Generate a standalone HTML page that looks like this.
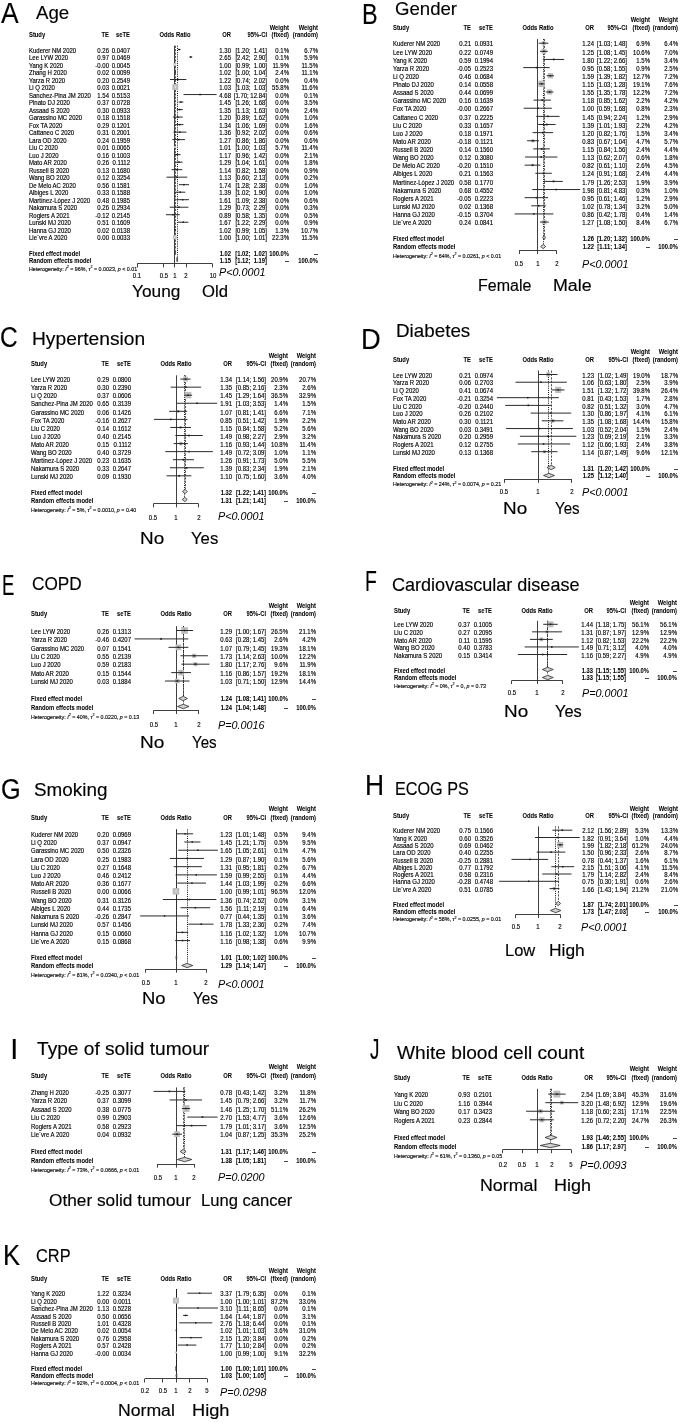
<!DOCTYPE html>
<html><head><meta charset="utf-8"><title>Forest plots</title><style>
html,body{margin:0;padding:0;background:#fff;}
body{width:685px;height:1422px;position:relative;overflow:hidden;filter:blur(0.3px);font-family:"Liberation Sans", sans-serif;color:#000;}
#t div{position:absolute;white-space:pre;}
#t div.s{-webkit-text-stroke:0.15px #000;}
#t div.sb{-webkit-text-stroke:0.05px #000;}
#t div.L{-webkit-text-stroke:0.15px #000;}
sup{font-size:0.7em;vertical-align:0;position:relative;top:-0.62em;line-height:0;}
svg{position:absolute;left:0;top:0;}
</style></head><body>
<svg width="685" height="1422" viewBox="0 0 685 1422">
<line x1="174.50" y1="45.70" x2="174.50" y2="263.80" stroke="#2a2a2a" stroke-width="0.90"/>
<line x1="175.50" y1="45.70" x2="175.50" y2="250.10" stroke="#2a2a2a" stroke-width="0.80" stroke-dasharray="2.2,1.2"/>
<line x1="177.50" y1="45.70" x2="177.50" y2="257.50" stroke="#111" stroke-width="1.00" stroke-dasharray="1,1.15"/>
<line x1="177.83" y1="49.50" x2="180.47" y2="49.50" stroke="#2a2a2a" stroke-width="1.00"/>
<rect x="178.39" y="48.75" width="1.50" height="1.50" fill="#1a1a1a"/>
<line x1="189.30" y1="57.01" x2="192.26" y2="57.01" stroke="#2a2a2a" stroke-width="1.00"/>
<rect x="190.04" y="56.26" width="1.50" height="1.50" fill="#1a1a1a"/>
<rect x="173.46" y="63.13" width="2.77" height="2.77" fill="#bebebe"/>
<line x1="174.85" y1="63.91" x2="174.85" y2="65.13" stroke="#f2f2f2" stroke-width="0.90"/>
<rect x="174.55" y="71.41" width="1.25" height="1.25" fill="#bebebe"/>
<line x1="174.85" y1="72.03" x2="175.49" y2="72.03" stroke="#2a2a2a" stroke-width="1.00"/>
<rect x="174.42" y="71.28" width="1.50" height="1.50" fill="#1a1a1a"/>
<line x1="169.93" y1="79.54" x2="186.35" y2="79.54" stroke="#2a2a2a" stroke-width="1.00"/>
<rect x="177.35" y="78.79" width="1.50" height="1.50" fill="#1a1a1a"/>
<rect x="172.33" y="84.05" width="6.01" height="6.01" fill="#bebebe"/>
<line x1="175.33" y1="85.73" x2="175.33" y2="88.37" stroke="#f2f2f2" stroke-width="0.90"/>
<line x1="183.53" y1="94.56" x2="216.59" y2="94.56" stroke="#2a2a2a" stroke-width="1.00"/>
<rect x="199.33" y="93.81" width="1.50" height="1.50" fill="#1a1a1a"/>
<line x1="178.63" y1="102.07" x2="183.33" y2="102.07" stroke="#2a2a2a" stroke-width="1.00"/>
<rect x="180.18" y="101.32" width="1.50" height="1.50" fill="#1a1a1a"/>
<line x1="176.85" y1="109.58" x2="182.84" y2="109.58" stroke="#2a2a2a" stroke-width="1.00"/>
<rect x="179.01" y="108.83" width="1.50" height="1.50" fill="#1a1a1a"/>
<line x1="172.94" y1="117.09" x2="182.74" y2="117.09" stroke="#2a2a2a" stroke-width="1.00"/>
<rect x="177.08" y="116.34" width="1.50" height="1.50" fill="#1a1a1a"/>
<line x1="175.80" y1="124.60" x2="183.43" y2="124.60" stroke="#2a2a2a" stroke-width="1.00"/>
<rect x="178.89" y="123.85" width="1.50" height="1.50" fill="#1a1a1a"/>
<line x1="173.49" y1="132.11" x2="186.35" y2="132.11" stroke="#2a2a2a" stroke-width="1.00"/>
<rect x="179.13" y="131.36" width="1.50" height="1.50" fill="#1a1a1a"/>
<line x1="172.38" y1="139.62" x2="185.00" y2="139.62" stroke="#2a2a2a" stroke-width="1.00"/>
<rect x="178.01" y="138.87" width="1.50" height="1.50" fill="#1a1a1a"/>
<rect x="174.05" y="146.17" width="1.92" height="1.92" fill="#bebebe"/>
<line x1="175.01" y1="146.71" x2="175.01" y2="147.55" stroke="#f2f2f2" stroke-width="0.90"/>
<line x1="174.18" y1="154.64" x2="180.58" y2="154.64" stroke="#2a2a2a" stroke-width="1.00"/>
<rect x="176.67" y="153.89" width="1.50" height="1.50" fill="#1a1a1a"/>
<line x1="175.49" y1="162.15" x2="182.64" y2="162.15" stroke="#2a2a2a" stroke-width="1.00"/>
<rect x="178.26" y="161.40" width="1.50" height="1.50" fill="#1a1a1a"/>
<line x1="171.61" y1="169.66" x2="182.33" y2="169.66" stroke="#2a2a2a" stroke-width="1.00"/>
<rect x="176.24" y="168.91" width="1.50" height="1.50" fill="#1a1a1a"/>
<line x1="166.50" y1="177.17" x2="187.21" y2="177.17" stroke="#2a2a2a" stroke-width="1.00"/>
<rect x="176.10" y="176.42" width="1.50" height="1.50" fill="#1a1a1a"/>
<line x1="178.89" y1="184.68" x2="189.03" y2="184.68" stroke="#2a2a2a" stroke-width="1.00"/>
<rect x="183.16" y="183.93" width="1.50" height="1.50" fill="#1a1a1a"/>
<line x1="175.17" y1="192.19" x2="185.35" y2="192.19" stroke="#2a2a2a" stroke-width="1.00"/>
<rect x="179.48" y="191.44" width="1.50" height="1.50" fill="#1a1a1a"/>
<line x1="176.26" y1="199.70" x2="189.03" y2="199.70" stroke="#2a2a2a" stroke-width="1.00"/>
<rect x="181.89" y="198.95" width="1.50" height="1.50" fill="#1a1a1a"/>
<line x1="169.70" y1="207.21" x2="188.40" y2="207.21" stroke="#2a2a2a" stroke-width="1.00"/>
<rect x="178.26" y="206.46" width="1.50" height="1.50" fill="#1a1a1a"/>
<line x1="165.94" y1="214.72" x2="179.76" y2="214.72" stroke="#2a2a2a" stroke-width="1.00"/>
<rect x="172.19" y="213.97" width="1.50" height="1.50" fill="#1a1a1a"/>
<line x1="178.10" y1="222.23" x2="188.40" y2="222.23" stroke="#2a2a2a" stroke-width="1.00"/>
<rect x="182.49" y="221.48" width="1.50" height="1.50" fill="#1a1a1a"/>
<rect x="174.72" y="229.28" width="0.92" height="0.92" fill="#bebebe"/>
<line x1="174.69" y1="229.74" x2="175.65" y2="229.74" stroke="#2a2a2a" stroke-width="1.00"/>
<rect x="174.42" y="228.99" width="1.50" height="1.50" fill="#1a1a1a"/>
<rect x="172.95" y="235.35" width="3.80" height="3.80" fill="#bebebe"/>
<line x1="174.85" y1="236.41" x2="174.85" y2="238.09" stroke="#f2f2f2" stroke-width="0.90"/>
<polygon points="175.17,252.50 175.17,250.30 175.17,252.50 175.17,254.70" fill="#d2d2d2" stroke="#2a2a2a" stroke-width="0.8"/>
<polygon points="176.70,259.50 177.14,257.30 177.69,259.50 177.14,261.70" fill="#d2d2d2" stroke="#2a2a2a" stroke-width="0.8"/>
<line x1="137.20" y1="263.50" x2="212.50" y2="263.50" stroke="#2a2a2a" stroke-width="0.90"/>
<line x1="137.50" y1="263.80" x2="137.50" y2="267.40" stroke="#2a2a2a" stroke-width="0.90"/>
<line x1="163.50" y1="263.80" x2="163.50" y2="267.40" stroke="#2a2a2a" stroke-width="0.90"/>
<line x1="174.50" y1="263.80" x2="174.50" y2="267.40" stroke="#2a2a2a" stroke-width="0.90"/>
<line x1="186.50" y1="263.80" x2="186.50" y2="267.40" stroke="#2a2a2a" stroke-width="0.90"/>
<line x1="212.50" y1="263.80" x2="212.50" y2="267.40" stroke="#2a2a2a" stroke-width="0.90"/>
<line x1="537.50" y1="39.10" x2="537.50" y2="250.40" stroke="#2a2a2a" stroke-width="0.90"/>
<line x1="544.50" y1="39.10" x2="544.50" y2="235.60" stroke="#2a2a2a" stroke-width="0.80" stroke-dasharray="2.2,1.2"/>
<line x1="543.50" y1="39.10" x2="543.50" y2="244.00" stroke="#111" stroke-width="1.00" stroke-dasharray="1,1.15"/>
<rect x="541.72" y="41.25" width="3.91" height="3.91" fill="#bebebe"/>
<line x1="538.69" y1="43.20" x2="548.42" y2="43.20" stroke="#2a2a2a" stroke-width="1.00"/>
<rect x="542.92" y="42.45" width="1.50" height="1.50" fill="#1a1a1a"/>
<rect x="541.47" y="48.91" width="4.85" height="4.85" fill="#bebebe"/>
<line x1="539.97" y1="51.33" x2="547.87" y2="51.33" stroke="#2a2a2a" stroke-width="1.00"/>
<rect x="543.14" y="50.58" width="1.50" height="1.50" fill="#1a1a1a"/>
<rect x="552.76" y="58.55" width="1.82" height="1.82" fill="#bebebe"/>
<line x1="543.24" y1="59.46" x2="564.16" y2="59.46" stroke="#2a2a2a" stroke-width="1.00"/>
<rect x="552.93" y="58.71" width="1.50" height="1.50" fill="#1a1a1a"/>
<rect x="535.82" y="66.88" width="1.41" height="1.41" fill="#bebebe"/>
<line x1="523.28" y1="67.59" x2="549.66" y2="67.59" stroke="#2a2a2a" stroke-width="1.00"/>
<rect x="535.77" y="66.84" width="1.50" height="1.50" fill="#1a1a1a"/>
<rect x="547.69" y="73.07" width="5.30" height="5.30" fill="#bebebe"/>
<line x1="546.74" y1="75.72" x2="553.97" y2="75.72" stroke="#2a2a2a" stroke-width="1.00"/>
<rect x="549.60" y="74.97" width="1.50" height="1.50" fill="#1a1a1a"/>
<rect x="538.40" y="80.60" width="6.50" height="6.50" fill="#bebebe"/>
<line x1="538.69" y1="83.85" x2="544.53" y2="83.85" stroke="#2a2a2a" stroke-width="1.00"/>
<rect x="540.90" y="83.10" width="1.50" height="1.50" fill="#1a1a1a"/>
<rect x="547.06" y="89.38" width="5.20" height="5.20" fill="#bebebe"/>
<line x1="545.95" y1="91.98" x2="553.38" y2="91.98" stroke="#2a2a2a" stroke-width="1.00"/>
<rect x="548.91" y="91.23" width="1.50" height="1.50" fill="#1a1a1a"/>
<rect x="541.24" y="99.01" width="2.21" height="2.21" fill="#bebebe"/>
<line x1="533.54" y1="100.11" x2="550.85" y2="100.11" stroke="#2a2a2a" stroke-width="1.00"/>
<rect x="541.59" y="99.36" width="1.50" height="1.50" fill="#1a1a1a"/>
<rect x="537.23" y="107.57" width="1.33" height="1.33" fill="#bebebe"/>
<line x1="523.74" y1="108.24" x2="551.82" y2="108.24" stroke="#2a2a2a" stroke-width="1.00"/>
<rect x="537.15" y="107.49" width="1.50" height="1.50" fill="#1a1a1a"/>
<rect x="547.06" y="115.55" width="1.63" height="1.63" fill="#bebebe"/>
<line x1="536.24" y1="116.37" x2="559.55" y2="116.37" stroke="#2a2a2a" stroke-width="1.00"/>
<rect x="547.12" y="115.62" width="1.50" height="1.50" fill="#1a1a1a"/>
<rect x="545.63" y="123.40" width="2.21" height="2.21" fill="#bebebe"/>
<line x1="538.17" y1="124.50" x2="555.55" y2="124.50" stroke="#2a2a2a" stroke-width="1.00"/>
<rect x="545.99" y="123.75" width="1.50" height="1.50" fill="#1a1a1a"/>
<rect x="541.88" y="131.72" width="1.82" height="1.82" fill="#bebebe"/>
<line x1="532.57" y1="132.63" x2="553.07" y2="132.63" stroke="#2a2a2a" stroke-width="1.00"/>
<rect x="542.04" y="131.88" width="1.50" height="1.50" fill="#1a1a1a"/>
<rect x="531.29" y="139.15" width="3.23" height="3.23" fill="#bebebe"/>
<line x1="527.15" y1="140.76" x2="538.95" y2="140.76" stroke="#2a2a2a" stroke-width="1.00"/>
<rect x="532.15" y="140.01" width="1.50" height="1.50" fill="#1a1a1a"/>
<rect x="540.50" y="147.74" width="2.31" height="2.31" fill="#bebebe"/>
<line x1="533.22" y1="148.89" x2="549.84" y2="148.89" stroke="#2a2a2a" stroke-width="1.00"/>
<rect x="540.90" y="148.14" width="1.50" height="1.50" fill="#1a1a1a"/>
<rect x="540.60" y="156.44" width="1.15" height="1.15" fill="#bebebe"/>
<line x1="525.07" y1="157.02" x2="557.43" y2="157.02" stroke="#2a2a2a" stroke-width="1.00"/>
<rect x="540.43" y="156.27" width="1.50" height="1.50" fill="#1a1a1a"/>
<rect x="531.37" y="163.95" width="2.40" height="2.40" fill="#bebebe"/>
<line x1="524.63" y1="165.15" x2="540.46" y2="165.15" stroke="#2a2a2a" stroke-width="1.00"/>
<rect x="531.82" y="164.40" width="1.50" height="1.50" fill="#1a1a1a"/>
<rect x="542.52" y="172.13" width="2.31" height="2.31" fill="#bebebe"/>
<line x1="535.37" y1="173.28" x2="551.82" y2="173.28" stroke="#2a2a2a" stroke-width="1.00"/>
<rect x="542.92" y="172.53" width="1.50" height="1.50" fill="#1a1a1a"/>
<rect x="552.50" y="180.38" width="2.05" height="2.05" fill="#bebebe"/>
<line x1="544.10" y1="181.41" x2="562.81" y2="181.41" stroke="#2a2a2a" stroke-width="1.00"/>
<rect x="552.78" y="180.66" width="1.50" height="1.50" fill="#1a1a1a"/>
<rect x="555.83" y="189.13" width="0.82" height="0.82" fill="#bebebe"/>
<line x1="532.24" y1="189.54" x2="580.17" y2="189.54" stroke="#2a2a2a" stroke-width="1.00"/>
<rect x="555.48" y="188.79" width="1.50" height="1.50" fill="#1a1a1a"/>
<rect x="535.71" y="196.85" width="1.63" height="1.63" fill="#bebebe"/>
<line x1="524.63" y1="197.67" x2="548.06" y2="197.67" stroke="#2a2a2a" stroke-width="1.00"/>
<rect x="535.77" y="196.92" width="1.50" height="1.50" fill="#1a1a1a"/>
<rect x="537.10" y="204.47" width="2.66" height="2.66" fill="#bebebe"/>
<line x1="531.23" y1="205.80" x2="545.76" y2="205.80" stroke="#2a2a2a" stroke-width="1.00"/>
<rect x="537.68" y="205.05" width="1.50" height="1.50" fill="#1a1a1a"/>
<rect x="533.38" y="213.46" width="0.94" height="0.94" fill="#bebebe"/>
<line x1="514.62" y1="213.93" x2="553.38" y2="213.93" stroke="#2a2a2a" stroke-width="1.00"/>
<rect x="533.10" y="213.18" width="1.50" height="1.50" fill="#1a1a1a"/>
<rect x="542.16" y="219.90" width="4.31" height="4.31" fill="#bebebe"/>
<line x1="539.97" y1="222.06" x2="548.78" y2="222.06" stroke="#2a2a2a" stroke-width="1.00"/>
<rect x="543.57" y="221.31" width="1.50" height="1.50" fill="#1a1a1a"/>
<polygon points="542.79,237.50 544.10,235.30 545.35,237.50 544.10,239.70" fill="#d2d2d2" stroke="#2a2a2a" stroke-width="0.8"/>
<polygon points="540.70,246.50 543.24,244.30 545.76,246.50 543.24,248.70" fill="#d2d2d2" stroke="#2a2a2a" stroke-width="0.8"/>
<line x1="519.30" y1="250.50" x2="556.50" y2="250.50" stroke="#2a2a2a" stroke-width="0.90"/>
<line x1="519.50" y1="250.40" x2="519.50" y2="254.00" stroke="#2a2a2a" stroke-width="0.90"/>
<line x1="537.50" y1="250.40" x2="537.50" y2="254.00" stroke="#2a2a2a" stroke-width="0.90"/>
<line x1="556.50" y1="250.40" x2="556.50" y2="254.00" stroke="#2a2a2a" stroke-width="0.90"/>
<line x1="176.50" y1="375.30" x2="176.50" y2="503.80" stroke="#2a2a2a" stroke-width="0.90"/>
<line x1="185.50" y1="375.30" x2="185.50" y2="489.10" stroke="#2a2a2a" stroke-width="0.80" stroke-dasharray="2.2,1.2"/>
<line x1="184.50" y1="375.30" x2="184.50" y2="497.20" stroke="#111" stroke-width="1.00" stroke-dasharray="1,1.15"/>
<rect x="183.12" y="376.66" width="4.88" height="4.88" fill="#bebebe"/>
<line x1="180.28" y1="379.10" x2="190.52" y2="379.10" stroke="#2a2a2a" stroke-width="1.00"/>
<rect x="184.81" y="378.35" width="1.50" height="1.50" fill="#1a1a1a"/>
<rect x="184.99" y="386.35" width="1.62" height="1.62" fill="#bebebe"/>
<line x1="170.69" y1="387.16" x2="201.15" y2="387.16" stroke="#2a2a2a" stroke-width="1.00"/>
<rect x="185.05" y="386.41" width="1.50" height="1.50" fill="#1a1a1a"/>
<rect x="184.91" y="392.00" width="6.45" height="6.45" fill="#bebebe"/>
<line x1="184.32" y1="395.22" x2="192.16" y2="395.22" stroke="#2a2a2a" stroke-width="1.00"/>
<rect x="187.38" y="394.47" width="1.50" height="1.50" fill="#1a1a1a"/>
<rect x="196.50" y="402.65" width="1.26" height="1.26" fill="#bebebe"/>
<line x1="176.97" y1="403.28" x2="217.19" y2="403.28" stroke="#2a2a2a" stroke-width="1.00"/>
<rect x="196.38" y="402.53" width="1.50" height="1.50" fill="#1a1a1a"/>
<rect x="176.84" y="409.97" width="2.74" height="2.74" fill="#bebebe"/>
<line x1="169.12" y1="411.34" x2="187.22" y2="411.34" stroke="#2a2a2a" stroke-width="1.00"/>
<rect x="177.46" y="410.59" width="1.50" height="1.50" fill="#1a1a1a"/>
<rect x="169.96" y="418.66" width="1.47" height="1.47" fill="#bebebe"/>
<line x1="154.01" y1="419.40" x2="187.45" y2="419.40" stroke="#2a2a2a" stroke-width="1.00"/>
<rect x="169.94" y="418.65" width="1.50" height="1.50" fill="#1a1a1a"/>
<rect x="179.35" y="426.24" width="2.43" height="2.43" fill="#bebebe"/>
<line x1="170.31" y1="427.46" x2="190.94" y2="427.46" stroke="#2a2a2a" stroke-width="1.00"/>
<rect x="179.81" y="426.71" width="1.50" height="1.50" fill="#1a1a1a"/>
<rect x="188.11" y="434.61" width="1.82" height="1.82" fill="#bebebe"/>
<line x1="175.34" y1="435.52" x2="202.77" y2="435.52" stroke="#2a2a2a" stroke-width="1.00"/>
<rect x="188.27" y="434.77" width="1.50" height="1.50" fill="#1a1a1a"/>
<rect x="179.09" y="441.83" width="3.51" height="3.51" fill="#bebebe"/>
<line x1="173.63" y1="443.58" x2="187.91" y2="443.58" stroke="#2a2a2a" stroke-width="1.00"/>
<rect x="180.10" y="442.83" width="1.50" height="1.50" fill="#1a1a1a"/>
<rect x="188.49" y="451.11" width="1.07" height="1.07" fill="#bebebe"/>
<line x1="165.27" y1="451.64" x2="212.84" y2="451.64" stroke="#2a2a2a" stroke-width="1.00"/>
<rect x="188.27" y="450.89" width="1.50" height="1.50" fill="#1a1a1a"/>
<rect x="182.35" y="458.51" width="2.39" height="2.39" fill="#bebebe"/>
<line x1="172.92" y1="459.70" x2="193.90" y2="459.70" stroke="#2a2a2a" stroke-width="1.00"/>
<rect x="182.80" y="458.95" width="1.50" height="1.50" fill="#1a1a1a"/>
<rect x="186.02" y="467.02" width="1.47" height="1.47" fill="#bebebe"/>
<line x1="169.91" y1="467.76" x2="203.77" y2="467.76" stroke="#2a2a2a" stroke-width="1.00"/>
<rect x="186.00" y="467.01" width="1.50" height="1.50" fill="#1a1a1a"/>
<rect x="178.10" y="474.81" width="2.03" height="2.03" fill="#bebebe"/>
<line x1="166.60" y1="475.82" x2="191.35" y2="475.82" stroke="#2a2a2a" stroke-width="1.00"/>
<rect x="178.36" y="475.07" width="1.50" height="1.50" fill="#1a1a1a"/>
<polygon points="182.49,491.50 185.07,489.30 187.22,491.50 185.07,493.70" fill="#d2d2d2" stroke="#2a2a2a" stroke-width="0.8"/>
<polygon points="182.23,499.50 184.82,497.30 187.22,499.50 184.82,501.70" fill="#d2d2d2" stroke="#2a2a2a" stroke-width="0.8"/>
<line x1="153.36" y1="503.50" x2="198.64" y2="503.50" stroke="#2a2a2a" stroke-width="0.90"/>
<line x1="153.50" y1="503.80" x2="153.50" y2="507.40" stroke="#2a2a2a" stroke-width="0.90"/>
<line x1="176.50" y1="503.80" x2="176.50" y2="507.40" stroke="#2a2a2a" stroke-width="0.90"/>
<line x1="198.50" y1="503.80" x2="198.50" y2="507.40" stroke="#2a2a2a" stroke-width="0.90"/>
<line x1="538.50" y1="370.50" x2="538.50" y2="479.30" stroke="#2a2a2a" stroke-width="0.90"/>
<line x1="551.50" y1="370.50" x2="551.50" y2="465.30" stroke="#2a2a2a" stroke-width="0.80" stroke-dasharray="2.2,1.2"/>
<line x1="548.50" y1="370.50" x2="548.50" y2="472.80" stroke="#111" stroke-width="1.00" stroke-dasharray="1,1.15"/>
<rect x="546.03" y="372.37" width="4.27" height="4.27" fill="#bebebe"/>
<line x1="539.02" y1="374.50" x2="557.53" y2="374.50" stroke="#2a2a2a" stroke-width="1.00"/>
<rect x="547.41" y="373.75" width="1.50" height="1.50" fill="#1a1a1a"/>
<rect x="540.12" y="381.45" width="1.55" height="1.55" fill="#bebebe"/>
<line x1="515.48" y1="382.22" x2="566.77" y2="382.22" stroke="#2a2a2a" stroke-width="1.00"/>
<rect x="540.15" y="381.47" width="1.50" height="1.50" fill="#1a1a1a"/>
<rect x="555.10" y="386.85" width="6.18" height="6.18" fill="#bebebe"/>
<line x1="551.61" y1="389.94" x2="564.55" y2="389.94" stroke="#2a2a2a" stroke-width="1.00"/>
<rect x="557.43" y="389.19" width="1.50" height="1.50" fill="#1a1a1a"/>
<rect x="527.12" y="397.02" width="1.28" height="1.28" fill="#bebebe"/>
<line x1="496.82" y1="397.66" x2="558.83" y2="397.66" stroke="#2a2a2a" stroke-width="1.00"/>
<rect x="527.00" y="396.91" width="1.50" height="1.50" fill="#1a1a1a"/>
<rect x="527.51" y="404.53" width="1.70" height="1.70" fill="#bebebe"/>
<line x1="505.15" y1="405.38" x2="551.61" y2="405.38" stroke="#2a2a2a" stroke-width="1.00"/>
<rect x="527.60" y="404.63" width="1.50" height="1.50" fill="#1a1a1a"/>
<rect x="549.88" y="412.11" width="1.98" height="1.98" fill="#bebebe"/>
<line x1="530.68" y1="413.10" x2="571.18" y2="413.10" stroke="#2a2a2a" stroke-width="1.00"/>
<rect x="550.12" y="412.35" width="1.50" height="1.50" fill="#1a1a1a"/>
<rect x="550.86" y="418.96" width="3.71" height="3.71" fill="#bebebe"/>
<line x1="541.81" y1="420.82" x2="563.40" y2="420.82" stroke="#2a2a2a" stroke-width="1.00"/>
<rect x="551.96" y="420.07" width="1.50" height="1.50" fill="#1a1a1a"/>
<rect x="538.89" y="427.94" width="1.20" height="1.20" fill="#bebebe"/>
<line x1="506.10" y1="428.54" x2="572.88" y2="428.54" stroke="#2a2a2a" stroke-width="1.00"/>
<rect x="538.74" y="427.79" width="1.50" height="1.50" fill="#1a1a1a"/>
<rect x="547.45" y="435.55" width="1.42" height="1.42" fill="#bebebe"/>
<line x1="519.92" y1="436.26" x2="576.35" y2="436.26" stroke="#2a2a2a" stroke-width="1.00"/>
<rect x="547.41" y="435.51" width="1.50" height="1.50" fill="#1a1a1a"/>
<rect x="542.83" y="443.22" width="1.52" height="1.52" fill="#bebebe"/>
<line x1="517.75" y1="443.98" x2="570.18" y2="443.98" stroke="#2a2a2a" stroke-width="1.00"/>
<rect x="542.84" y="443.23" width="1.50" height="1.50" fill="#1a1a1a"/>
<rect x="542.94" y="450.18" width="3.03" height="3.03" fill="#bebebe"/>
<line x1="531.25" y1="451.70" x2="557.53" y2="451.70" stroke="#2a2a2a" stroke-width="1.00"/>
<rect x="543.70" y="450.95" width="1.50" height="1.50" fill="#1a1a1a"/>
<polygon points="546.96,467.50 551.24,465.30 555.18,467.50 551.24,469.70" fill="#d2d2d2" stroke="#2a2a2a" stroke-width="0.8"/>
<polygon points="543.59,475.50 548.95,473.30 554.49,475.50 548.95,477.70" fill="#d2d2d2" stroke="#2a2a2a" stroke-width="0.8"/>
<line x1="504.18" y1="479.50" x2="571.92" y2="479.50" stroke="#2a2a2a" stroke-width="0.90"/>
<line x1="504.50" y1="479.30" x2="504.50" y2="482.90" stroke="#2a2a2a" stroke-width="0.90"/>
<line x1="538.50" y1="479.30" x2="538.50" y2="482.90" stroke="#2a2a2a" stroke-width="0.90"/>
<line x1="571.50" y1="479.30" x2="571.50" y2="482.90" stroke="#2a2a2a" stroke-width="0.90"/>
<line x1="176.50" y1="626.10" x2="176.50" y2="710.40" stroke="#2a2a2a" stroke-width="0.90"/>
<line x1="183.50" y1="626.10" x2="183.50" y2="696.00" stroke="#2a2a2a" stroke-width="0.80" stroke-dasharray="2.2,1.2"/>
<line x1="183.50" y1="626.10" x2="183.50" y2="704.30" stroke="#111" stroke-width="1.00" stroke-dasharray="1,1.15"/>
<rect x="181.17" y="627.13" width="6.74" height="6.74" fill="#bebebe"/>
<line x1="176.20" y1="630.50" x2="192.99" y2="630.50" stroke="#2a2a2a" stroke-width="1.00"/>
<rect x="183.79" y="629.75" width="1.50" height="1.50" fill="#1a1a1a"/>
<rect x="160.02" y="637.87" width="2.11" height="2.11" fill="#bebebe"/>
<line x1="134.52" y1="638.92" x2="188.37" y2="638.92" stroke="#2a2a2a" stroke-width="1.00"/>
<rect x="160.32" y="638.17" width="1.50" height="1.50" fill="#1a1a1a"/>
<rect x="175.54" y="644.47" width="5.75" height="5.75" fill="#bebebe"/>
<line x1="168.48" y1="647.34" x2="188.37" y2="647.34" stroke="#2a2a2a" stroke-width="1.00"/>
<rect x="177.67" y="646.59" width="1.50" height="1.50" fill="#1a1a1a"/>
<rect x="192.08" y="653.69" width="4.14" height="4.14" fill="#bebebe"/>
<line x1="180.49" y1="655.76" x2="207.86" y2="655.76" stroke="#2a2a2a" stroke-width="1.00"/>
<rect x="193.40" y="655.01" width="1.50" height="1.50" fill="#1a1a1a"/>
<rect x="193.42" y="662.15" width="4.05" height="4.05" fill="#bebebe"/>
<line x1="181.34" y1="664.18" x2="209.44" y2="664.18" stroke="#2a2a2a" stroke-width="1.00"/>
<rect x="194.70" y="663.43" width="1.50" height="1.50" fill="#1a1a1a"/>
<rect x="178.19" y="669.73" width="5.73" height="5.73" fill="#bebebe"/>
<line x1="171.26" y1="672.60" x2="190.97" y2="672.60" stroke="#2a2a2a" stroke-width="1.00"/>
<rect x="180.31" y="671.85" width="1.50" height="1.50" fill="#1a1a1a"/>
<rect x="174.82" y="678.67" width="4.70" height="4.70" fill="#bebebe"/>
<line x1="164.98" y1="681.02" x2="189.48" y2="681.02" stroke="#2a2a2a" stroke-width="1.00"/>
<rect x="176.42" y="680.27" width="1.50" height="1.50" fill="#1a1a1a"/>
<polygon points="178.72,698.50 183.24,696.30 187.45,698.50 183.24,700.70" fill="#d2d2d2" stroke="#2a2a2a" stroke-width="0.8"/>
<polygon points="177.48,706.50 183.24,704.30 189.04,706.50 183.24,708.70" fill="#d2d2d2" stroke="#2a2a2a" stroke-width="0.8"/>
<line x1="153.50" y1="710.50" x2="198.90" y2="710.50" stroke="#2a2a2a" stroke-width="0.90"/>
<line x1="153.50" y1="710.40" x2="153.50" y2="714.00" stroke="#2a2a2a" stroke-width="0.90"/>
<line x1="176.50" y1="710.40" x2="176.50" y2="714.00" stroke="#2a2a2a" stroke-width="0.90"/>
<line x1="198.50" y1="710.40" x2="198.50" y2="714.00" stroke="#2a2a2a" stroke-width="0.90"/>
<line x1="537.50" y1="620.80" x2="537.50" y2="680.40" stroke="#2a2a2a" stroke-width="0.90"/>
<line x1="547.50" y1="620.80" x2="547.50" y2="667.10" stroke="#2a2a2a" stroke-width="0.80" stroke-dasharray="2.2,1.2"/>
<line x1="547.50" y1="620.80" x2="547.50" y2="674.70" stroke="#111" stroke-width="1.00" stroke-dasharray="1,1.15"/>
<rect x="547.51" y="621.28" width="6.04" height="6.04" fill="#bebebe"/>
<line x1="543.25" y1="624.30" x2="557.66" y2="624.30" stroke="#2a2a2a" stroke-width="1.00"/>
<rect x="549.78" y="623.55" width="1.50" height="1.50" fill="#1a1a1a"/>
<rect x="545.63" y="630.40" width="2.90" height="2.90" fill="#bebebe"/>
<line x1="532.11" y1="631.85" x2="561.99" y2="631.85" stroke="#2a2a2a" stroke-width="1.00"/>
<rect x="546.32" y="631.10" width="1.50" height="1.50" fill="#1a1a1a"/>
<rect x="539.44" y="637.50" width="3.80" height="3.80" fill="#bebebe"/>
<line x1="529.94" y1="639.40" x2="552.75" y2="639.40" stroke="#2a2a2a" stroke-width="1.00"/>
<rect x="540.59" y="638.65" width="1.50" height="1.50" fill="#1a1a1a"/>
<rect x="550.98" y="646.14" width="1.61" height="1.61" fill="#bebebe"/>
<line x1="524.68" y1="646.95" x2="578.81" y2="646.95" stroke="#2a2a2a" stroke-width="1.00"/>
<rect x="551.03" y="646.20" width="1.50" height="1.50" fill="#1a1a1a"/>
<rect x="541.73" y="653.61" width="1.79" height="1.79" fill="#bebebe"/>
<line x1="517.91" y1="654.50" x2="567.18" y2="654.50" stroke="#2a2a2a" stroke-width="1.00"/>
<rect x="541.88" y="653.75" width="1.50" height="1.50" fill="#1a1a1a"/>
<polygon points="542.31,669.50 547.63,667.30 553.23,669.50 547.63,671.70" fill="#d2d2d2" stroke="#2a2a2a" stroke-width="0.8"/>
<polygon points="542.31,677.50 547.63,675.30 553.23,677.50 547.63,679.70" fill="#d2d2d2" stroke="#2a2a2a" stroke-width="0.8"/>
<line x1="511.85" y1="680.50" x2="562.55" y2="680.50" stroke="#2a2a2a" stroke-width="0.90"/>
<line x1="511.50" y1="680.40" x2="511.50" y2="684.00" stroke="#2a2a2a" stroke-width="0.90"/>
<line x1="537.50" y1="680.40" x2="537.50" y2="684.00" stroke="#2a2a2a" stroke-width="0.90"/>
<line x1="562.50" y1="680.40" x2="562.50" y2="684.00" stroke="#2a2a2a" stroke-width="0.90"/>
<line x1="176.50" y1="829.40" x2="176.50" y2="969.10" stroke="#2a2a2a" stroke-width="0.90"/>
<line x1="176.50" y1="829.40" x2="176.50" y2="954.80" stroke="#2a2a2a" stroke-width="0.80" stroke-dasharray="2.2,1.2"/>
<line x1="187.50" y1="829.40" x2="187.50" y2="963.00" stroke="#111" stroke-width="1.00" stroke-dasharray="1,1.15"/>
<rect x="184.80" y="833.56" width="0.47" height="0.47" fill="#bebebe"/>
<line x1="176.43" y1="833.80" x2="193.11" y2="833.80" stroke="#2a2a2a" stroke-width="1.00"/>
<rect x="184.29" y="833.05" width="1.50" height="1.50" fill="#1a1a1a"/>
<rect x="191.98" y="841.78" width="0.47" height="0.47" fill="#bebebe"/>
<line x1="184.32" y1="842.01" x2="200.43" y2="842.01" stroke="#2a2a2a" stroke-width="1.00"/>
<rect x="191.47" y="841.26" width="1.50" height="1.50" fill="#1a1a1a"/>
<line x1="178.13" y1="850.23" x2="217.87" y2="850.23" stroke="#2a2a2a" stroke-width="1.00"/>
<rect x="197.11" y="849.48" width="1.50" height="1.50" fill="#1a1a1a"/>
<line x1="169.92" y1="858.44" x2="204.01" y2="858.44" stroke="#2a2a2a" stroke-width="1.00"/>
<rect x="186.36" y="857.69" width="1.50" height="1.50" fill="#1a1a1a"/>
<line x1="173.76" y1="866.66" x2="201.90" y2="866.66" stroke="#2a2a2a" stroke-width="1.00"/>
<rect x="187.04" y="865.91" width="1.50" height="1.50" fill="#1a1a1a"/>
<line x1="175.56" y1="874.88" x2="216.86" y2="874.88" stroke="#2a2a2a" stroke-width="1.00"/>
<rect x="195.49" y="874.12" width="1.50" height="1.50" fill="#1a1a1a"/>
<line x1="177.29" y1="883.09" x2="206.03" y2="883.09" stroke="#2a2a2a" stroke-width="1.00"/>
<rect x="191.17" y="882.34" width="1.50" height="1.50" fill="#1a1a1a"/>
<rect x="172.71" y="888.02" width="6.57" height="6.57" fill="#bebebe"/>
<line x1="176.00" y1="889.86" x2="176.00" y2="892.75" stroke="#f2f2f2" stroke-width="0.90"/>
<line x1="162.86" y1="899.52" x2="216.34" y2="899.52" stroke="#2a2a2a" stroke-width="1.00"/>
<rect x="188.67" y="898.77" width="1.50" height="1.50" fill="#1a1a1a"/>
<line x1="180.55" y1="907.73" x2="210.21" y2="907.73" stroke="#2a2a2a" stroke-width="1.00"/>
<rect x="194.66" y="906.98" width="1.50" height="1.50" fill="#1a1a1a"/>
<line x1="140.17" y1="915.95" x2="189.10" y2="915.95" stroke="#2a2a2a" stroke-width="1.00"/>
<rect x="163.84" y="915.20" width="1.50" height="1.50" fill="#1a1a1a"/>
<line x1="188.45" y1="924.16" x2="213.48" y2="924.16" stroke="#2a2a2a" stroke-width="1.00"/>
<rect x="200.42" y="923.41" width="1.50" height="1.50" fill="#1a1a1a"/>
<rect x="182.14" y="932.05" width="0.67" height="0.67" fill="#bebebe"/>
<line x1="176.86" y1="932.38" x2="188.12" y2="932.38" stroke="#2a2a2a" stroke-width="1.00"/>
<rect x="181.73" y="931.63" width="1.50" height="1.50" fill="#1a1a1a"/>
<rect x="182.22" y="940.34" width="0.52" height="0.52" fill="#bebebe"/>
<line x1="175.12" y1="940.59" x2="190.06" y2="940.59" stroke="#2a2a2a" stroke-width="1.00"/>
<rect x="181.73" y="939.84" width="1.50" height="1.50" fill="#1a1a1a"/>
<polygon points="176.00,957.50 176.43,955.30 176.86,957.50 176.43,959.70" fill="#d2d2d2" stroke="#2a2a2a" stroke-width="0.8"/>
<polygon points="181.72,965.50 187.11,963.30 192.82,965.50 187.11,967.70" fill="#d2d2d2" stroke="#2a2a2a" stroke-width="0.8"/>
<line x1="145.75" y1="969.50" x2="206.25" y2="969.50" stroke="#2a2a2a" stroke-width="0.90"/>
<line x1="145.50" y1="969.10" x2="145.50" y2="972.70" stroke="#2a2a2a" stroke-width="0.90"/>
<line x1="176.50" y1="969.10" x2="176.50" y2="972.70" stroke="#2a2a2a" stroke-width="0.90"/>
<line x1="206.50" y1="969.10" x2="206.50" y2="972.70" stroke="#2a2a2a" stroke-width="0.90"/>
<line x1="538.50" y1="826.40" x2="538.50" y2="914.50" stroke="#2a2a2a" stroke-width="0.90"/>
<line x1="558.50" y1="826.40" x2="558.50" y2="901.05" stroke="#2a2a2a" stroke-width="0.80" stroke-dasharray="2.2,1.2"/>
<line x1="555.50" y1="826.40" x2="555.50" y2="908.10" stroke="#111" stroke-width="1.00" stroke-dasharray="1,1.15"/>
<rect x="561.42" y="829.34" width="1.72" height="1.72" fill="#bebebe"/>
<line x1="552.37" y1="830.20" x2="572.29" y2="830.20" stroke="#2a2a2a" stroke-width="1.00"/>
<rect x="561.53" y="829.45" width="1.50" height="1.50" fill="#1a1a1a"/>
<rect x="556.98" y="837.13" width="0.75" height="0.75" fill="#bebebe"/>
<line x1="534.95" y1="837.50" x2="579.75" y2="837.50" stroke="#2a2a2a" stroke-width="1.00"/>
<rect x="556.60" y="836.75" width="1.50" height="1.50" fill="#1a1a1a"/>
<rect x="557.31" y="841.88" width="5.84" height="5.84" fill="#bebebe"/>
<line x1="557.35" y1="844.80" x2="563.18" y2="844.80" stroke="#2a2a2a" stroke-width="1.00"/>
<rect x="559.48" y="844.05" width="1.50" height="1.50" fill="#1a1a1a"/>
<rect x="550.50" y="851.50" width="1.20" height="1.20" fill="#bebebe"/>
<line x1="536.68" y1="852.10" x2="565.33" y2="852.10" stroke="#2a2a2a" stroke-width="1.00"/>
<rect x="550.35" y="851.35" width="1.50" height="1.50" fill="#1a1a1a"/>
<rect x="529.50" y="858.93" width="0.94" height="0.94" fill="#bebebe"/>
<line x1="511.47" y1="859.40" x2="548.17" y2="859.40" stroke="#2a2a2a" stroke-width="1.00"/>
<rect x="529.22" y="858.65" width="1.50" height="1.50" fill="#1a1a1a"/>
<rect x="561.98" y="865.94" width="1.51" height="1.51" fill="#bebebe"/>
<line x1="551.32" y1="866.70" x2="574.14" y2="866.70" stroke="#2a2a2a" stroke-width="1.00"/>
<rect x="561.98" y="865.95" width="1.50" height="1.50" fill="#1a1a1a"/>
<rect x="556.23" y="873.42" width="1.16" height="1.16" fill="#bebebe"/>
<line x1="542.23" y1="874.00" x2="571.50" y2="874.00" stroke="#2a2a2a" stroke-width="1.00"/>
<rect x="556.06" y="873.25" width="1.50" height="1.50" fill="#1a1a1a"/>
<rect x="528.42" y="881.01" width="0.58" height="0.58" fill="#bebebe"/>
<line x1="499.10" y1="881.30" x2="558.91" y2="881.30" stroke="#2a2a2a" stroke-width="1.00"/>
<rect x="527.95" y="880.55" width="1.50" height="1.50" fill="#1a1a1a"/>
<rect x="552.66" y="886.88" width="3.44" height="3.44" fill="#bebebe"/>
<line x1="549.56" y1="888.60" x2="559.41" y2="888.60" stroke="#2a2a2a" stroke-width="1.00"/>
<rect x="553.63" y="887.85" width="1.50" height="1.50" fill="#1a1a1a"/>
<polygon points="555.90,903.50 558.23,901.30 560.56,903.50 558.23,905.70" fill="#d2d2d2" stroke="#2a2a2a" stroke-width="0.8"/>
<polygon points="550.45,910.50 555.71,908.30 560.88,910.50 555.71,912.70" fill="#d2d2d2" stroke="#2a2a2a" stroke-width="0.8"/>
<line x1="515.60" y1="914.50" x2="560.40" y2="914.50" stroke="#2a2a2a" stroke-width="0.90"/>
<line x1="515.50" y1="914.50" x2="515.50" y2="918.10" stroke="#2a2a2a" stroke-width="0.90"/>
<line x1="538.50" y1="914.50" x2="538.50" y2="918.10" stroke="#2a2a2a" stroke-width="0.90"/>
<line x1="560.50" y1="914.50" x2="560.50" y2="918.10" stroke="#2a2a2a" stroke-width="0.90"/>
<line x1="176.50" y1="1087.40" x2="176.50" y2="1164.10" stroke="#2a2a2a" stroke-width="0.90"/>
<line x1="183.50" y1="1087.40" x2="183.50" y2="1149.00" stroke="#2a2a2a" stroke-width="0.80" stroke-dasharray="2.2,1.2"/>
<line x1="184.50" y1="1087.40" x2="184.50" y2="1157.50" stroke="#111" stroke-width="1.00" stroke-dasharray="1,1.15"/>
<rect x="168.53" y="1090.54" width="1.71" height="1.71" fill="#bebebe"/>
<line x1="153.53" y1="1091.40" x2="185.34" y2="1091.40" stroke="#2a2a2a" stroke-width="1.00"/>
<rect x="168.64" y="1090.65" width="1.50" height="1.50" fill="#1a1a1a"/>
<rect x="185.04" y="1099.10" width="1.71" height="1.71" fill="#bebebe"/>
<line x1="169.72" y1="1099.96" x2="202.05" y2="1099.96" stroke="#2a2a2a" stroke-width="1.00"/>
<rect x="185.14" y="1099.21" width="1.50" height="1.50" fill="#1a1a1a"/>
<rect x="182.65" y="1105.10" width="6.85" height="6.85" fill="#bebebe"/>
<line x1="181.94" y1="1108.52" x2="190.13" y2="1108.52" stroke="#2a2a2a" stroke-width="1.00"/>
<rect x="185.32" y="1107.77" width="1.50" height="1.50" fill="#1a1a1a"/>
<rect x="201.53" y="1116.17" width="1.82" height="1.82" fill="#bebebe"/>
<line x1="187.32" y1="1117.08" x2="217.59" y2="1117.08" stroke="#2a2a2a" stroke-width="1.00"/>
<rect x="201.69" y="1116.33" width="1.50" height="1.50" fill="#1a1a1a"/>
<rect x="190.59" y="1124.73" width="1.82" height="1.82" fill="#bebebe"/>
<line x1="176.26" y1="1125.64" x2="206.71" y2="1125.64" stroke="#2a2a2a" stroke-width="1.00"/>
<rect x="190.75" y="1124.89" width="1.50" height="1.50" fill="#1a1a1a"/>
<rect x="174.20" y="1131.35" width="5.69" height="5.69" fill="#bebebe"/>
<line x1="172.29" y1="1134.20" x2="181.94" y2="1134.20" stroke="#2a2a2a" stroke-width="1.00"/>
<rect x="176.29" y="1133.45" width="1.50" height="1.50" fill="#1a1a1a"/>
<polygon points="180.18,1151.50 183.19,1149.30 186.07,1151.50 183.19,1153.70" fill="#d2d2d2" stroke="#2a2a2a" stroke-width="0.8"/>
<polygon points="177.30,1159.50 184.57,1157.30 191.80,1159.50 184.57,1161.70" fill="#d2d2d2" stroke="#2a2a2a" stroke-width="0.8"/>
<line x1="157.55" y1="1164.50" x2="194.45" y2="1164.50" stroke="#2a2a2a" stroke-width="0.90"/>
<line x1="157.50" y1="1164.10" x2="157.50" y2="1167.70" stroke="#2a2a2a" stroke-width="0.90"/>
<line x1="176.50" y1="1164.10" x2="176.50" y2="1167.70" stroke="#2a2a2a" stroke-width="0.90"/>
<line x1="194.50" y1="1164.10" x2="194.50" y2="1167.70" stroke="#2a2a2a" stroke-width="0.90"/>
<line x1="537.50" y1="1088.80" x2="537.50" y2="1149.60" stroke="#2a2a2a" stroke-width="0.90"/>
<line x1="551.50" y1="1088.80" x2="551.50" y2="1134.70" stroke="#2a2a2a" stroke-width="0.80" stroke-dasharray="2.2,1.2"/>
<line x1="550.50" y1="1088.80" x2="550.50" y2="1143.20" stroke="#111" stroke-width="1.00" stroke-dasharray="1,1.15"/>
<rect x="553.44" y="1090.67" width="6.86" height="6.86" fill="#bebebe"/>
<line x1="548.18" y1="1094.10" x2="565.67" y2="1094.10" stroke="#2a2a2a" stroke-width="1.00"/>
<rect x="556.12" y="1093.35" width="1.50" height="1.50" fill="#1a1a1a"/>
<rect x="559.96" y="1100.84" width="3.66" height="3.66" fill="#bebebe"/>
<line x1="545.35" y1="1102.67" x2="578.22" y2="1102.67" stroke="#2a2a2a" stroke-width="1.00"/>
<rect x="561.04" y="1101.92" width="1.50" height="1.50" fill="#1a1a1a"/>
<rect x="538.42" y="1109.13" width="4.21" height="4.21" fill="#bebebe"/>
<line x1="526.11" y1="1111.24" x2="554.84" y2="1111.24" stroke="#2a2a2a" stroke-width="1.00"/>
<rect x="539.78" y="1110.49" width="1.50" height="1.50" fill="#1a1a1a"/>
<rect x="539.39" y="1117.28" width="5.06" height="5.06" fill="#bebebe"/>
<line x1="530.00" y1="1119.81" x2="553.80" y2="1119.81" stroke="#2a2a2a" stroke-width="1.00"/>
<rect x="541.18" y="1119.06" width="1.50" height="1.50" fill="#1a1a1a"/>
<polygon points="545.06,1137.50 551.01,1135.30 556.95,1137.50 551.01,1139.70" fill="#d2d2d2" stroke="#2a2a2a" stroke-width="0.8"/>
<polygon points="540.35,1145.50 550.23,1143.30 560.20,1145.50 550.23,1147.70" fill="#d2d2d2" stroke="#2a2a2a" stroke-width="0.8"/>
<line x1="502.70" y1="1149.50" x2="571.30" y2="1149.50" stroke="#2a2a2a" stroke-width="0.90"/>
<line x1="502.50" y1="1149.60" x2="502.50" y2="1153.20" stroke="#2a2a2a" stroke-width="0.90"/>
<line x1="522.50" y1="1149.60" x2="522.50" y2="1153.20" stroke="#2a2a2a" stroke-width="0.90"/>
<line x1="537.50" y1="1149.60" x2="537.50" y2="1153.20" stroke="#2a2a2a" stroke-width="0.90"/>
<line x1="551.50" y1="1149.60" x2="551.50" y2="1153.20" stroke="#2a2a2a" stroke-width="0.90"/>
<line x1="571.50" y1="1149.60" x2="571.50" y2="1153.20" stroke="#2a2a2a" stroke-width="0.90"/>
<line x1="176.50" y1="1289.10" x2="176.50" y2="1378.90" stroke="#2a2a2a" stroke-width="0.90"/>
<line x1="176.50" y1="1289.10" x2="176.50" y2="1365.70" stroke="#2a2a2a" stroke-width="0.80" stroke-dasharray="2.2,1.2"/>
<line x1="176.50" y1="1289.10" x2="176.50" y2="1372.70" stroke="#111" stroke-width="1.00" stroke-dasharray="1,1.15"/>
<line x1="187.33" y1="1293.20" x2="211.96" y2="1293.20" stroke="#2a2a2a" stroke-width="1.00"/>
<rect x="198.89" y="1292.45" width="1.50" height="1.50" fill="#1a1a1a"/>
<rect x="173.04" y="1297.65" width="5.93" height="5.93" fill="#bebebe"/>
<line x1="176.00" y1="1299.31" x2="176.00" y2="1301.91" stroke="#f2f2f2" stroke-width="0.90"/>
<line x1="178.03" y1="1308.02" x2="217.98" y2="1308.02" stroke="#2a2a2a" stroke-width="1.00"/>
<rect x="197.26" y="1307.27" width="1.50" height="1.50" fill="#1a1a1a"/>
<line x1="183.09" y1="1315.43" x2="188.18" y2="1315.43" stroke="#2a2a2a" stroke-width="1.00"/>
<rect x="184.88" y="1314.68" width="1.50" height="1.50" fill="#1a1a1a"/>
<line x1="179.22" y1="1322.84" x2="212.24" y2="1322.84" stroke="#2a2a2a" stroke-width="1.00"/>
<rect x="195.00" y="1322.09" width="1.50" height="1.50" fill="#1a1a1a"/>
<rect x="175.78" y="1329.65" width="1.20" height="1.20" fill="#bebebe"/>
<line x1="176.19" y1="1330.25" x2="176.58" y2="1330.25" stroke="#2a2a2a" stroke-width="1.00"/>
<rect x="175.64" y="1329.50" width="1.50" height="1.50" fill="#1a1a1a"/>
<line x1="179.55" y1="1337.66" x2="202.18" y2="1337.66" stroke="#2a2a2a" stroke-width="1.00"/>
<rect x="190.14" y="1336.91" width="1.50" height="1.50" fill="#1a1a1a"/>
<line x1="177.85" y1="1345.07" x2="196.31" y2="1345.07" stroke="#2a2a2a" stroke-width="1.00"/>
<rect x="186.36" y="1344.32" width="1.50" height="1.50" fill="#1a1a1a"/>
<rect x="175.04" y="1351.52" width="1.92" height="1.92" fill="#bebebe"/>
<line x1="176.00" y1="1352.06" x2="176.00" y2="1352.90" stroke="#f2f2f2" stroke-width="0.90"/>
<polygon points="176.00,1368.50 176.00,1366.30 176.19,1368.50 176.00,1370.70" fill="#d2d2d2" stroke="#2a2a2a" stroke-width="0.8"/>
<polygon points="176.00,1375.50 176.58,1373.30 176.95,1375.50 176.58,1377.70" fill="#d2d2d2" stroke="#2a2a2a" stroke-width="0.8"/>
<line x1="144.69" y1="1378.50" x2="207.31" y2="1378.50" stroke="#2a2a2a" stroke-width="0.90"/>
<line x1="144.50" y1="1378.90" x2="144.50" y2="1382.50" stroke="#2a2a2a" stroke-width="0.90"/>
<line x1="162.50" y1="1378.90" x2="162.50" y2="1382.50" stroke="#2a2a2a" stroke-width="0.90"/>
<line x1="176.50" y1="1378.90" x2="176.50" y2="1382.50" stroke="#2a2a2a" stroke-width="0.90"/>
<line x1="189.50" y1="1378.90" x2="189.50" y2="1382.50" stroke="#2a2a2a" stroke-width="0.90"/>
<line x1="207.50" y1="1378.90" x2="207.50" y2="1382.50" stroke="#2a2a2a" stroke-width="0.90"/>
</svg>
<div id="t">
<div class="L" style="top:-0.60px;font-size:29.00px;line-height:29.00px;left:0.94px;transform:scaleX(0.913);transform-origin:left center;">A</div>
<div class="L" style="top:4.24px;font-size:18.50px;line-height:18.50px;left:35.90px;transform:scaleX(1.010);transform-origin:left center;">Age</div>
<div class="sb" style="top:32.18px;font-size:6.40px;line-height:6.40px;font-weight:bold;left:29.30px;transform:scaleX(0.910);transform-origin:left center;">Study</div>
<div class="sb" style="top:32.18px;font-size:6.40px;line-height:6.40px;font-weight:bold;left:-291.20px;width:400px;text-align:right;transform:scaleX(0.910);transform-origin:right center;">TE</div>
<div class="sb" style="top:32.18px;font-size:6.40px;line-height:6.40px;font-weight:bold;left:-269.80px;width:400px;text-align:right;transform:scaleX(0.910);transform-origin:right center;">seTE</div>
<div class="sb" style="top:32.18px;font-size:6.40px;line-height:6.40px;font-weight:bold;left:-25.15px;width:400px;text-align:center;transform:scaleX(0.910);transform-origin:center center;">Odds Ratio</div>
<div class="sb" style="top:32.18px;font-size:6.40px;line-height:6.40px;font-weight:bold;left:-168.70px;width:400px;text-align:right;transform:scaleX(0.910);transform-origin:right center;">OR</div>
<div class="sb" style="top:32.18px;font-size:6.40px;line-height:6.40px;font-weight:bold;left:-132.90px;width:400px;text-align:right;transform:scaleX(0.910);transform-origin:right center;">95%-CI</div>
<div class="sb" style="top:24.58px;font-size:6.40px;line-height:6.40px;font-weight:bold;left:-111.00px;width:400px;text-align:right;transform:scaleX(0.910);transform-origin:right center;">Weight</div>
<div class="sb" style="top:32.18px;font-size:6.40px;line-height:6.40px;font-weight:bold;left:-111.00px;width:400px;text-align:right;transform:scaleX(0.910);transform-origin:right center;">(fixed)</div>
<div class="sb" style="top:24.58px;font-size:6.40px;line-height:6.40px;font-weight:bold;left:-82.50px;width:400px;text-align:right;transform:scaleX(0.910);transform-origin:right center;">Weight</div>
<div class="sb" style="top:32.18px;font-size:6.40px;line-height:6.40px;font-weight:bold;left:-82.50px;width:400px;text-align:right;transform:scaleX(0.910);transform-origin:right center;">(random)</div>
<div class="s" style="top:47.68px;font-size:6.40px;line-height:6.40px;left:29.30px;transform:scaleX(0.935);transform-origin:left center;">Kuderer NM 2020</div>
<div class="s" style="top:47.68px;font-size:6.40px;line-height:6.40px;left:-291.20px;width:400px;text-align:right;transform:scaleX(0.935);transform-origin:right center;">0.26</div>
<div class="s" style="top:47.68px;font-size:6.40px;line-height:6.40px;left:-269.80px;width:400px;text-align:right;transform:scaleX(0.935);transform-origin:right center;">0.0407</div>
<div class="s" style="top:47.68px;font-size:6.40px;line-height:6.40px;left:-168.70px;width:400px;text-align:right;transform:scaleX(0.935);transform-origin:right center;">1.30</div>
<div class="s" style="top:47.68px;font-size:6.40px;line-height:6.40px;left:-132.90px;width:400px;text-align:right;transform:scaleX(0.935);transform-origin:right center;">[1.20;  1.41]</div>
<div class="s" style="top:47.68px;font-size:6.40px;line-height:6.40px;left:-111.00px;width:400px;text-align:right;transform:scaleX(0.935);transform-origin:right center;">0.1%</div>
<div class="s" style="top:47.68px;font-size:6.40px;line-height:6.40px;left:-82.50px;width:400px;text-align:right;transform:scaleX(0.935);transform-origin:right center;">6.7%</div>
<div class="s" style="top:55.19px;font-size:6.40px;line-height:6.40px;left:29.30px;transform:scaleX(0.935);transform-origin:left center;">Lee LYW 2020</div>
<div class="s" style="top:55.19px;font-size:6.40px;line-height:6.40px;left:-291.20px;width:400px;text-align:right;transform:scaleX(0.935);transform-origin:right center;">0.97</div>
<div class="s" style="top:55.19px;font-size:6.40px;line-height:6.40px;left:-269.80px;width:400px;text-align:right;transform:scaleX(0.935);transform-origin:right center;">0.0469</div>
<div class="s" style="top:55.19px;font-size:6.40px;line-height:6.40px;left:-168.70px;width:400px;text-align:right;transform:scaleX(0.935);transform-origin:right center;">2.65</div>
<div class="s" style="top:55.19px;font-size:6.40px;line-height:6.40px;left:-132.90px;width:400px;text-align:right;transform:scaleX(0.935);transform-origin:right center;">[2.42;  2.90]</div>
<div class="s" style="top:55.19px;font-size:6.40px;line-height:6.40px;left:-111.00px;width:400px;text-align:right;transform:scaleX(0.935);transform-origin:right center;">0.1%</div>
<div class="s" style="top:55.19px;font-size:6.40px;line-height:6.40px;left:-82.50px;width:400px;text-align:right;transform:scaleX(0.935);transform-origin:right center;">5.9%</div>
<div class="s" style="top:62.70px;font-size:6.40px;line-height:6.40px;left:29.30px;transform:scaleX(0.935);transform-origin:left center;">Yang K 2020</div>
<div class="s" style="top:62.70px;font-size:6.40px;line-height:6.40px;left:-291.20px;width:400px;text-align:right;transform:scaleX(0.935);transform-origin:right center;">-0.00</div>
<div class="s" style="top:62.70px;font-size:6.40px;line-height:6.40px;left:-269.80px;width:400px;text-align:right;transform:scaleX(0.935);transform-origin:right center;">0.0045</div>
<div class="s" style="top:62.70px;font-size:6.40px;line-height:6.40px;left:-168.70px;width:400px;text-align:right;transform:scaleX(0.935);transform-origin:right center;">1.00</div>
<div class="s" style="top:62.70px;font-size:6.40px;line-height:6.40px;left:-132.90px;width:400px;text-align:right;transform:scaleX(0.935);transform-origin:right center;">[0.99;  1.00]</div>
<div class="s" style="top:62.70px;font-size:6.40px;line-height:6.40px;left:-111.00px;width:400px;text-align:right;transform:scaleX(0.935);transform-origin:right center;">11.9%</div>
<div class="s" style="top:62.70px;font-size:6.40px;line-height:6.40px;left:-82.50px;width:400px;text-align:right;transform:scaleX(0.935);transform-origin:right center;">11.5%</div>
<div class="s" style="top:70.21px;font-size:6.40px;line-height:6.40px;left:29.30px;transform:scaleX(0.935);transform-origin:left center;">Zhang H 2020</div>
<div class="s" style="top:70.21px;font-size:6.40px;line-height:6.40px;left:-291.20px;width:400px;text-align:right;transform:scaleX(0.935);transform-origin:right center;">0.02</div>
<div class="s" style="top:70.21px;font-size:6.40px;line-height:6.40px;left:-269.80px;width:400px;text-align:right;transform:scaleX(0.935);transform-origin:right center;">0.0099</div>
<div class="s" style="top:70.21px;font-size:6.40px;line-height:6.40px;left:-168.70px;width:400px;text-align:right;transform:scaleX(0.935);transform-origin:right center;">1.02</div>
<div class="s" style="top:70.21px;font-size:6.40px;line-height:6.40px;left:-132.90px;width:400px;text-align:right;transform:scaleX(0.935);transform-origin:right center;">[1.00;  1.04]</div>
<div class="s" style="top:70.21px;font-size:6.40px;line-height:6.40px;left:-111.00px;width:400px;text-align:right;transform:scaleX(0.935);transform-origin:right center;">2.4%</div>
<div class="s" style="top:70.21px;font-size:6.40px;line-height:6.40px;left:-82.50px;width:400px;text-align:right;transform:scaleX(0.935);transform-origin:right center;">11.1%</div>
<div class="s" style="top:77.72px;font-size:6.40px;line-height:6.40px;left:29.30px;transform:scaleX(0.935);transform-origin:left center;">Yarza R 2020</div>
<div class="s" style="top:77.72px;font-size:6.40px;line-height:6.40px;left:-291.20px;width:400px;text-align:right;transform:scaleX(0.935);transform-origin:right center;">0.20</div>
<div class="s" style="top:77.72px;font-size:6.40px;line-height:6.40px;left:-269.80px;width:400px;text-align:right;transform:scaleX(0.935);transform-origin:right center;">0.2549</div>
<div class="s" style="top:77.72px;font-size:6.40px;line-height:6.40px;left:-168.70px;width:400px;text-align:right;transform:scaleX(0.935);transform-origin:right center;">1.22</div>
<div class="s" style="top:77.72px;font-size:6.40px;line-height:6.40px;left:-132.90px;width:400px;text-align:right;transform:scaleX(0.935);transform-origin:right center;">[0.74;  2.02]</div>
<div class="s" style="top:77.72px;font-size:6.40px;line-height:6.40px;left:-111.00px;width:400px;text-align:right;transform:scaleX(0.935);transform-origin:right center;">0.0%</div>
<div class="s" style="top:77.72px;font-size:6.40px;line-height:6.40px;left:-82.50px;width:400px;text-align:right;transform:scaleX(0.935);transform-origin:right center;">0.4%</div>
<div class="s" style="top:85.23px;font-size:6.40px;line-height:6.40px;left:29.30px;transform:scaleX(0.935);transform-origin:left center;">Li Q 2020</div>
<div class="s" style="top:85.23px;font-size:6.40px;line-height:6.40px;left:-291.20px;width:400px;text-align:right;transform:scaleX(0.935);transform-origin:right center;">0.03</div>
<div class="s" style="top:85.23px;font-size:6.40px;line-height:6.40px;left:-269.80px;width:400px;text-align:right;transform:scaleX(0.935);transform-origin:right center;">0.0021</div>
<div class="s" style="top:85.23px;font-size:6.40px;line-height:6.40px;left:-168.70px;width:400px;text-align:right;transform:scaleX(0.935);transform-origin:right center;">1.03</div>
<div class="s" style="top:85.23px;font-size:6.40px;line-height:6.40px;left:-132.90px;width:400px;text-align:right;transform:scaleX(0.935);transform-origin:right center;">[1.03;  1.03]</div>
<div class="s" style="top:85.23px;font-size:6.40px;line-height:6.40px;left:-111.00px;width:400px;text-align:right;transform:scaleX(0.935);transform-origin:right center;">55.8%</div>
<div class="s" style="top:85.23px;font-size:6.40px;line-height:6.40px;left:-82.50px;width:400px;text-align:right;transform:scaleX(0.935);transform-origin:right center;">11.6%</div>
<div class="s" style="top:92.74px;font-size:6.40px;line-height:6.40px;left:29.30px;transform:scaleX(0.935);transform-origin:left center;">Sanchez-Pina JM 2020</div>
<div class="s" style="top:92.74px;font-size:6.40px;line-height:6.40px;left:-291.20px;width:400px;text-align:right;transform:scaleX(0.935);transform-origin:right center;">1.54</div>
<div class="s" style="top:92.74px;font-size:6.40px;line-height:6.40px;left:-269.80px;width:400px;text-align:right;transform:scaleX(0.935);transform-origin:right center;">0.5153</div>
<div class="s" style="top:92.74px;font-size:6.40px;line-height:6.40px;left:-168.70px;width:400px;text-align:right;transform:scaleX(0.935);transform-origin:right center;">4.68</div>
<div class="s" style="top:92.74px;font-size:6.40px;line-height:6.40px;left:-132.90px;width:400px;text-align:right;transform:scaleX(0.935);transform-origin:right center;">[1.70; 12.84]</div>
<div class="s" style="top:92.74px;font-size:6.40px;line-height:6.40px;left:-111.00px;width:400px;text-align:right;transform:scaleX(0.935);transform-origin:right center;">0.0%</div>
<div class="s" style="top:92.74px;font-size:6.40px;line-height:6.40px;left:-82.50px;width:400px;text-align:right;transform:scaleX(0.935);transform-origin:right center;">0.1%</div>
<div class="s" style="top:100.25px;font-size:6.40px;line-height:6.40px;left:29.30px;transform:scaleX(0.935);transform-origin:left center;">Pinato DJ 2020</div>
<div class="s" style="top:100.25px;font-size:6.40px;line-height:6.40px;left:-291.20px;width:400px;text-align:right;transform:scaleX(0.935);transform-origin:right center;">0.37</div>
<div class="s" style="top:100.25px;font-size:6.40px;line-height:6.40px;left:-269.80px;width:400px;text-align:right;transform:scaleX(0.935);transform-origin:right center;">0.0728</div>
<div class="s" style="top:100.25px;font-size:6.40px;line-height:6.40px;left:-168.70px;width:400px;text-align:right;transform:scaleX(0.935);transform-origin:right center;">1.45</div>
<div class="s" style="top:100.25px;font-size:6.40px;line-height:6.40px;left:-132.90px;width:400px;text-align:right;transform:scaleX(0.935);transform-origin:right center;">[1.26;  1.68]</div>
<div class="s" style="top:100.25px;font-size:6.40px;line-height:6.40px;left:-111.00px;width:400px;text-align:right;transform:scaleX(0.935);transform-origin:right center;">0.0%</div>
<div class="s" style="top:100.25px;font-size:6.40px;line-height:6.40px;left:-82.50px;width:400px;text-align:right;transform:scaleX(0.935);transform-origin:right center;">3.5%</div>
<div class="s" style="top:107.76px;font-size:6.40px;line-height:6.40px;left:29.30px;transform:scaleX(0.935);transform-origin:left center;">Assaad S 2020</div>
<div class="s" style="top:107.76px;font-size:6.40px;line-height:6.40px;left:-291.20px;width:400px;text-align:right;transform:scaleX(0.935);transform-origin:right center;">0.30</div>
<div class="s" style="top:107.76px;font-size:6.40px;line-height:6.40px;left:-269.80px;width:400px;text-align:right;transform:scaleX(0.935);transform-origin:right center;">0.0933</div>
<div class="s" style="top:107.76px;font-size:6.40px;line-height:6.40px;left:-168.70px;width:400px;text-align:right;transform:scaleX(0.935);transform-origin:right center;">1.35</div>
<div class="s" style="top:107.76px;font-size:6.40px;line-height:6.40px;left:-132.90px;width:400px;text-align:right;transform:scaleX(0.935);transform-origin:right center;">[1.13;  1.63]</div>
<div class="s" style="top:107.76px;font-size:6.40px;line-height:6.40px;left:-111.00px;width:400px;text-align:right;transform:scaleX(0.935);transform-origin:right center;">0.0%</div>
<div class="s" style="top:107.76px;font-size:6.40px;line-height:6.40px;left:-82.50px;width:400px;text-align:right;transform:scaleX(0.935);transform-origin:right center;">2.4%</div>
<div class="s" style="top:115.27px;font-size:6.40px;line-height:6.40px;left:29.30px;transform:scaleX(0.935);transform-origin:left center;">Garassino MC 2020</div>
<div class="s" style="top:115.27px;font-size:6.40px;line-height:6.40px;left:-291.20px;width:400px;text-align:right;transform:scaleX(0.935);transform-origin:right center;">0.18</div>
<div class="s" style="top:115.27px;font-size:6.40px;line-height:6.40px;left:-269.80px;width:400px;text-align:right;transform:scaleX(0.935);transform-origin:right center;">0.1518</div>
<div class="s" style="top:115.27px;font-size:6.40px;line-height:6.40px;left:-168.70px;width:400px;text-align:right;transform:scaleX(0.935);transform-origin:right center;">1.20</div>
<div class="s" style="top:115.27px;font-size:6.40px;line-height:6.40px;left:-132.90px;width:400px;text-align:right;transform:scaleX(0.935);transform-origin:right center;">[0.89;  1.62]</div>
<div class="s" style="top:115.27px;font-size:6.40px;line-height:6.40px;left:-111.00px;width:400px;text-align:right;transform:scaleX(0.935);transform-origin:right center;">0.0%</div>
<div class="s" style="top:115.27px;font-size:6.40px;line-height:6.40px;left:-82.50px;width:400px;text-align:right;transform:scaleX(0.935);transform-origin:right center;">1.0%</div>
<div class="s" style="top:122.78px;font-size:6.40px;line-height:6.40px;left:29.30px;transform:scaleX(0.935);transform-origin:left center;">Fox TA 2020</div>
<div class="s" style="top:122.78px;font-size:6.40px;line-height:6.40px;left:-291.20px;width:400px;text-align:right;transform:scaleX(0.935);transform-origin:right center;">0.29</div>
<div class="s" style="top:122.78px;font-size:6.40px;line-height:6.40px;left:-269.80px;width:400px;text-align:right;transform:scaleX(0.935);transform-origin:right center;">0.1201</div>
<div class="s" style="top:122.78px;font-size:6.40px;line-height:6.40px;left:-168.70px;width:400px;text-align:right;transform:scaleX(0.935);transform-origin:right center;">1.34</div>
<div class="s" style="top:122.78px;font-size:6.40px;line-height:6.40px;left:-132.90px;width:400px;text-align:right;transform:scaleX(0.935);transform-origin:right center;">[1.06;  1.69]</div>
<div class="s" style="top:122.78px;font-size:6.40px;line-height:6.40px;left:-111.00px;width:400px;text-align:right;transform:scaleX(0.935);transform-origin:right center;">0.0%</div>
<div class="s" style="top:122.78px;font-size:6.40px;line-height:6.40px;left:-82.50px;width:400px;text-align:right;transform:scaleX(0.935);transform-origin:right center;">1.6%</div>
<div class="s" style="top:130.29px;font-size:6.40px;line-height:6.40px;left:29.30px;transform:scaleX(0.935);transform-origin:left center;">Cattaneo C 2020</div>
<div class="s" style="top:130.29px;font-size:6.40px;line-height:6.40px;left:-291.20px;width:400px;text-align:right;transform:scaleX(0.935);transform-origin:right center;">0.31</div>
<div class="s" style="top:130.29px;font-size:6.40px;line-height:6.40px;left:-269.80px;width:400px;text-align:right;transform:scaleX(0.935);transform-origin:right center;">0.2001</div>
<div class="s" style="top:130.29px;font-size:6.40px;line-height:6.40px;left:-168.70px;width:400px;text-align:right;transform:scaleX(0.935);transform-origin:right center;">1.36</div>
<div class="s" style="top:130.29px;font-size:6.40px;line-height:6.40px;left:-132.90px;width:400px;text-align:right;transform:scaleX(0.935);transform-origin:right center;">[0.92;  2.02]</div>
<div class="s" style="top:130.29px;font-size:6.40px;line-height:6.40px;left:-111.00px;width:400px;text-align:right;transform:scaleX(0.935);transform-origin:right center;">0.0%</div>
<div class="s" style="top:130.29px;font-size:6.40px;line-height:6.40px;left:-82.50px;width:400px;text-align:right;transform:scaleX(0.935);transform-origin:right center;">0.6%</div>
<div class="s" style="top:137.80px;font-size:6.40px;line-height:6.40px;left:29.30px;transform:scaleX(0.935);transform-origin:left center;">Lara OD 2020</div>
<div class="s" style="top:137.80px;font-size:6.40px;line-height:6.40px;left:-291.20px;width:400px;text-align:right;transform:scaleX(0.935);transform-origin:right center;">0.24</div>
<div class="s" style="top:137.80px;font-size:6.40px;line-height:6.40px;left:-269.80px;width:400px;text-align:right;transform:scaleX(0.935);transform-origin:right center;">0.1959</div>
<div class="s" style="top:137.80px;font-size:6.40px;line-height:6.40px;left:-168.70px;width:400px;text-align:right;transform:scaleX(0.935);transform-origin:right center;">1.27</div>
<div class="s" style="top:137.80px;font-size:6.40px;line-height:6.40px;left:-132.90px;width:400px;text-align:right;transform:scaleX(0.935);transform-origin:right center;">[0.86;  1.86]</div>
<div class="s" style="top:137.80px;font-size:6.40px;line-height:6.40px;left:-111.00px;width:400px;text-align:right;transform:scaleX(0.935);transform-origin:right center;">0.0%</div>
<div class="s" style="top:137.80px;font-size:6.40px;line-height:6.40px;left:-82.50px;width:400px;text-align:right;transform:scaleX(0.935);transform-origin:right center;">0.6%</div>
<div class="s" style="top:145.31px;font-size:6.40px;line-height:6.40px;left:29.30px;transform:scaleX(0.935);transform-origin:left center;">Liu C 2020</div>
<div class="s" style="top:145.31px;font-size:6.40px;line-height:6.40px;left:-291.20px;width:400px;text-align:right;transform:scaleX(0.935);transform-origin:right center;">0.01</div>
<div class="s" style="top:145.31px;font-size:6.40px;line-height:6.40px;left:-269.80px;width:400px;text-align:right;transform:scaleX(0.935);transform-origin:right center;">0.0065</div>
<div class="s" style="top:145.31px;font-size:6.40px;line-height:6.40px;left:-168.70px;width:400px;text-align:right;transform:scaleX(0.935);transform-origin:right center;">1.01</div>
<div class="s" style="top:145.31px;font-size:6.40px;line-height:6.40px;left:-132.90px;width:400px;text-align:right;transform:scaleX(0.935);transform-origin:right center;">[1.00;  1.03]</div>
<div class="s" style="top:145.31px;font-size:6.40px;line-height:6.40px;left:-111.00px;width:400px;text-align:right;transform:scaleX(0.935);transform-origin:right center;">5.7%</div>
<div class="s" style="top:145.31px;font-size:6.40px;line-height:6.40px;left:-82.50px;width:400px;text-align:right;transform:scaleX(0.935);transform-origin:right center;">11.4%</div>
<div class="s" style="top:152.82px;font-size:6.40px;line-height:6.40px;left:29.30px;transform:scaleX(0.935);transform-origin:left center;">Luo J 2020</div>
<div class="s" style="top:152.82px;font-size:6.40px;line-height:6.40px;left:-291.20px;width:400px;text-align:right;transform:scaleX(0.935);transform-origin:right center;">0.16</div>
<div class="s" style="top:152.82px;font-size:6.40px;line-height:6.40px;left:-269.80px;width:400px;text-align:right;transform:scaleX(0.935);transform-origin:right center;">0.1003</div>
<div class="s" style="top:152.82px;font-size:6.40px;line-height:6.40px;left:-168.70px;width:400px;text-align:right;transform:scaleX(0.935);transform-origin:right center;">1.17</div>
<div class="s" style="top:152.82px;font-size:6.40px;line-height:6.40px;left:-132.90px;width:400px;text-align:right;transform:scaleX(0.935);transform-origin:right center;">[0.96;  1.42]</div>
<div class="s" style="top:152.82px;font-size:6.40px;line-height:6.40px;left:-111.00px;width:400px;text-align:right;transform:scaleX(0.935);transform-origin:right center;">0.0%</div>
<div class="s" style="top:152.82px;font-size:6.40px;line-height:6.40px;left:-82.50px;width:400px;text-align:right;transform:scaleX(0.935);transform-origin:right center;">2.1%</div>
<div class="s" style="top:160.33px;font-size:6.40px;line-height:6.40px;left:29.30px;transform:scaleX(0.935);transform-origin:left center;">Mato AR 2020</div>
<div class="s" style="top:160.33px;font-size:6.40px;line-height:6.40px;left:-291.20px;width:400px;text-align:right;transform:scaleX(0.935);transform-origin:right center;">0.26</div>
<div class="s" style="top:160.33px;font-size:6.40px;line-height:6.40px;left:-269.80px;width:400px;text-align:right;transform:scaleX(0.935);transform-origin:right center;">0.1112</div>
<div class="s" style="top:160.33px;font-size:6.40px;line-height:6.40px;left:-168.70px;width:400px;text-align:right;transform:scaleX(0.935);transform-origin:right center;">1.29</div>
<div class="s" style="top:160.33px;font-size:6.40px;line-height:6.40px;left:-132.90px;width:400px;text-align:right;transform:scaleX(0.935);transform-origin:right center;">[1.04;  1.61]</div>
<div class="s" style="top:160.33px;font-size:6.40px;line-height:6.40px;left:-111.00px;width:400px;text-align:right;transform:scaleX(0.935);transform-origin:right center;">0.0%</div>
<div class="s" style="top:160.33px;font-size:6.40px;line-height:6.40px;left:-82.50px;width:400px;text-align:right;transform:scaleX(0.935);transform-origin:right center;">1.8%</div>
<div class="s" style="top:167.84px;font-size:6.40px;line-height:6.40px;left:29.30px;transform:scaleX(0.935);transform-origin:left center;">Russell B 2020</div>
<div class="s" style="top:167.84px;font-size:6.40px;line-height:6.40px;left:-291.20px;width:400px;text-align:right;transform:scaleX(0.935);transform-origin:right center;">0.13</div>
<div class="s" style="top:167.84px;font-size:6.40px;line-height:6.40px;left:-269.80px;width:400px;text-align:right;transform:scaleX(0.935);transform-origin:right center;">0.1680</div>
<div class="s" style="top:167.84px;font-size:6.40px;line-height:6.40px;left:-168.70px;width:400px;text-align:right;transform:scaleX(0.935);transform-origin:right center;">1.14</div>
<div class="s" style="top:167.84px;font-size:6.40px;line-height:6.40px;left:-132.90px;width:400px;text-align:right;transform:scaleX(0.935);transform-origin:right center;">[0.82;  1.58]</div>
<div class="s" style="top:167.84px;font-size:6.40px;line-height:6.40px;left:-111.00px;width:400px;text-align:right;transform:scaleX(0.935);transform-origin:right center;">0.0%</div>
<div class="s" style="top:167.84px;font-size:6.40px;line-height:6.40px;left:-82.50px;width:400px;text-align:right;transform:scaleX(0.935);transform-origin:right center;">0.9%</div>
<div class="s" style="top:175.35px;font-size:6.40px;line-height:6.40px;left:29.30px;transform:scaleX(0.935);transform-origin:left center;">Wang BO 2020</div>
<div class="s" style="top:175.35px;font-size:6.40px;line-height:6.40px;left:-291.20px;width:400px;text-align:right;transform:scaleX(0.935);transform-origin:right center;">0.12</div>
<div class="s" style="top:175.35px;font-size:6.40px;line-height:6.40px;left:-269.80px;width:400px;text-align:right;transform:scaleX(0.935);transform-origin:right center;">0.3254</div>
<div class="s" style="top:175.35px;font-size:6.40px;line-height:6.40px;left:-168.70px;width:400px;text-align:right;transform:scaleX(0.935);transform-origin:right center;">1.13</div>
<div class="s" style="top:175.35px;font-size:6.40px;line-height:6.40px;left:-132.90px;width:400px;text-align:right;transform:scaleX(0.935);transform-origin:right center;">[0.60;  2.13]</div>
<div class="s" style="top:175.35px;font-size:6.40px;line-height:6.40px;left:-111.00px;width:400px;text-align:right;transform:scaleX(0.935);transform-origin:right center;">0.0%</div>
<div class="s" style="top:175.35px;font-size:6.40px;line-height:6.40px;left:-82.50px;width:400px;text-align:right;transform:scaleX(0.935);transform-origin:right center;">0.2%</div>
<div class="s" style="top:182.86px;font-size:6.40px;line-height:6.40px;left:29.30px;transform:scaleX(0.935);transform-origin:left center;">De Melo AC 2020</div>
<div class="s" style="top:182.86px;font-size:6.40px;line-height:6.40px;left:-291.20px;width:400px;text-align:right;transform:scaleX(0.935);transform-origin:right center;">0.56</div>
<div class="s" style="top:182.86px;font-size:6.40px;line-height:6.40px;left:-269.80px;width:400px;text-align:right;transform:scaleX(0.935);transform-origin:right center;">0.1581</div>
<div class="s" style="top:182.86px;font-size:6.40px;line-height:6.40px;left:-168.70px;width:400px;text-align:right;transform:scaleX(0.935);transform-origin:right center;">1.74</div>
<div class="s" style="top:182.86px;font-size:6.40px;line-height:6.40px;left:-132.90px;width:400px;text-align:right;transform:scaleX(0.935);transform-origin:right center;">[1.28;  2.38]</div>
<div class="s" style="top:182.86px;font-size:6.40px;line-height:6.40px;left:-111.00px;width:400px;text-align:right;transform:scaleX(0.935);transform-origin:right center;">0.0%</div>
<div class="s" style="top:182.86px;font-size:6.40px;line-height:6.40px;left:-82.50px;width:400px;text-align:right;transform:scaleX(0.935);transform-origin:right center;">1.0%</div>
<div class="s" style="top:190.37px;font-size:6.40px;line-height:6.40px;left:29.30px;transform:scaleX(0.935);transform-origin:left center;">Albiges L 2020</div>
<div class="s" style="top:190.37px;font-size:6.40px;line-height:6.40px;left:-291.20px;width:400px;text-align:right;transform:scaleX(0.935);transform-origin:right center;">0.33</div>
<div class="s" style="top:190.37px;font-size:6.40px;line-height:6.40px;left:-269.80px;width:400px;text-align:right;transform:scaleX(0.935);transform-origin:right center;">0.1588</div>
<div class="s" style="top:190.37px;font-size:6.40px;line-height:6.40px;left:-168.70px;width:400px;text-align:right;transform:scaleX(0.935);transform-origin:right center;">1.39</div>
<div class="s" style="top:190.37px;font-size:6.40px;line-height:6.40px;left:-132.90px;width:400px;text-align:right;transform:scaleX(0.935);transform-origin:right center;">[1.02;  1.90]</div>
<div class="s" style="top:190.37px;font-size:6.40px;line-height:6.40px;left:-111.00px;width:400px;text-align:right;transform:scaleX(0.935);transform-origin:right center;">0.0%</div>
<div class="s" style="top:190.37px;font-size:6.40px;line-height:6.40px;left:-82.50px;width:400px;text-align:right;transform:scaleX(0.935);transform-origin:right center;">1.0%</div>
<div class="s" style="top:197.88px;font-size:6.40px;line-height:6.40px;left:29.30px;transform:scaleX(0.935);transform-origin:left center;">Martínez-López J 2020</div>
<div class="s" style="top:197.88px;font-size:6.40px;line-height:6.40px;left:-291.20px;width:400px;text-align:right;transform:scaleX(0.935);transform-origin:right center;">0.48</div>
<div class="s" style="top:197.88px;font-size:6.40px;line-height:6.40px;left:-269.80px;width:400px;text-align:right;transform:scaleX(0.935);transform-origin:right center;">0.1985</div>
<div class="s" style="top:197.88px;font-size:6.40px;line-height:6.40px;left:-168.70px;width:400px;text-align:right;transform:scaleX(0.935);transform-origin:right center;">1.61</div>
<div class="s" style="top:197.88px;font-size:6.40px;line-height:6.40px;left:-132.90px;width:400px;text-align:right;transform:scaleX(0.935);transform-origin:right center;">[1.09;  2.38]</div>
<div class="s" style="top:197.88px;font-size:6.40px;line-height:6.40px;left:-111.00px;width:400px;text-align:right;transform:scaleX(0.935);transform-origin:right center;">0.0%</div>
<div class="s" style="top:197.88px;font-size:6.40px;line-height:6.40px;left:-82.50px;width:400px;text-align:right;transform:scaleX(0.935);transform-origin:right center;">0.6%</div>
<div class="s" style="top:205.39px;font-size:6.40px;line-height:6.40px;left:29.30px;transform:scaleX(0.935);transform-origin:left center;">Nakamura S 2020</div>
<div class="s" style="top:205.39px;font-size:6.40px;line-height:6.40px;left:-291.20px;width:400px;text-align:right;transform:scaleX(0.935);transform-origin:right center;">0.26</div>
<div class="s" style="top:205.39px;font-size:6.40px;line-height:6.40px;left:-269.80px;width:400px;text-align:right;transform:scaleX(0.935);transform-origin:right center;">0.2934</div>
<div class="s" style="top:205.39px;font-size:6.40px;line-height:6.40px;left:-168.70px;width:400px;text-align:right;transform:scaleX(0.935);transform-origin:right center;">1.29</div>
<div class="s" style="top:205.39px;font-size:6.40px;line-height:6.40px;left:-132.90px;width:400px;text-align:right;transform:scaleX(0.935);transform-origin:right center;">[0.73;  2.29]</div>
<div class="s" style="top:205.39px;font-size:6.40px;line-height:6.40px;left:-111.00px;width:400px;text-align:right;transform:scaleX(0.935);transform-origin:right center;">0.0%</div>
<div class="s" style="top:205.39px;font-size:6.40px;line-height:6.40px;left:-82.50px;width:400px;text-align:right;transform:scaleX(0.935);transform-origin:right center;">0.3%</div>
<div class="s" style="top:212.90px;font-size:6.40px;line-height:6.40px;left:29.30px;transform:scaleX(0.935);transform-origin:left center;">Rogiers A 2021</div>
<div class="s" style="top:212.90px;font-size:6.40px;line-height:6.40px;left:-291.20px;width:400px;text-align:right;transform:scaleX(0.935);transform-origin:right center;">-0.12</div>
<div class="s" style="top:212.90px;font-size:6.40px;line-height:6.40px;left:-269.80px;width:400px;text-align:right;transform:scaleX(0.935);transform-origin:right center;">0.2145</div>
<div class="s" style="top:212.90px;font-size:6.40px;line-height:6.40px;left:-168.70px;width:400px;text-align:right;transform:scaleX(0.935);transform-origin:right center;">0.89</div>
<div class="s" style="top:212.90px;font-size:6.40px;line-height:6.40px;left:-132.90px;width:400px;text-align:right;transform:scaleX(0.935);transform-origin:right center;">[0.58;  1.35]</div>
<div class="s" style="top:212.90px;font-size:6.40px;line-height:6.40px;left:-111.00px;width:400px;text-align:right;transform:scaleX(0.935);transform-origin:right center;">0.0%</div>
<div class="s" style="top:212.90px;font-size:6.40px;line-height:6.40px;left:-82.50px;width:400px;text-align:right;transform:scaleX(0.935);transform-origin:right center;">0.5%</div>
<div class="s" style="top:220.41px;font-size:6.40px;line-height:6.40px;left:29.30px;transform:scaleX(0.935);transform-origin:left center;">Lunski MJ 2020</div>
<div class="s" style="top:220.41px;font-size:6.40px;line-height:6.40px;left:-291.20px;width:400px;text-align:right;transform:scaleX(0.935);transform-origin:right center;">0.51</div>
<div class="s" style="top:220.41px;font-size:6.40px;line-height:6.40px;left:-269.80px;width:400px;text-align:right;transform:scaleX(0.935);transform-origin:right center;">0.1609</div>
<div class="s" style="top:220.41px;font-size:6.40px;line-height:6.40px;left:-168.70px;width:400px;text-align:right;transform:scaleX(0.935);transform-origin:right center;">1.67</div>
<div class="s" style="top:220.41px;font-size:6.40px;line-height:6.40px;left:-132.90px;width:400px;text-align:right;transform:scaleX(0.935);transform-origin:right center;">[1.22;  2.29]</div>
<div class="s" style="top:220.41px;font-size:6.40px;line-height:6.40px;left:-111.00px;width:400px;text-align:right;transform:scaleX(0.935);transform-origin:right center;">0.0%</div>
<div class="s" style="top:220.41px;font-size:6.40px;line-height:6.40px;left:-82.50px;width:400px;text-align:right;transform:scaleX(0.935);transform-origin:right center;">0.9%</div>
<div class="s" style="top:227.92px;font-size:6.40px;line-height:6.40px;left:29.30px;transform:scaleX(0.935);transform-origin:left center;">Hanna GJ 2020</div>
<div class="s" style="top:227.92px;font-size:6.40px;line-height:6.40px;left:-291.20px;width:400px;text-align:right;transform:scaleX(0.935);transform-origin:right center;">0.02</div>
<div class="s" style="top:227.92px;font-size:6.40px;line-height:6.40px;left:-269.80px;width:400px;text-align:right;transform:scaleX(0.935);transform-origin:right center;">0.0138</div>
<div class="s" style="top:227.92px;font-size:6.40px;line-height:6.40px;left:-168.70px;width:400px;text-align:right;transform:scaleX(0.935);transform-origin:right center;">1.02</div>
<div class="s" style="top:227.92px;font-size:6.40px;line-height:6.40px;left:-132.90px;width:400px;text-align:right;transform:scaleX(0.935);transform-origin:right center;">[0.99;  1.05]</div>
<div class="s" style="top:227.92px;font-size:6.40px;line-height:6.40px;left:-111.00px;width:400px;text-align:right;transform:scaleX(0.935);transform-origin:right center;">1.3%</div>
<div class="s" style="top:227.92px;font-size:6.40px;line-height:6.40px;left:-82.50px;width:400px;text-align:right;transform:scaleX(0.935);transform-origin:right center;">10.7%</div>
<div class="s" style="top:235.43px;font-size:6.40px;line-height:6.40px;left:29.30px;transform:scaleX(0.935);transform-origin:left center;">Lieˋvre A 2020</div>
<div class="s" style="top:235.43px;font-size:6.40px;line-height:6.40px;left:-291.20px;width:400px;text-align:right;transform:scaleX(0.935);transform-origin:right center;">0.00</div>
<div class="s" style="top:235.43px;font-size:6.40px;line-height:6.40px;left:-269.80px;width:400px;text-align:right;transform:scaleX(0.935);transform-origin:right center;">0.0033</div>
<div class="s" style="top:235.43px;font-size:6.40px;line-height:6.40px;left:-168.70px;width:400px;text-align:right;transform:scaleX(0.935);transform-origin:right center;">1.00</div>
<div class="s" style="top:235.43px;font-size:6.40px;line-height:6.40px;left:-132.90px;width:400px;text-align:right;transform:scaleX(0.935);transform-origin:right center;">[1.00;  1.01]</div>
<div class="s" style="top:235.43px;font-size:6.40px;line-height:6.40px;left:-111.00px;width:400px;text-align:right;transform:scaleX(0.935);transform-origin:right center;">22.3%</div>
<div class="s" style="top:235.43px;font-size:6.40px;line-height:6.40px;left:-82.50px;width:400px;text-align:right;transform:scaleX(0.935);transform-origin:right center;">11.5%</div>
<div class="sb" style="top:250.58px;font-size:6.40px;line-height:6.40px;font-weight:bold;left:29.30px;transform:scaleX(0.910);transform-origin:left center;">Fixed effect model</div>
<div class="sb" style="top:257.98px;font-size:6.40px;line-height:6.40px;font-weight:bold;left:29.30px;transform:scaleX(0.910);transform-origin:left center;">Random effects model</div>
<div class="sb" style="top:250.58px;font-size:6.40px;line-height:6.40px;font-weight:bold;left:-168.70px;width:400px;text-align:right;transform:scaleX(0.910);transform-origin:right center;">1.02</div>
<div class="sb" style="top:250.58px;font-size:6.40px;line-height:6.40px;font-weight:bold;left:-132.90px;width:400px;text-align:right;transform:scaleX(0.910);transform-origin:right center;">[1.02;  1.02]</div>
<div class="sb" style="top:250.58px;font-size:6.40px;line-height:6.40px;font-weight:bold;left:-111.00px;width:400px;text-align:right;transform:scaleX(0.910);transform-origin:right center;">100.0%</div>
<div class="sb" style="top:250.58px;font-size:6.40px;line-height:6.40px;font-weight:bold;left:-82.50px;width:400px;text-align:right;transform:scaleX(0.910);transform-origin:right center;">--</div>
<div class="sb" style="top:257.98px;font-size:6.40px;line-height:6.40px;font-weight:bold;left:-168.70px;width:400px;text-align:right;transform:scaleX(0.910);transform-origin:right center;">1.15</div>
<div class="sb" style="top:257.98px;font-size:6.40px;line-height:6.40px;font-weight:bold;left:-132.90px;width:400px;text-align:right;transform:scaleX(0.910);transform-origin:right center;">[1.12;  1.19]</div>
<div class="sb" style="top:257.98px;font-size:6.40px;line-height:6.40px;font-weight:bold;left:-111.00px;width:400px;text-align:right;transform:scaleX(0.910);transform-origin:right center;">--</div>
<div class="sb" style="top:257.98px;font-size:6.40px;line-height:6.40px;font-weight:bold;left:-82.50px;width:400px;text-align:right;transform:scaleX(0.910);transform-origin:right center;">100.0%</div>
<div class="s" style="top:265.59px;font-size:6.00px;line-height:6.00px;left:29.30px;transform:scaleX(0.888);transform-origin:left center;">Heterogeneity: <i>I</i><sup>2</sup> = 96%, <i>&tau;</i><sup>2</sup> = 0.0023, <i>p</i> &lt; 0.01</div>
<div class="s" style="top:273.18px;font-size:6.40px;line-height:6.40px;left:-62.80px;width:400px;text-align:center;transform:scaleX(0.935);transform-origin:center center;">0.1</div>
<div class="s" style="top:273.18px;font-size:6.40px;line-height:6.40px;left:-36.48px;width:400px;text-align:center;transform:scaleX(0.935);transform-origin:center center;">0.5</div>
<div class="s" style="top:273.18px;font-size:6.40px;line-height:6.40px;left:-25.15px;width:400px;text-align:center;transform:scaleX(0.935);transform-origin:center center;">1</div>
<div class="s" style="top:273.18px;font-size:6.40px;line-height:6.40px;left:-13.82px;width:400px;text-align:center;transform:scaleX(0.935);transform-origin:center center;">2</div>
<div class="s" style="top:273.18px;font-size:6.40px;line-height:6.40px;left:12.50px;width:400px;text-align:center;transform:scaleX(0.935);transform-origin:center center;">10</div>
<div style="top:267.12px;font-size:11.50px;line-height:11.50px;font-style:italic;left:219.00px;transform:scaleX(0.940);transform-origin:left center;">P&lt;0.0001</div>
<div class="L" style="top:283.80px;font-size:15.80px;line-height:15.80px;left:131.55px;transform:scaleX(1.093);transform-origin:left center;">Young</div>
<div class="L" style="top:283.80px;font-size:15.80px;line-height:15.80px;left:202.37px;transform:scaleX(1.056);transform-origin:left center;">Old</div>
<div class="L" style="top:-0.40px;font-size:29.00px;line-height:29.00px;left:362.09px;transform:scaleX(0.809);transform-origin:left center;">B</div>
<div class="L" style="top:0.04px;font-size:18.50px;line-height:18.50px;left:394.80px;transform:scaleX(1.005);transform-origin:left center;">Gender</div>
<div class="sb" style="top:24.78px;font-size:6.40px;line-height:6.40px;font-weight:bold;left:392.70px;transform:scaleX(0.910);transform-origin:left center;">Study</div>
<div class="sb" style="top:24.78px;font-size:6.40px;line-height:6.40px;font-weight:bold;left:70.80px;width:400px;text-align:right;transform:scaleX(0.910);transform-origin:right center;">TE</div>
<div class="sb" style="top:24.78px;font-size:6.40px;line-height:6.40px;font-weight:bold;left:93.20px;width:400px;text-align:right;transform:scaleX(0.910);transform-origin:right center;">seTE</div>
<div class="sb" style="top:24.78px;font-size:6.40px;line-height:6.40px;font-weight:bold;left:337.90px;width:400px;text-align:center;transform:scaleX(0.910);transform-origin:center center;">Odds Ratio</div>
<div class="sb" style="top:24.78px;font-size:6.40px;line-height:6.40px;font-weight:bold;left:194.30px;width:400px;text-align:right;transform:scaleX(0.910);transform-origin:right center;">OR</div>
<div class="sb" style="top:24.78px;font-size:6.40px;line-height:6.40px;font-weight:bold;left:227.40px;width:400px;text-align:right;transform:scaleX(0.910);transform-origin:right center;">95%-CI</div>
<div class="sb" style="top:16.98px;font-size:6.40px;line-height:6.40px;font-weight:bold;left:250.00px;width:400px;text-align:right;transform:scaleX(0.910);transform-origin:right center;">Weight</div>
<div class="sb" style="top:24.78px;font-size:6.40px;line-height:6.40px;font-weight:bold;left:250.00px;width:400px;text-align:right;transform:scaleX(0.910);transform-origin:right center;">(fixed)</div>
<div class="sb" style="top:16.98px;font-size:6.40px;line-height:6.40px;font-weight:bold;left:278.20px;width:400px;text-align:right;transform:scaleX(0.910);transform-origin:right center;">Weight</div>
<div class="sb" style="top:24.78px;font-size:6.40px;line-height:6.40px;font-weight:bold;left:278.20px;width:400px;text-align:right;transform:scaleX(0.910);transform-origin:right center;">(random)</div>
<div class="s" style="top:41.38px;font-size:6.40px;line-height:6.40px;left:392.70px;transform:scaleX(0.935);transform-origin:left center;">Kuderer NM 2020</div>
<div class="s" style="top:41.38px;font-size:6.40px;line-height:6.40px;left:70.80px;width:400px;text-align:right;transform:scaleX(0.935);transform-origin:right center;">0.21</div>
<div class="s" style="top:41.38px;font-size:6.40px;line-height:6.40px;left:93.20px;width:400px;text-align:right;transform:scaleX(0.935);transform-origin:right center;">0.0931</div>
<div class="s" style="top:41.38px;font-size:6.40px;line-height:6.40px;left:194.30px;width:400px;text-align:right;transform:scaleX(0.935);transform-origin:right center;">1.24</div>
<div class="s" style="top:41.38px;font-size:6.40px;line-height:6.40px;left:227.40px;width:400px;text-align:right;transform:scaleX(0.935);transform-origin:right center;">[1.03; 1.48]</div>
<div class="s" style="top:41.38px;font-size:6.40px;line-height:6.40px;left:250.00px;width:400px;text-align:right;transform:scaleX(0.935);transform-origin:right center;">6.9%</div>
<div class="s" style="top:41.38px;font-size:6.40px;line-height:6.40px;left:278.20px;width:400px;text-align:right;transform:scaleX(0.935);transform-origin:right center;">6.4%</div>
<div class="s" style="top:49.51px;font-size:6.40px;line-height:6.40px;left:392.70px;transform:scaleX(0.935);transform-origin:left center;">Lee LYW 2020</div>
<div class="s" style="top:49.51px;font-size:6.40px;line-height:6.40px;left:70.80px;width:400px;text-align:right;transform:scaleX(0.935);transform-origin:right center;">0.22</div>
<div class="s" style="top:49.51px;font-size:6.40px;line-height:6.40px;left:93.20px;width:400px;text-align:right;transform:scaleX(0.935);transform-origin:right center;">0.0749</div>
<div class="s" style="top:49.51px;font-size:6.40px;line-height:6.40px;left:194.30px;width:400px;text-align:right;transform:scaleX(0.935);transform-origin:right center;">1.25</div>
<div class="s" style="top:49.51px;font-size:6.40px;line-height:6.40px;left:227.40px;width:400px;text-align:right;transform:scaleX(0.935);transform-origin:right center;">[1.08; 1.45]</div>
<div class="s" style="top:49.51px;font-size:6.40px;line-height:6.40px;left:250.00px;width:400px;text-align:right;transform:scaleX(0.935);transform-origin:right center;">10.6%</div>
<div class="s" style="top:49.51px;font-size:6.40px;line-height:6.40px;left:278.20px;width:400px;text-align:right;transform:scaleX(0.935);transform-origin:right center;">7.0%</div>
<div class="s" style="top:57.64px;font-size:6.40px;line-height:6.40px;left:392.70px;transform:scaleX(0.935);transform-origin:left center;">Yang K 2020</div>
<div class="s" style="top:57.64px;font-size:6.40px;line-height:6.40px;left:70.80px;width:400px;text-align:right;transform:scaleX(0.935);transform-origin:right center;">0.59</div>
<div class="s" style="top:57.64px;font-size:6.40px;line-height:6.40px;left:93.20px;width:400px;text-align:right;transform:scaleX(0.935);transform-origin:right center;">0.1994</div>
<div class="s" style="top:57.64px;font-size:6.40px;line-height:6.40px;left:194.30px;width:400px;text-align:right;transform:scaleX(0.935);transform-origin:right center;">1.80</div>
<div class="s" style="top:57.64px;font-size:6.40px;line-height:6.40px;left:227.40px;width:400px;text-align:right;transform:scaleX(0.935);transform-origin:right center;">[1.22; 2.66]</div>
<div class="s" style="top:57.64px;font-size:6.40px;line-height:6.40px;left:250.00px;width:400px;text-align:right;transform:scaleX(0.935);transform-origin:right center;">1.5%</div>
<div class="s" style="top:57.64px;font-size:6.40px;line-height:6.40px;left:278.20px;width:400px;text-align:right;transform:scaleX(0.935);transform-origin:right center;">3.4%</div>
<div class="s" style="top:65.77px;font-size:6.40px;line-height:6.40px;left:392.70px;transform:scaleX(0.935);transform-origin:left center;">Yarza R 2020</div>
<div class="s" style="top:65.77px;font-size:6.40px;line-height:6.40px;left:70.80px;width:400px;text-align:right;transform:scaleX(0.935);transform-origin:right center;">-0.05</div>
<div class="s" style="top:65.77px;font-size:6.40px;line-height:6.40px;left:93.20px;width:400px;text-align:right;transform:scaleX(0.935);transform-origin:right center;">0.2523</div>
<div class="s" style="top:65.77px;font-size:6.40px;line-height:6.40px;left:194.30px;width:400px;text-align:right;transform:scaleX(0.935);transform-origin:right center;">0.95</div>
<div class="s" style="top:65.77px;font-size:6.40px;line-height:6.40px;left:227.40px;width:400px;text-align:right;transform:scaleX(0.935);transform-origin:right center;">[0.58; 1.55]</div>
<div class="s" style="top:65.77px;font-size:6.40px;line-height:6.40px;left:250.00px;width:400px;text-align:right;transform:scaleX(0.935);transform-origin:right center;">0.9%</div>
<div class="s" style="top:65.77px;font-size:6.40px;line-height:6.40px;left:278.20px;width:400px;text-align:right;transform:scaleX(0.935);transform-origin:right center;">2.5%</div>
<div class="s" style="top:73.90px;font-size:6.40px;line-height:6.40px;left:392.70px;transform:scaleX(0.935);transform-origin:left center;">Li Q 2020</div>
<div class="s" style="top:73.90px;font-size:6.40px;line-height:6.40px;left:70.80px;width:400px;text-align:right;transform:scaleX(0.935);transform-origin:right center;">0.46</div>
<div class="s" style="top:73.90px;font-size:6.40px;line-height:6.40px;left:93.20px;width:400px;text-align:right;transform:scaleX(0.935);transform-origin:right center;">0.0684</div>
<div class="s" style="top:73.90px;font-size:6.40px;line-height:6.40px;left:194.30px;width:400px;text-align:right;transform:scaleX(0.935);transform-origin:right center;">1.59</div>
<div class="s" style="top:73.90px;font-size:6.40px;line-height:6.40px;left:227.40px;width:400px;text-align:right;transform:scaleX(0.935);transform-origin:right center;">[1.39; 1.82]</div>
<div class="s" style="top:73.90px;font-size:6.40px;line-height:6.40px;left:250.00px;width:400px;text-align:right;transform:scaleX(0.935);transform-origin:right center;">12.7%</div>
<div class="s" style="top:73.90px;font-size:6.40px;line-height:6.40px;left:278.20px;width:400px;text-align:right;transform:scaleX(0.935);transform-origin:right center;">7.2%</div>
<div class="s" style="top:82.03px;font-size:6.40px;line-height:6.40px;left:392.70px;transform:scaleX(0.935);transform-origin:left center;">Pinato DJ 2020</div>
<div class="s" style="top:82.03px;font-size:6.40px;line-height:6.40px;left:70.80px;width:400px;text-align:right;transform:scaleX(0.935);transform-origin:right center;">0.14</div>
<div class="s" style="top:82.03px;font-size:6.40px;line-height:6.40px;left:93.20px;width:400px;text-align:right;transform:scaleX(0.935);transform-origin:right center;">0.0558</div>
<div class="s" style="top:82.03px;font-size:6.40px;line-height:6.40px;left:194.30px;width:400px;text-align:right;transform:scaleX(0.935);transform-origin:right center;">1.15</div>
<div class="s" style="top:82.03px;font-size:6.40px;line-height:6.40px;left:227.40px;width:400px;text-align:right;transform:scaleX(0.935);transform-origin:right center;">[1.03; 1.28]</div>
<div class="s" style="top:82.03px;font-size:6.40px;line-height:6.40px;left:250.00px;width:400px;text-align:right;transform:scaleX(0.935);transform-origin:right center;">19.1%</div>
<div class="s" style="top:82.03px;font-size:6.40px;line-height:6.40px;left:278.20px;width:400px;text-align:right;transform:scaleX(0.935);transform-origin:right center;">7.6%</div>
<div class="s" style="top:90.16px;font-size:6.40px;line-height:6.40px;left:392.70px;transform:scaleX(0.935);transform-origin:left center;">Assaad S 2020</div>
<div class="s" style="top:90.16px;font-size:6.40px;line-height:6.40px;left:70.80px;width:400px;text-align:right;transform:scaleX(0.935);transform-origin:right center;">0.44</div>
<div class="s" style="top:90.16px;font-size:6.40px;line-height:6.40px;left:93.20px;width:400px;text-align:right;transform:scaleX(0.935);transform-origin:right center;">0.0699</div>
<div class="s" style="top:90.16px;font-size:6.40px;line-height:6.40px;left:194.30px;width:400px;text-align:right;transform:scaleX(0.935);transform-origin:right center;">1.55</div>
<div class="s" style="top:90.16px;font-size:6.40px;line-height:6.40px;left:227.40px;width:400px;text-align:right;transform:scaleX(0.935);transform-origin:right center;">[1.35; 1.78]</div>
<div class="s" style="top:90.16px;font-size:6.40px;line-height:6.40px;left:250.00px;width:400px;text-align:right;transform:scaleX(0.935);transform-origin:right center;">12.2%</div>
<div class="s" style="top:90.16px;font-size:6.40px;line-height:6.40px;left:278.20px;width:400px;text-align:right;transform:scaleX(0.935);transform-origin:right center;">7.2%</div>
<div class="s" style="top:98.29px;font-size:6.40px;line-height:6.40px;left:392.70px;transform:scaleX(0.935);transform-origin:left center;">Garassino MC 2020</div>
<div class="s" style="top:98.29px;font-size:6.40px;line-height:6.40px;left:70.80px;width:400px;text-align:right;transform:scaleX(0.935);transform-origin:right center;">0.16</div>
<div class="s" style="top:98.29px;font-size:6.40px;line-height:6.40px;left:93.20px;width:400px;text-align:right;transform:scaleX(0.935);transform-origin:right center;">0.1639</div>
<div class="s" style="top:98.29px;font-size:6.40px;line-height:6.40px;left:194.30px;width:400px;text-align:right;transform:scaleX(0.935);transform-origin:right center;">1.18</div>
<div class="s" style="top:98.29px;font-size:6.40px;line-height:6.40px;left:227.40px;width:400px;text-align:right;transform:scaleX(0.935);transform-origin:right center;">[0.85; 1.62]</div>
<div class="s" style="top:98.29px;font-size:6.40px;line-height:6.40px;left:250.00px;width:400px;text-align:right;transform:scaleX(0.935);transform-origin:right center;">2.2%</div>
<div class="s" style="top:98.29px;font-size:6.40px;line-height:6.40px;left:278.20px;width:400px;text-align:right;transform:scaleX(0.935);transform-origin:right center;">4.2%</div>
<div class="s" style="top:106.42px;font-size:6.40px;line-height:6.40px;left:392.70px;transform:scaleX(0.935);transform-origin:left center;">Fox TA 2020</div>
<div class="s" style="top:106.42px;font-size:6.40px;line-height:6.40px;left:70.80px;width:400px;text-align:right;transform:scaleX(0.935);transform-origin:right center;">-0.00</div>
<div class="s" style="top:106.42px;font-size:6.40px;line-height:6.40px;left:93.20px;width:400px;text-align:right;transform:scaleX(0.935);transform-origin:right center;">0.2667</div>
<div class="s" style="top:106.42px;font-size:6.40px;line-height:6.40px;left:194.30px;width:400px;text-align:right;transform:scaleX(0.935);transform-origin:right center;">1.00</div>
<div class="s" style="top:106.42px;font-size:6.40px;line-height:6.40px;left:227.40px;width:400px;text-align:right;transform:scaleX(0.935);transform-origin:right center;">[0.59; 1.68]</div>
<div class="s" style="top:106.42px;font-size:6.40px;line-height:6.40px;left:250.00px;width:400px;text-align:right;transform:scaleX(0.935);transform-origin:right center;">0.8%</div>
<div class="s" style="top:106.42px;font-size:6.40px;line-height:6.40px;left:278.20px;width:400px;text-align:right;transform:scaleX(0.935);transform-origin:right center;">2.3%</div>
<div class="s" style="top:114.55px;font-size:6.40px;line-height:6.40px;left:392.70px;transform:scaleX(0.935);transform-origin:left center;">Cattaneo C 2020</div>
<div class="s" style="top:114.55px;font-size:6.40px;line-height:6.40px;left:70.80px;width:400px;text-align:right;transform:scaleX(0.935);transform-origin:right center;">0.37</div>
<div class="s" style="top:114.55px;font-size:6.40px;line-height:6.40px;left:93.20px;width:400px;text-align:right;transform:scaleX(0.935);transform-origin:right center;">0.2225</div>
<div class="s" style="top:114.55px;font-size:6.40px;line-height:6.40px;left:194.30px;width:400px;text-align:right;transform:scaleX(0.935);transform-origin:right center;">1.45</div>
<div class="s" style="top:114.55px;font-size:6.40px;line-height:6.40px;left:227.40px;width:400px;text-align:right;transform:scaleX(0.935);transform-origin:right center;">[0.94; 2.24]</div>
<div class="s" style="top:114.55px;font-size:6.40px;line-height:6.40px;left:250.00px;width:400px;text-align:right;transform:scaleX(0.935);transform-origin:right center;">1.2%</div>
<div class="s" style="top:114.55px;font-size:6.40px;line-height:6.40px;left:278.20px;width:400px;text-align:right;transform:scaleX(0.935);transform-origin:right center;">2.9%</div>
<div class="s" style="top:122.68px;font-size:6.40px;line-height:6.40px;left:392.70px;transform:scaleX(0.935);transform-origin:left center;">Liu C 2020</div>
<div class="s" style="top:122.68px;font-size:6.40px;line-height:6.40px;left:70.80px;width:400px;text-align:right;transform:scaleX(0.935);transform-origin:right center;">0.33</div>
<div class="s" style="top:122.68px;font-size:6.40px;line-height:6.40px;left:93.20px;width:400px;text-align:right;transform:scaleX(0.935);transform-origin:right center;">0.1657</div>
<div class="s" style="top:122.68px;font-size:6.40px;line-height:6.40px;left:194.30px;width:400px;text-align:right;transform:scaleX(0.935);transform-origin:right center;">1.39</div>
<div class="s" style="top:122.68px;font-size:6.40px;line-height:6.40px;left:227.40px;width:400px;text-align:right;transform:scaleX(0.935);transform-origin:right center;">[1.01; 1.93]</div>
<div class="s" style="top:122.68px;font-size:6.40px;line-height:6.40px;left:250.00px;width:400px;text-align:right;transform:scaleX(0.935);transform-origin:right center;">2.2%</div>
<div class="s" style="top:122.68px;font-size:6.40px;line-height:6.40px;left:278.20px;width:400px;text-align:right;transform:scaleX(0.935);transform-origin:right center;">4.2%</div>
<div class="s" style="top:130.81px;font-size:6.40px;line-height:6.40px;left:392.70px;transform:scaleX(0.935);transform-origin:left center;">Luo J 2020</div>
<div class="s" style="top:130.81px;font-size:6.40px;line-height:6.40px;left:70.80px;width:400px;text-align:right;transform:scaleX(0.935);transform-origin:right center;">0.18</div>
<div class="s" style="top:130.81px;font-size:6.40px;line-height:6.40px;left:93.20px;width:400px;text-align:right;transform:scaleX(0.935);transform-origin:right center;">0.1971</div>
<div class="s" style="top:130.81px;font-size:6.40px;line-height:6.40px;left:194.30px;width:400px;text-align:right;transform:scaleX(0.935);transform-origin:right center;">1.20</div>
<div class="s" style="top:130.81px;font-size:6.40px;line-height:6.40px;left:227.40px;width:400px;text-align:right;transform:scaleX(0.935);transform-origin:right center;">[0.82; 1.76]</div>
<div class="s" style="top:130.81px;font-size:6.40px;line-height:6.40px;left:250.00px;width:400px;text-align:right;transform:scaleX(0.935);transform-origin:right center;">1.5%</div>
<div class="s" style="top:130.81px;font-size:6.40px;line-height:6.40px;left:278.20px;width:400px;text-align:right;transform:scaleX(0.935);transform-origin:right center;">3.4%</div>
<div class="s" style="top:138.94px;font-size:6.40px;line-height:6.40px;left:392.70px;transform:scaleX(0.935);transform-origin:left center;">Mato AR 2020</div>
<div class="s" style="top:138.94px;font-size:6.40px;line-height:6.40px;left:70.80px;width:400px;text-align:right;transform:scaleX(0.935);transform-origin:right center;">-0.18</div>
<div class="s" style="top:138.94px;font-size:6.40px;line-height:6.40px;left:93.20px;width:400px;text-align:right;transform:scaleX(0.935);transform-origin:right center;">0.1121</div>
<div class="s" style="top:138.94px;font-size:6.40px;line-height:6.40px;left:194.30px;width:400px;text-align:right;transform:scaleX(0.935);transform-origin:right center;">0.83</div>
<div class="s" style="top:138.94px;font-size:6.40px;line-height:6.40px;left:227.40px;width:400px;text-align:right;transform:scaleX(0.935);transform-origin:right center;">[0.67; 1.04]</div>
<div class="s" style="top:138.94px;font-size:6.40px;line-height:6.40px;left:250.00px;width:400px;text-align:right;transform:scaleX(0.935);transform-origin:right center;">4.7%</div>
<div class="s" style="top:138.94px;font-size:6.40px;line-height:6.40px;left:278.20px;width:400px;text-align:right;transform:scaleX(0.935);transform-origin:right center;">5.7%</div>
<div class="s" style="top:147.07px;font-size:6.40px;line-height:6.40px;left:392.70px;transform:scaleX(0.935);transform-origin:left center;">Russell B 2020</div>
<div class="s" style="top:147.07px;font-size:6.40px;line-height:6.40px;left:70.80px;width:400px;text-align:right;transform:scaleX(0.935);transform-origin:right center;">0.14</div>
<div class="s" style="top:147.07px;font-size:6.40px;line-height:6.40px;left:93.20px;width:400px;text-align:right;transform:scaleX(0.935);transform-origin:right center;">0.1560</div>
<div class="s" style="top:147.07px;font-size:6.40px;line-height:6.40px;left:194.30px;width:400px;text-align:right;transform:scaleX(0.935);transform-origin:right center;">1.15</div>
<div class="s" style="top:147.07px;font-size:6.40px;line-height:6.40px;left:227.40px;width:400px;text-align:right;transform:scaleX(0.935);transform-origin:right center;">[0.84; 1.56]</div>
<div class="s" style="top:147.07px;font-size:6.40px;line-height:6.40px;left:250.00px;width:400px;text-align:right;transform:scaleX(0.935);transform-origin:right center;">2.4%</div>
<div class="s" style="top:147.07px;font-size:6.40px;line-height:6.40px;left:278.20px;width:400px;text-align:right;transform:scaleX(0.935);transform-origin:right center;">4.4%</div>
<div class="s" style="top:155.20px;font-size:6.40px;line-height:6.40px;left:392.70px;transform:scaleX(0.935);transform-origin:left center;">Wang BO 2020</div>
<div class="s" style="top:155.20px;font-size:6.40px;line-height:6.40px;left:70.80px;width:400px;text-align:right;transform:scaleX(0.935);transform-origin:right center;">0.12</div>
<div class="s" style="top:155.20px;font-size:6.40px;line-height:6.40px;left:93.20px;width:400px;text-align:right;transform:scaleX(0.935);transform-origin:right center;">0.3080</div>
<div class="s" style="top:155.20px;font-size:6.40px;line-height:6.40px;left:194.30px;width:400px;text-align:right;transform:scaleX(0.935);transform-origin:right center;">1.13</div>
<div class="s" style="top:155.20px;font-size:6.40px;line-height:6.40px;left:227.40px;width:400px;text-align:right;transform:scaleX(0.935);transform-origin:right center;">[0.62; 2.07]</div>
<div class="s" style="top:155.20px;font-size:6.40px;line-height:6.40px;left:250.00px;width:400px;text-align:right;transform:scaleX(0.935);transform-origin:right center;">0.6%</div>
<div class="s" style="top:155.20px;font-size:6.40px;line-height:6.40px;left:278.20px;width:400px;text-align:right;transform:scaleX(0.935);transform-origin:right center;">1.8%</div>
<div class="s" style="top:163.33px;font-size:6.40px;line-height:6.40px;left:392.70px;transform:scaleX(0.935);transform-origin:left center;">De Melo AC 2020</div>
<div class="s" style="top:163.33px;font-size:6.40px;line-height:6.40px;left:70.80px;width:400px;text-align:right;transform:scaleX(0.935);transform-origin:right center;">-0.20</div>
<div class="s" style="top:163.33px;font-size:6.40px;line-height:6.40px;left:93.20px;width:400px;text-align:right;transform:scaleX(0.935);transform-origin:right center;">0.1510</div>
<div class="s" style="top:163.33px;font-size:6.40px;line-height:6.40px;left:194.30px;width:400px;text-align:right;transform:scaleX(0.935);transform-origin:right center;">0.82</div>
<div class="s" style="top:163.33px;font-size:6.40px;line-height:6.40px;left:227.40px;width:400px;text-align:right;transform:scaleX(0.935);transform-origin:right center;">[0.61; 1.10]</div>
<div class="s" style="top:163.33px;font-size:6.40px;line-height:6.40px;left:250.00px;width:400px;text-align:right;transform:scaleX(0.935);transform-origin:right center;">2.6%</div>
<div class="s" style="top:163.33px;font-size:6.40px;line-height:6.40px;left:278.20px;width:400px;text-align:right;transform:scaleX(0.935);transform-origin:right center;">4.5%</div>
<div class="s" style="top:171.46px;font-size:6.40px;line-height:6.40px;left:392.70px;transform:scaleX(0.935);transform-origin:left center;">Albiges L 2020</div>
<div class="s" style="top:171.46px;font-size:6.40px;line-height:6.40px;left:70.80px;width:400px;text-align:right;transform:scaleX(0.935);transform-origin:right center;">0.21</div>
<div class="s" style="top:171.46px;font-size:6.40px;line-height:6.40px;left:93.20px;width:400px;text-align:right;transform:scaleX(0.935);transform-origin:right center;">0.1563</div>
<div class="s" style="top:171.46px;font-size:6.40px;line-height:6.40px;left:194.30px;width:400px;text-align:right;transform:scaleX(0.935);transform-origin:right center;">1.24</div>
<div class="s" style="top:171.46px;font-size:6.40px;line-height:6.40px;left:227.40px;width:400px;text-align:right;transform:scaleX(0.935);transform-origin:right center;">[0.91; 1.68]</div>
<div class="s" style="top:171.46px;font-size:6.40px;line-height:6.40px;left:250.00px;width:400px;text-align:right;transform:scaleX(0.935);transform-origin:right center;">2.4%</div>
<div class="s" style="top:171.46px;font-size:6.40px;line-height:6.40px;left:278.20px;width:400px;text-align:right;transform:scaleX(0.935);transform-origin:right center;">4.4%</div>
<div class="s" style="top:179.59px;font-size:6.40px;line-height:6.40px;left:392.70px;transform:scaleX(0.935);transform-origin:left center;">Martínez-López J 2020</div>
<div class="s" style="top:179.59px;font-size:6.40px;line-height:6.40px;left:70.80px;width:400px;text-align:right;transform:scaleX(0.935);transform-origin:right center;">0.58</div>
<div class="s" style="top:179.59px;font-size:6.40px;line-height:6.40px;left:93.20px;width:400px;text-align:right;transform:scaleX(0.935);transform-origin:right center;">0.1770</div>
<div class="s" style="top:179.59px;font-size:6.40px;line-height:6.40px;left:194.30px;width:400px;text-align:right;transform:scaleX(0.935);transform-origin:right center;">1.79</div>
<div class="s" style="top:179.59px;font-size:6.40px;line-height:6.40px;left:227.40px;width:400px;text-align:right;transform:scaleX(0.935);transform-origin:right center;">[1.26; 2.53]</div>
<div class="s" style="top:179.59px;font-size:6.40px;line-height:6.40px;left:250.00px;width:400px;text-align:right;transform:scaleX(0.935);transform-origin:right center;">1.9%</div>
<div class="s" style="top:179.59px;font-size:6.40px;line-height:6.40px;left:278.20px;width:400px;text-align:right;transform:scaleX(0.935);transform-origin:right center;">3.9%</div>
<div class="s" style="top:187.72px;font-size:6.40px;line-height:6.40px;left:392.70px;transform:scaleX(0.935);transform-origin:left center;">Nakamura S 2020</div>
<div class="s" style="top:187.72px;font-size:6.40px;line-height:6.40px;left:70.80px;width:400px;text-align:right;transform:scaleX(0.935);transform-origin:right center;">0.68</div>
<div class="s" style="top:187.72px;font-size:6.40px;line-height:6.40px;left:93.20px;width:400px;text-align:right;transform:scaleX(0.935);transform-origin:right center;">0.4552</div>
<div class="s" style="top:187.72px;font-size:6.40px;line-height:6.40px;left:194.30px;width:400px;text-align:right;transform:scaleX(0.935);transform-origin:right center;">1.98</div>
<div class="s" style="top:187.72px;font-size:6.40px;line-height:6.40px;left:227.40px;width:400px;text-align:right;transform:scaleX(0.935);transform-origin:right center;">[0.81; 4.83]</div>
<div class="s" style="top:187.72px;font-size:6.40px;line-height:6.40px;left:250.00px;width:400px;text-align:right;transform:scaleX(0.935);transform-origin:right center;">0.3%</div>
<div class="s" style="top:187.72px;font-size:6.40px;line-height:6.40px;left:278.20px;width:400px;text-align:right;transform:scaleX(0.935);transform-origin:right center;">1.0%</div>
<div class="s" style="top:195.85px;font-size:6.40px;line-height:6.40px;left:392.70px;transform:scaleX(0.935);transform-origin:left center;">Rogiers A 2021</div>
<div class="s" style="top:195.85px;font-size:6.40px;line-height:6.40px;left:70.80px;width:400px;text-align:right;transform:scaleX(0.935);transform-origin:right center;">-0.05</div>
<div class="s" style="top:195.85px;font-size:6.40px;line-height:6.40px;left:93.20px;width:400px;text-align:right;transform:scaleX(0.935);transform-origin:right center;">0.2223</div>
<div class="s" style="top:195.85px;font-size:6.40px;line-height:6.40px;left:194.30px;width:400px;text-align:right;transform:scaleX(0.935);transform-origin:right center;">0.95</div>
<div class="s" style="top:195.85px;font-size:6.40px;line-height:6.40px;left:227.40px;width:400px;text-align:right;transform:scaleX(0.935);transform-origin:right center;">[0.61; 1.46]</div>
<div class="s" style="top:195.85px;font-size:6.40px;line-height:6.40px;left:250.00px;width:400px;text-align:right;transform:scaleX(0.935);transform-origin:right center;">1.2%</div>
<div class="s" style="top:195.85px;font-size:6.40px;line-height:6.40px;left:278.20px;width:400px;text-align:right;transform:scaleX(0.935);transform-origin:right center;">2.9%</div>
<div class="s" style="top:203.98px;font-size:6.40px;line-height:6.40px;left:392.70px;transform:scaleX(0.935);transform-origin:left center;">Lunski MJ 2020</div>
<div class="s" style="top:203.98px;font-size:6.40px;line-height:6.40px;left:70.80px;width:400px;text-align:right;transform:scaleX(0.935);transform-origin:right center;">0.02</div>
<div class="s" style="top:203.98px;font-size:6.40px;line-height:6.40px;left:93.20px;width:400px;text-align:right;transform:scaleX(0.935);transform-origin:right center;">0.1368</div>
<div class="s" style="top:203.98px;font-size:6.40px;line-height:6.40px;left:194.30px;width:400px;text-align:right;transform:scaleX(0.935);transform-origin:right center;">1.02</div>
<div class="s" style="top:203.98px;font-size:6.40px;line-height:6.40px;left:227.40px;width:400px;text-align:right;transform:scaleX(0.935);transform-origin:right center;">[0.78; 1.34]</div>
<div class="s" style="top:203.98px;font-size:6.40px;line-height:6.40px;left:250.00px;width:400px;text-align:right;transform:scaleX(0.935);transform-origin:right center;">3.2%</div>
<div class="s" style="top:203.98px;font-size:6.40px;line-height:6.40px;left:278.20px;width:400px;text-align:right;transform:scaleX(0.935);transform-origin:right center;">5.0%</div>
<div class="s" style="top:212.11px;font-size:6.40px;line-height:6.40px;left:392.70px;transform:scaleX(0.935);transform-origin:left center;">Hanna GJ 2020</div>
<div class="s" style="top:212.11px;font-size:6.40px;line-height:6.40px;left:70.80px;width:400px;text-align:right;transform:scaleX(0.935);transform-origin:right center;">-0.15</div>
<div class="s" style="top:212.11px;font-size:6.40px;line-height:6.40px;left:93.20px;width:400px;text-align:right;transform:scaleX(0.935);transform-origin:right center;">0.3704</div>
<div class="s" style="top:212.11px;font-size:6.40px;line-height:6.40px;left:194.30px;width:400px;text-align:right;transform:scaleX(0.935);transform-origin:right center;">0.86</div>
<div class="s" style="top:212.11px;font-size:6.40px;line-height:6.40px;left:227.40px;width:400px;text-align:right;transform:scaleX(0.935);transform-origin:right center;">[0.42; 1.78]</div>
<div class="s" style="top:212.11px;font-size:6.40px;line-height:6.40px;left:250.00px;width:400px;text-align:right;transform:scaleX(0.935);transform-origin:right center;">0.4%</div>
<div class="s" style="top:212.11px;font-size:6.40px;line-height:6.40px;left:278.20px;width:400px;text-align:right;transform:scaleX(0.935);transform-origin:right center;">1.4%</div>
<div class="s" style="top:220.24px;font-size:6.40px;line-height:6.40px;left:392.70px;transform:scaleX(0.935);transform-origin:left center;">Lieˋvre A 2020</div>
<div class="s" style="top:220.24px;font-size:6.40px;line-height:6.40px;left:70.80px;width:400px;text-align:right;transform:scaleX(0.935);transform-origin:right center;">0.24</div>
<div class="s" style="top:220.24px;font-size:6.40px;line-height:6.40px;left:93.20px;width:400px;text-align:right;transform:scaleX(0.935);transform-origin:right center;">0.0841</div>
<div class="s" style="top:220.24px;font-size:6.40px;line-height:6.40px;left:194.30px;width:400px;text-align:right;transform:scaleX(0.935);transform-origin:right center;">1.27</div>
<div class="s" style="top:220.24px;font-size:6.40px;line-height:6.40px;left:227.40px;width:400px;text-align:right;transform:scaleX(0.935);transform-origin:right center;">[1.08; 1.50]</div>
<div class="s" style="top:220.24px;font-size:6.40px;line-height:6.40px;left:250.00px;width:400px;text-align:right;transform:scaleX(0.935);transform-origin:right center;">8.4%</div>
<div class="s" style="top:220.24px;font-size:6.40px;line-height:6.40px;left:278.20px;width:400px;text-align:right;transform:scaleX(0.935);transform-origin:right center;">6.7%</div>
<div class="sb" style="top:236.08px;font-size:6.40px;line-height:6.40px;font-weight:bold;left:392.70px;transform:scaleX(0.910);transform-origin:left center;">Fixed effect model</div>
<div class="sb" style="top:244.48px;font-size:6.40px;line-height:6.40px;font-weight:bold;left:392.70px;transform:scaleX(0.910);transform-origin:left center;">Random effects model</div>
<div class="sb" style="top:236.08px;font-size:6.40px;line-height:6.40px;font-weight:bold;left:194.30px;width:400px;text-align:right;transform:scaleX(0.910);transform-origin:right center;">1.26</div>
<div class="sb" style="top:236.08px;font-size:6.40px;line-height:6.40px;font-weight:bold;left:227.40px;width:400px;text-align:right;transform:scaleX(0.910);transform-origin:right center;">[1.20; 1.32]</div>
<div class="sb" style="top:236.08px;font-size:6.40px;line-height:6.40px;font-weight:bold;left:250.00px;width:400px;text-align:right;transform:scaleX(0.910);transform-origin:right center;">100.0%</div>
<div class="sb" style="top:236.08px;font-size:6.40px;line-height:6.40px;font-weight:bold;left:278.20px;width:400px;text-align:right;transform:scaleX(0.910);transform-origin:right center;">--</div>
<div class="sb" style="top:244.48px;font-size:6.40px;line-height:6.40px;font-weight:bold;left:194.30px;width:400px;text-align:right;transform:scaleX(0.910);transform-origin:right center;">1.22</div>
<div class="sb" style="top:244.48px;font-size:6.40px;line-height:6.40px;font-weight:bold;left:227.40px;width:400px;text-align:right;transform:scaleX(0.910);transform-origin:right center;">[1.11; 1.34]</div>
<div class="sb" style="top:244.48px;font-size:6.40px;line-height:6.40px;font-weight:bold;left:250.00px;width:400px;text-align:right;transform:scaleX(0.910);transform-origin:right center;">--</div>
<div class="sb" style="top:244.48px;font-size:6.40px;line-height:6.40px;font-weight:bold;left:278.20px;width:400px;text-align:right;transform:scaleX(0.910);transform-origin:right center;">100.0%</div>
<div class="s" style="top:253.09px;font-size:6.00px;line-height:6.00px;left:392.70px;transform:scaleX(0.888);transform-origin:left center;">Heterogeneity: <i>I</i><sup>2</sup> = 64%, <i>&tau;</i><sup>2</sup> = 0.0261, <i>p</i> &lt; 0.01</div>
<div class="s" style="top:261.18px;font-size:6.40px;line-height:6.40px;left:319.30px;width:400px;text-align:center;transform:scaleX(0.935);transform-origin:center center;">0.5</div>
<div class="s" style="top:261.18px;font-size:6.40px;line-height:6.40px;left:337.90px;width:400px;text-align:center;transform:scaleX(0.935);transform-origin:center center;">1</div>
<div class="s" style="top:261.18px;font-size:6.40px;line-height:6.40px;left:356.50px;width:400px;text-align:center;transform:scaleX(0.935);transform-origin:center center;">2</div>
<div style="top:258.67px;font-size:11.50px;line-height:11.50px;font-style:italic;left:582.20px;transform:scaleX(0.940);transform-origin:left center;">P&lt;0.0001</div>
<div class="L" style="top:277.50px;font-size:15.80px;line-height:15.80px;left:477.80px;transform:scaleX(1.013);transform-origin:left center;">Female</div>
<div class="L" style="top:277.50px;font-size:15.80px;line-height:15.80px;left:553.40px;transform:scaleX(1.130);transform-origin:left center;">Male</div>
<div class="L" style="top:323.30px;font-size:29.00px;line-height:29.00px;left:0.23px;transform:scaleX(0.847);transform-origin:left center;">C</div>
<div class="L" style="top:329.74px;font-size:18.50px;line-height:18.50px;left:31.94px;transform:scaleX(1.038);transform-origin:left center;">Hypertension</div>
<div class="sb" style="top:360.98px;font-size:6.40px;line-height:6.40px;font-weight:bold;left:30.80px;transform:scaleX(0.910);transform-origin:left center;">Study</div>
<div class="sb" style="top:360.98px;font-size:6.40px;line-height:6.40px;font-weight:bold;left:-291.40px;width:400px;text-align:right;transform:scaleX(0.910);transform-origin:right center;">TE</div>
<div class="sb" style="top:360.98px;font-size:6.40px;line-height:6.40px;font-weight:bold;left:-269.50px;width:400px;text-align:right;transform:scaleX(0.910);transform-origin:right center;">seTE</div>
<div class="sb" style="top:360.98px;font-size:6.40px;line-height:6.40px;font-weight:bold;left:-24.00px;width:400px;text-align:center;transform:scaleX(0.910);transform-origin:center center;">Odds Ratio</div>
<div class="sb" style="top:360.98px;font-size:6.40px;line-height:6.40px;font-weight:bold;left:-167.60px;width:400px;text-align:right;transform:scaleX(0.910);transform-origin:right center;">OR</div>
<div class="sb" style="top:360.98px;font-size:6.40px;line-height:6.40px;font-weight:bold;left:-134.10px;width:400px;text-align:right;transform:scaleX(0.910);transform-origin:right center;">95%-CI</div>
<div class="sb" style="top:352.68px;font-size:6.40px;line-height:6.40px;font-weight:bold;left:-112.20px;width:400px;text-align:right;transform:scaleX(0.910);transform-origin:right center;">Weight</div>
<div class="sb" style="top:360.98px;font-size:6.40px;line-height:6.40px;font-weight:bold;left:-112.20px;width:400px;text-align:right;transform:scaleX(0.910);transform-origin:right center;">(fixed)</div>
<div class="sb" style="top:352.68px;font-size:6.40px;line-height:6.40px;font-weight:bold;left:-83.90px;width:400px;text-align:right;transform:scaleX(0.910);transform-origin:right center;">Weight</div>
<div class="sb" style="top:360.98px;font-size:6.40px;line-height:6.40px;font-weight:bold;left:-83.90px;width:400px;text-align:right;transform:scaleX(0.910);transform-origin:right center;">(random)</div>
<div class="s" style="top:377.28px;font-size:6.40px;line-height:6.40px;left:30.80px;transform:scaleX(0.935);transform-origin:left center;">Lee LYW 2020</div>
<div class="s" style="top:377.28px;font-size:6.40px;line-height:6.40px;left:-291.40px;width:400px;text-align:right;transform:scaleX(0.935);transform-origin:right center;">0.29</div>
<div class="s" style="top:377.28px;font-size:6.40px;line-height:6.40px;left:-269.50px;width:400px;text-align:right;transform:scaleX(0.935);transform-origin:right center;">0.0800</div>
<div class="s" style="top:377.28px;font-size:6.40px;line-height:6.40px;left:-167.60px;width:400px;text-align:right;transform:scaleX(0.935);transform-origin:right center;">1.34</div>
<div class="s" style="top:377.28px;font-size:6.40px;line-height:6.40px;left:-134.10px;width:400px;text-align:right;transform:scaleX(0.935);transform-origin:right center;">[1.14; 1.56]</div>
<div class="s" style="top:377.28px;font-size:6.40px;line-height:6.40px;left:-112.20px;width:400px;text-align:right;transform:scaleX(0.935);transform-origin:right center;">20.9%</div>
<div class="s" style="top:377.28px;font-size:6.40px;line-height:6.40px;left:-83.90px;width:400px;text-align:right;transform:scaleX(0.935);transform-origin:right center;">20.7%</div>
<div class="s" style="top:385.34px;font-size:6.40px;line-height:6.40px;left:30.80px;transform:scaleX(0.935);transform-origin:left center;">Yarza R 2020</div>
<div class="s" style="top:385.34px;font-size:6.40px;line-height:6.40px;left:-291.40px;width:400px;text-align:right;transform:scaleX(0.935);transform-origin:right center;">0.30</div>
<div class="s" style="top:385.34px;font-size:6.40px;line-height:6.40px;left:-269.50px;width:400px;text-align:right;transform:scaleX(0.935);transform-origin:right center;">0.2390</div>
<div class="s" style="top:385.34px;font-size:6.40px;line-height:6.40px;left:-167.60px;width:400px;text-align:right;transform:scaleX(0.935);transform-origin:right center;">1.35</div>
<div class="s" style="top:385.34px;font-size:6.40px;line-height:6.40px;left:-134.10px;width:400px;text-align:right;transform:scaleX(0.935);transform-origin:right center;">[0.85; 2.16]</div>
<div class="s" style="top:385.34px;font-size:6.40px;line-height:6.40px;left:-112.20px;width:400px;text-align:right;transform:scaleX(0.935);transform-origin:right center;">2.3%</div>
<div class="s" style="top:385.34px;font-size:6.40px;line-height:6.40px;left:-83.90px;width:400px;text-align:right;transform:scaleX(0.935);transform-origin:right center;">2.6%</div>
<div class="s" style="top:393.40px;font-size:6.40px;line-height:6.40px;left:30.80px;transform:scaleX(0.935);transform-origin:left center;">Li Q 2020</div>
<div class="s" style="top:393.40px;font-size:6.40px;line-height:6.40px;left:-291.40px;width:400px;text-align:right;transform:scaleX(0.935);transform-origin:right center;">0.37</div>
<div class="s" style="top:393.40px;font-size:6.40px;line-height:6.40px;left:-269.50px;width:400px;text-align:right;transform:scaleX(0.935);transform-origin:right center;">0.0606</div>
<div class="s" style="top:393.40px;font-size:6.40px;line-height:6.40px;left:-167.60px;width:400px;text-align:right;transform:scaleX(0.935);transform-origin:right center;">1.45</div>
<div class="s" style="top:393.40px;font-size:6.40px;line-height:6.40px;left:-134.10px;width:400px;text-align:right;transform:scaleX(0.935);transform-origin:right center;">[1.29; 1.64]</div>
<div class="s" style="top:393.40px;font-size:6.40px;line-height:6.40px;left:-112.20px;width:400px;text-align:right;transform:scaleX(0.935);transform-origin:right center;">36.5%</div>
<div class="s" style="top:393.40px;font-size:6.40px;line-height:6.40px;left:-83.90px;width:400px;text-align:right;transform:scaleX(0.935);transform-origin:right center;">32.9%</div>
<div class="s" style="top:401.46px;font-size:6.40px;line-height:6.40px;left:30.80px;transform:scaleX(0.935);transform-origin:left center;">Sanchez-Pina JM 2020</div>
<div class="s" style="top:401.46px;font-size:6.40px;line-height:6.40px;left:-291.40px;width:400px;text-align:right;transform:scaleX(0.935);transform-origin:right center;">0.65</div>
<div class="s" style="top:401.46px;font-size:6.40px;line-height:6.40px;left:-269.50px;width:400px;text-align:right;transform:scaleX(0.935);transform-origin:right center;">0.3139</div>
<div class="s" style="top:401.46px;font-size:6.40px;line-height:6.40px;left:-167.60px;width:400px;text-align:right;transform:scaleX(0.935);transform-origin:right center;">1.91</div>
<div class="s" style="top:401.46px;font-size:6.40px;line-height:6.40px;left:-134.10px;width:400px;text-align:right;transform:scaleX(0.935);transform-origin:right center;">[1.03; 3.53]</div>
<div class="s" style="top:401.46px;font-size:6.40px;line-height:6.40px;left:-112.20px;width:400px;text-align:right;transform:scaleX(0.935);transform-origin:right center;">1.4%</div>
<div class="s" style="top:401.46px;font-size:6.40px;line-height:6.40px;left:-83.90px;width:400px;text-align:right;transform:scaleX(0.935);transform-origin:right center;">1.5%</div>
<div class="s" style="top:409.52px;font-size:6.40px;line-height:6.40px;left:30.80px;transform:scaleX(0.935);transform-origin:left center;">Garassino MC 2020</div>
<div class="s" style="top:409.52px;font-size:6.40px;line-height:6.40px;left:-291.40px;width:400px;text-align:right;transform:scaleX(0.935);transform-origin:right center;">0.06</div>
<div class="s" style="top:409.52px;font-size:6.40px;line-height:6.40px;left:-269.50px;width:400px;text-align:right;transform:scaleX(0.935);transform-origin:right center;">0.1426</div>
<div class="s" style="top:409.52px;font-size:6.40px;line-height:6.40px;left:-167.60px;width:400px;text-align:right;transform:scaleX(0.935);transform-origin:right center;">1.07</div>
<div class="s" style="top:409.52px;font-size:6.40px;line-height:6.40px;left:-134.10px;width:400px;text-align:right;transform:scaleX(0.935);transform-origin:right center;">[0.81; 1.41]</div>
<div class="s" style="top:409.52px;font-size:6.40px;line-height:6.40px;left:-112.20px;width:400px;text-align:right;transform:scaleX(0.935);transform-origin:right center;">6.6%</div>
<div class="s" style="top:409.52px;font-size:6.40px;line-height:6.40px;left:-83.90px;width:400px;text-align:right;transform:scaleX(0.935);transform-origin:right center;">7.1%</div>
<div class="s" style="top:417.58px;font-size:6.40px;line-height:6.40px;left:30.80px;transform:scaleX(0.935);transform-origin:left center;">Fox TA 2020</div>
<div class="s" style="top:417.58px;font-size:6.40px;line-height:6.40px;left:-291.40px;width:400px;text-align:right;transform:scaleX(0.935);transform-origin:right center;">-0.16</div>
<div class="s" style="top:417.58px;font-size:6.40px;line-height:6.40px;left:-269.50px;width:400px;text-align:right;transform:scaleX(0.935);transform-origin:right center;">0.2627</div>
<div class="s" style="top:417.58px;font-size:6.40px;line-height:6.40px;left:-167.60px;width:400px;text-align:right;transform:scaleX(0.935);transform-origin:right center;">0.85</div>
<div class="s" style="top:417.58px;font-size:6.40px;line-height:6.40px;left:-134.10px;width:400px;text-align:right;transform:scaleX(0.935);transform-origin:right center;">[0.51; 1.42]</div>
<div class="s" style="top:417.58px;font-size:6.40px;line-height:6.40px;left:-112.20px;width:400px;text-align:right;transform:scaleX(0.935);transform-origin:right center;">1.9%</div>
<div class="s" style="top:417.58px;font-size:6.40px;line-height:6.40px;left:-83.90px;width:400px;text-align:right;transform:scaleX(0.935);transform-origin:right center;">2.2%</div>
<div class="s" style="top:425.64px;font-size:6.40px;line-height:6.40px;left:30.80px;transform:scaleX(0.935);transform-origin:left center;">Liu C 2020</div>
<div class="s" style="top:425.64px;font-size:6.40px;line-height:6.40px;left:-291.40px;width:400px;text-align:right;transform:scaleX(0.935);transform-origin:right center;">0.14</div>
<div class="s" style="top:425.64px;font-size:6.40px;line-height:6.40px;left:-269.50px;width:400px;text-align:right;transform:scaleX(0.935);transform-origin:right center;">0.1612</div>
<div class="s" style="top:425.64px;font-size:6.40px;line-height:6.40px;left:-167.60px;width:400px;text-align:right;transform:scaleX(0.935);transform-origin:right center;">1.15</div>
<div class="s" style="top:425.64px;font-size:6.40px;line-height:6.40px;left:-134.10px;width:400px;text-align:right;transform:scaleX(0.935);transform-origin:right center;">[0.84; 1.58]</div>
<div class="s" style="top:425.64px;font-size:6.40px;line-height:6.40px;left:-112.20px;width:400px;text-align:right;transform:scaleX(0.935);transform-origin:right center;">5.2%</div>
<div class="s" style="top:425.64px;font-size:6.40px;line-height:6.40px;left:-83.90px;width:400px;text-align:right;transform:scaleX(0.935);transform-origin:right center;">5.6%</div>
<div class="s" style="top:433.70px;font-size:6.40px;line-height:6.40px;left:30.80px;transform:scaleX(0.935);transform-origin:left center;">Luo J 2020</div>
<div class="s" style="top:433.70px;font-size:6.40px;line-height:6.40px;left:-291.40px;width:400px;text-align:right;transform:scaleX(0.935);transform-origin:right center;">0.40</div>
<div class="s" style="top:433.70px;font-size:6.40px;line-height:6.40px;left:-269.50px;width:400px;text-align:right;transform:scaleX(0.935);transform-origin:right center;">0.2145</div>
<div class="s" style="top:433.70px;font-size:6.40px;line-height:6.40px;left:-167.60px;width:400px;text-align:right;transform:scaleX(0.935);transform-origin:right center;">1.49</div>
<div class="s" style="top:433.70px;font-size:6.40px;line-height:6.40px;left:-134.10px;width:400px;text-align:right;transform:scaleX(0.935);transform-origin:right center;">[0.98; 2.27]</div>
<div class="s" style="top:433.70px;font-size:6.40px;line-height:6.40px;left:-112.20px;width:400px;text-align:right;transform:scaleX(0.935);transform-origin:right center;">2.9%</div>
<div class="s" style="top:433.70px;font-size:6.40px;line-height:6.40px;left:-83.90px;width:400px;text-align:right;transform:scaleX(0.935);transform-origin:right center;">3.2%</div>
<div class="s" style="top:441.76px;font-size:6.40px;line-height:6.40px;left:30.80px;transform:scaleX(0.935);transform-origin:left center;">Mato AR 2020</div>
<div class="s" style="top:441.76px;font-size:6.40px;line-height:6.40px;left:-291.40px;width:400px;text-align:right;transform:scaleX(0.935);transform-origin:right center;">0.15</div>
<div class="s" style="top:441.76px;font-size:6.40px;line-height:6.40px;left:-269.50px;width:400px;text-align:right;transform:scaleX(0.935);transform-origin:right center;">0.1112</div>
<div class="s" style="top:441.76px;font-size:6.40px;line-height:6.40px;left:-167.60px;width:400px;text-align:right;transform:scaleX(0.935);transform-origin:right center;">1.16</div>
<div class="s" style="top:441.76px;font-size:6.40px;line-height:6.40px;left:-134.10px;width:400px;text-align:right;transform:scaleX(0.935);transform-origin:right center;">[0.93; 1.44]</div>
<div class="s" style="top:441.76px;font-size:6.40px;line-height:6.40px;left:-112.20px;width:400px;text-align:right;transform:scaleX(0.935);transform-origin:right center;">10.8%</div>
<div class="s" style="top:441.76px;font-size:6.40px;line-height:6.40px;left:-83.90px;width:400px;text-align:right;transform:scaleX(0.935);transform-origin:right center;">11.4%</div>
<div class="s" style="top:449.82px;font-size:6.40px;line-height:6.40px;left:30.80px;transform:scaleX(0.935);transform-origin:left center;">Wang BO 2020</div>
<div class="s" style="top:449.82px;font-size:6.40px;line-height:6.40px;left:-291.40px;width:400px;text-align:right;transform:scaleX(0.935);transform-origin:right center;">0.40</div>
<div class="s" style="top:449.82px;font-size:6.40px;line-height:6.40px;left:-269.50px;width:400px;text-align:right;transform:scaleX(0.935);transform-origin:right center;">0.3729</div>
<div class="s" style="top:449.82px;font-size:6.40px;line-height:6.40px;left:-167.60px;width:400px;text-align:right;transform:scaleX(0.935);transform-origin:right center;">1.49</div>
<div class="s" style="top:449.82px;font-size:6.40px;line-height:6.40px;left:-134.10px;width:400px;text-align:right;transform:scaleX(0.935);transform-origin:right center;">[0.72; 3.09]</div>
<div class="s" style="top:449.82px;font-size:6.40px;line-height:6.40px;left:-112.20px;width:400px;text-align:right;transform:scaleX(0.935);transform-origin:right center;">1.0%</div>
<div class="s" style="top:449.82px;font-size:6.40px;line-height:6.40px;left:-83.90px;width:400px;text-align:right;transform:scaleX(0.935);transform-origin:right center;">1.1%</div>
<div class="s" style="top:457.88px;font-size:6.40px;line-height:6.40px;left:30.80px;transform:scaleX(0.935);transform-origin:left center;">Martínez-López J 2020</div>
<div class="s" style="top:457.88px;font-size:6.40px;line-height:6.40px;left:-291.40px;width:400px;text-align:right;transform:scaleX(0.935);transform-origin:right center;">0.23</div>
<div class="s" style="top:457.88px;font-size:6.40px;line-height:6.40px;left:-269.50px;width:400px;text-align:right;transform:scaleX(0.935);transform-origin:right center;">0.1635</div>
<div class="s" style="top:457.88px;font-size:6.40px;line-height:6.40px;left:-167.60px;width:400px;text-align:right;transform:scaleX(0.935);transform-origin:right center;">1.26</div>
<div class="s" style="top:457.88px;font-size:6.40px;line-height:6.40px;left:-134.10px;width:400px;text-align:right;transform:scaleX(0.935);transform-origin:right center;">[0.91; 1.73]</div>
<div class="s" style="top:457.88px;font-size:6.40px;line-height:6.40px;left:-112.20px;width:400px;text-align:right;transform:scaleX(0.935);transform-origin:right center;">5.0%</div>
<div class="s" style="top:457.88px;font-size:6.40px;line-height:6.40px;left:-83.90px;width:400px;text-align:right;transform:scaleX(0.935);transform-origin:right center;">5.5%</div>
<div class="s" style="top:465.94px;font-size:6.40px;line-height:6.40px;left:30.80px;transform:scaleX(0.935);transform-origin:left center;">Nakamura S 2020</div>
<div class="s" style="top:465.94px;font-size:6.40px;line-height:6.40px;left:-291.40px;width:400px;text-align:right;transform:scaleX(0.935);transform-origin:right center;">0.33</div>
<div class="s" style="top:465.94px;font-size:6.40px;line-height:6.40px;left:-269.50px;width:400px;text-align:right;transform:scaleX(0.935);transform-origin:right center;">0.2647</div>
<div class="s" style="top:465.94px;font-size:6.40px;line-height:6.40px;left:-167.60px;width:400px;text-align:right;transform:scaleX(0.935);transform-origin:right center;">1.39</div>
<div class="s" style="top:465.94px;font-size:6.40px;line-height:6.40px;left:-134.10px;width:400px;text-align:right;transform:scaleX(0.935);transform-origin:right center;">[0.83; 2.34]</div>
<div class="s" style="top:465.94px;font-size:6.40px;line-height:6.40px;left:-112.20px;width:400px;text-align:right;transform:scaleX(0.935);transform-origin:right center;">1.9%</div>
<div class="s" style="top:465.94px;font-size:6.40px;line-height:6.40px;left:-83.90px;width:400px;text-align:right;transform:scaleX(0.935);transform-origin:right center;">2.1%</div>
<div class="s" style="top:474.00px;font-size:6.40px;line-height:6.40px;left:30.80px;transform:scaleX(0.935);transform-origin:left center;">Lunski MJ 2020</div>
<div class="s" style="top:474.00px;font-size:6.40px;line-height:6.40px;left:-291.40px;width:400px;text-align:right;transform:scaleX(0.935);transform-origin:right center;">0.09</div>
<div class="s" style="top:474.00px;font-size:6.40px;line-height:6.40px;left:-269.50px;width:400px;text-align:right;transform:scaleX(0.935);transform-origin:right center;">0.1930</div>
<div class="s" style="top:474.00px;font-size:6.40px;line-height:6.40px;left:-167.60px;width:400px;text-align:right;transform:scaleX(0.935);transform-origin:right center;">1.10</div>
<div class="s" style="top:474.00px;font-size:6.40px;line-height:6.40px;left:-134.10px;width:400px;text-align:right;transform:scaleX(0.935);transform-origin:right center;">[0.75; 1.60]</div>
<div class="s" style="top:474.00px;font-size:6.40px;line-height:6.40px;left:-112.20px;width:400px;text-align:right;transform:scaleX(0.935);transform-origin:right center;">3.6%</div>
<div class="s" style="top:474.00px;font-size:6.40px;line-height:6.40px;left:-83.90px;width:400px;text-align:right;transform:scaleX(0.935);transform-origin:right center;">4.0%</div>
<div class="sb" style="top:489.58px;font-size:6.40px;line-height:6.40px;font-weight:bold;left:30.80px;transform:scaleX(0.910);transform-origin:left center;">Fixed effect model</div>
<div class="sb" style="top:497.68px;font-size:6.40px;line-height:6.40px;font-weight:bold;left:30.80px;transform:scaleX(0.910);transform-origin:left center;">Random effects model</div>
<div class="sb" style="top:489.58px;font-size:6.40px;line-height:6.40px;font-weight:bold;left:-167.60px;width:400px;text-align:right;transform:scaleX(0.910);transform-origin:right center;">1.32</div>
<div class="sb" style="top:489.58px;font-size:6.40px;line-height:6.40px;font-weight:bold;left:-134.10px;width:400px;text-align:right;transform:scaleX(0.910);transform-origin:right center;">[1.22; 1.41]</div>
<div class="sb" style="top:489.58px;font-size:6.40px;line-height:6.40px;font-weight:bold;left:-112.20px;width:400px;text-align:right;transform:scaleX(0.910);transform-origin:right center;">100.0%</div>
<div class="sb" style="top:489.58px;font-size:6.40px;line-height:6.40px;font-weight:bold;left:-83.90px;width:400px;text-align:right;transform:scaleX(0.910);transform-origin:right center;">--</div>
<div class="sb" style="top:497.68px;font-size:6.40px;line-height:6.40px;font-weight:bold;left:-167.60px;width:400px;text-align:right;transform:scaleX(0.910);transform-origin:right center;">1.31</div>
<div class="sb" style="top:497.68px;font-size:6.40px;line-height:6.40px;font-weight:bold;left:-134.10px;width:400px;text-align:right;transform:scaleX(0.910);transform-origin:right center;">[1.21; 1.41]</div>
<div class="sb" style="top:497.68px;font-size:6.40px;line-height:6.40px;font-weight:bold;left:-112.20px;width:400px;text-align:right;transform:scaleX(0.910);transform-origin:right center;">--</div>
<div class="sb" style="top:497.68px;font-size:6.40px;line-height:6.40px;font-weight:bold;left:-83.90px;width:400px;text-align:right;transform:scaleX(0.910);transform-origin:right center;">100.0%</div>
<div class="s" style="top:506.79px;font-size:6.00px;line-height:6.00px;left:30.80px;transform:scaleX(0.888);transform-origin:left center;">Heterogeneity: <i>I</i><sup>2</sup> = 5%, <i>&tau;</i><sup>2</sup> = 0.0010, <i>p</i> = 0.40</div>
<div class="s" style="top:514.68px;font-size:6.40px;line-height:6.40px;left:-46.64px;width:400px;text-align:center;transform:scaleX(0.935);transform-origin:center center;">0.5</div>
<div class="s" style="top:514.68px;font-size:6.40px;line-height:6.40px;left:-24.00px;width:400px;text-align:center;transform:scaleX(0.935);transform-origin:center center;">1</div>
<div class="s" style="top:514.68px;font-size:6.40px;line-height:6.40px;left:-1.36px;width:400px;text-align:center;transform:scaleX(0.935);transform-origin:center center;">2</div>
<div style="top:511.42px;font-size:11.50px;line-height:11.50px;font-style:italic;left:217.60px;transform:scaleX(0.940);transform-origin:left center;">P&lt;0.0001</div>
<div class="L" style="top:531.30px;font-size:15.80px;line-height:15.80px;left:140.30px;transform:scaleX(1.195);transform-origin:left center;">No</div>
<div class="L" style="top:531.30px;font-size:15.80px;line-height:15.80px;left:190.75px;transform:scaleX(1.059);transform-origin:left center;">Yes</div>
<div class="L" style="top:324.60px;font-size:29.00px;line-height:29.00px;left:360.76px;transform:scaleX(0.940);transform-origin:left center;">D</div>
<div class="L" style="top:322.34px;font-size:18.50px;line-height:18.50px;left:395.76px;transform:scaleX(1.017);transform-origin:left center;">Diabetes</div>
<div class="sb" style="top:356.78px;font-size:6.40px;line-height:6.40px;font-weight:bold;left:392.70px;transform:scaleX(0.910);transform-origin:left center;">Study</div>
<div class="sb" style="top:356.78px;font-size:6.40px;line-height:6.40px;font-weight:bold;left:71.10px;width:400px;text-align:right;transform:scaleX(0.910);transform-origin:right center;">TE</div>
<div class="sb" style="top:356.78px;font-size:6.40px;line-height:6.40px;font-weight:bold;left:93.20px;width:400px;text-align:right;transform:scaleX(0.910);transform-origin:right center;">seTE</div>
<div class="sb" style="top:356.78px;font-size:6.40px;line-height:6.40px;font-weight:bold;left:338.05px;width:400px;text-align:center;transform:scaleX(0.910);transform-origin:center center;">Odds Ratio</div>
<div class="sb" style="top:356.78px;font-size:6.40px;line-height:6.40px;font-weight:bold;left:194.00px;width:400px;text-align:right;transform:scaleX(0.910);transform-origin:right center;">OR</div>
<div class="sb" style="top:356.78px;font-size:6.40px;line-height:6.40px;font-weight:bold;left:227.50px;width:400px;text-align:right;transform:scaleX(0.910);transform-origin:right center;">95%-CI</div>
<div class="sb" style="top:349.38px;font-size:6.40px;line-height:6.40px;font-weight:bold;left:249.90px;width:400px;text-align:right;transform:scaleX(0.910);transform-origin:right center;">Weight</div>
<div class="sb" style="top:356.78px;font-size:6.40px;line-height:6.40px;font-weight:bold;left:249.90px;width:400px;text-align:right;transform:scaleX(0.910);transform-origin:right center;">(fixed)</div>
<div class="sb" style="top:349.38px;font-size:6.40px;line-height:6.40px;font-weight:bold;left:277.70px;width:400px;text-align:right;transform:scaleX(0.910);transform-origin:right center;">Weight</div>
<div class="sb" style="top:356.78px;font-size:6.40px;line-height:6.40px;font-weight:bold;left:277.70px;width:400px;text-align:right;transform:scaleX(0.910);transform-origin:right center;">(random)</div>
<div class="s" style="top:372.68px;font-size:6.40px;line-height:6.40px;left:392.70px;transform:scaleX(0.935);transform-origin:left center;">Lee LYW 2020</div>
<div class="s" style="top:372.68px;font-size:6.40px;line-height:6.40px;left:71.10px;width:400px;text-align:right;transform:scaleX(0.935);transform-origin:right center;">0.21</div>
<div class="s" style="top:372.68px;font-size:6.40px;line-height:6.40px;left:93.20px;width:400px;text-align:right;transform:scaleX(0.935);transform-origin:right center;">0.0974</div>
<div class="s" style="top:372.68px;font-size:6.40px;line-height:6.40px;left:194.00px;width:400px;text-align:right;transform:scaleX(0.935);transform-origin:right center;">1.23</div>
<div class="s" style="top:372.68px;font-size:6.40px;line-height:6.40px;left:227.50px;width:400px;text-align:right;transform:scaleX(0.935);transform-origin:right center;">[1.02; 1.49]</div>
<div class="s" style="top:372.68px;font-size:6.40px;line-height:6.40px;left:249.90px;width:400px;text-align:right;transform:scaleX(0.935);transform-origin:right center;">19.0%</div>
<div class="s" style="top:372.68px;font-size:6.40px;line-height:6.40px;left:277.70px;width:400px;text-align:right;transform:scaleX(0.935);transform-origin:right center;">18.7%</div>
<div class="s" style="top:380.40px;font-size:6.40px;line-height:6.40px;left:392.70px;transform:scaleX(0.935);transform-origin:left center;">Yarza R 2020</div>
<div class="s" style="top:380.40px;font-size:6.40px;line-height:6.40px;left:71.10px;width:400px;text-align:right;transform:scaleX(0.935);transform-origin:right center;">0.06</div>
<div class="s" style="top:380.40px;font-size:6.40px;line-height:6.40px;left:93.20px;width:400px;text-align:right;transform:scaleX(0.935);transform-origin:right center;">0.2703</div>
<div class="s" style="top:380.40px;font-size:6.40px;line-height:6.40px;left:194.00px;width:400px;text-align:right;transform:scaleX(0.935);transform-origin:right center;">1.06</div>
<div class="s" style="top:380.40px;font-size:6.40px;line-height:6.40px;left:227.50px;width:400px;text-align:right;transform:scaleX(0.935);transform-origin:right center;">[0.63; 1.80]</div>
<div class="s" style="top:380.40px;font-size:6.40px;line-height:6.40px;left:249.90px;width:400px;text-align:right;transform:scaleX(0.935);transform-origin:right center;">2.5%</div>
<div class="s" style="top:380.40px;font-size:6.40px;line-height:6.40px;left:277.70px;width:400px;text-align:right;transform:scaleX(0.935);transform-origin:right center;">3.9%</div>
<div class="s" style="top:388.12px;font-size:6.40px;line-height:6.40px;left:392.70px;transform:scaleX(0.935);transform-origin:left center;">Li Q 2020</div>
<div class="s" style="top:388.12px;font-size:6.40px;line-height:6.40px;left:71.10px;width:400px;text-align:right;transform:scaleX(0.935);transform-origin:right center;">0.41</div>
<div class="s" style="top:388.12px;font-size:6.40px;line-height:6.40px;left:93.20px;width:400px;text-align:right;transform:scaleX(0.935);transform-origin:right center;">0.0674</div>
<div class="s" style="top:388.12px;font-size:6.40px;line-height:6.40px;left:194.00px;width:400px;text-align:right;transform:scaleX(0.935);transform-origin:right center;">1.51</div>
<div class="s" style="top:388.12px;font-size:6.40px;line-height:6.40px;left:227.50px;width:400px;text-align:right;transform:scaleX(0.935);transform-origin:right center;">[1.32; 1.72]</div>
<div class="s" style="top:388.12px;font-size:6.40px;line-height:6.40px;left:249.90px;width:400px;text-align:right;transform:scaleX(0.935);transform-origin:right center;">39.8%</div>
<div class="s" style="top:388.12px;font-size:6.40px;line-height:6.40px;left:277.70px;width:400px;text-align:right;transform:scaleX(0.935);transform-origin:right center;">26.4%</div>
<div class="s" style="top:395.84px;font-size:6.40px;line-height:6.40px;left:392.70px;transform:scaleX(0.935);transform-origin:left center;">Fox TA 2020</div>
<div class="s" style="top:395.84px;font-size:6.40px;line-height:6.40px;left:71.10px;width:400px;text-align:right;transform:scaleX(0.935);transform-origin:right center;">-0.21</div>
<div class="s" style="top:395.84px;font-size:6.40px;line-height:6.40px;left:93.20px;width:400px;text-align:right;transform:scaleX(0.935);transform-origin:right center;">0.3254</div>
<div class="s" style="top:395.84px;font-size:6.40px;line-height:6.40px;left:194.00px;width:400px;text-align:right;transform:scaleX(0.935);transform-origin:right center;">0.81</div>
<div class="s" style="top:395.84px;font-size:6.40px;line-height:6.40px;left:227.50px;width:400px;text-align:right;transform:scaleX(0.935);transform-origin:right center;">[0.43; 1.53]</div>
<div class="s" style="top:395.84px;font-size:6.40px;line-height:6.40px;left:249.90px;width:400px;text-align:right;transform:scaleX(0.935);transform-origin:right center;">1.7%</div>
<div class="s" style="top:395.84px;font-size:6.40px;line-height:6.40px;left:277.70px;width:400px;text-align:right;transform:scaleX(0.935);transform-origin:right center;">2.8%</div>
<div class="s" style="top:403.56px;font-size:6.40px;line-height:6.40px;left:392.70px;transform:scaleX(0.935);transform-origin:left center;">Liu C 2020</div>
<div class="s" style="top:403.56px;font-size:6.40px;line-height:6.40px;left:71.10px;width:400px;text-align:right;transform:scaleX(0.935);transform-origin:right center;">-0.20</div>
<div class="s" style="top:403.56px;font-size:6.40px;line-height:6.40px;left:93.20px;width:400px;text-align:right;transform:scaleX(0.935);transform-origin:right center;">0.2440</div>
<div class="s" style="top:403.56px;font-size:6.40px;line-height:6.40px;left:194.00px;width:400px;text-align:right;transform:scaleX(0.935);transform-origin:right center;">0.82</div>
<div class="s" style="top:403.56px;font-size:6.40px;line-height:6.40px;left:227.50px;width:400px;text-align:right;transform:scaleX(0.935);transform-origin:right center;">[0.51; 1.32]</div>
<div class="s" style="top:403.56px;font-size:6.40px;line-height:6.40px;left:249.90px;width:400px;text-align:right;transform:scaleX(0.935);transform-origin:right center;">3.0%</div>
<div class="s" style="top:403.56px;font-size:6.40px;line-height:6.40px;left:277.70px;width:400px;text-align:right;transform:scaleX(0.935);transform-origin:right center;">4.7%</div>
<div class="s" style="top:411.28px;font-size:6.40px;line-height:6.40px;left:392.70px;transform:scaleX(0.935);transform-origin:left center;">Luo J 2020</div>
<div class="s" style="top:411.28px;font-size:6.40px;line-height:6.40px;left:71.10px;width:400px;text-align:right;transform:scaleX(0.935);transform-origin:right center;">0.26</div>
<div class="s" style="top:411.28px;font-size:6.40px;line-height:6.40px;left:93.20px;width:400px;text-align:right;transform:scaleX(0.935);transform-origin:right center;">0.2102</div>
<div class="s" style="top:411.28px;font-size:6.40px;line-height:6.40px;left:194.00px;width:400px;text-align:right;transform:scaleX(0.935);transform-origin:right center;">1.30</div>
<div class="s" style="top:411.28px;font-size:6.40px;line-height:6.40px;left:227.50px;width:400px;text-align:right;transform:scaleX(0.935);transform-origin:right center;">[0.86; 1.97]</div>
<div class="s" style="top:411.28px;font-size:6.40px;line-height:6.40px;left:249.90px;width:400px;text-align:right;transform:scaleX(0.935);transform-origin:right center;">4.1%</div>
<div class="s" style="top:411.28px;font-size:6.40px;line-height:6.40px;left:277.70px;width:400px;text-align:right;transform:scaleX(0.935);transform-origin:right center;">6.1%</div>
<div class="s" style="top:419.00px;font-size:6.40px;line-height:6.40px;left:392.70px;transform:scaleX(0.935);transform-origin:left center;">Mato AR 2020</div>
<div class="s" style="top:419.00px;font-size:6.40px;line-height:6.40px;left:71.10px;width:400px;text-align:right;transform:scaleX(0.935);transform-origin:right center;">0.30</div>
<div class="s" style="top:419.00px;font-size:6.40px;line-height:6.40px;left:93.20px;width:400px;text-align:right;transform:scaleX(0.935);transform-origin:right center;">0.1121</div>
<div class="s" style="top:419.00px;font-size:6.40px;line-height:6.40px;left:194.00px;width:400px;text-align:right;transform:scaleX(0.935);transform-origin:right center;">1.35</div>
<div class="s" style="top:419.00px;font-size:6.40px;line-height:6.40px;left:227.50px;width:400px;text-align:right;transform:scaleX(0.935);transform-origin:right center;">[1.08; 1.68]</div>
<div class="s" style="top:419.00px;font-size:6.40px;line-height:6.40px;left:249.90px;width:400px;text-align:right;transform:scaleX(0.935);transform-origin:right center;">14.4%</div>
<div class="s" style="top:419.00px;font-size:6.40px;line-height:6.40px;left:277.70px;width:400px;text-align:right;transform:scaleX(0.935);transform-origin:right center;">15.8%</div>
<div class="s" style="top:426.72px;font-size:6.40px;line-height:6.40px;left:392.70px;transform:scaleX(0.935);transform-origin:left center;">Wang BO 2020</div>
<div class="s" style="top:426.72px;font-size:6.40px;line-height:6.40px;left:71.10px;width:400px;text-align:right;transform:scaleX(0.935);transform-origin:right center;">0.03</div>
<div class="s" style="top:426.72px;font-size:6.40px;line-height:6.40px;left:93.20px;width:400px;text-align:right;transform:scaleX(0.935);transform-origin:right center;">0.3491</div>
<div class="s" style="top:426.72px;font-size:6.40px;line-height:6.40px;left:194.00px;width:400px;text-align:right;transform:scaleX(0.935);transform-origin:right center;">1.03</div>
<div class="s" style="top:426.72px;font-size:6.40px;line-height:6.40px;left:227.50px;width:400px;text-align:right;transform:scaleX(0.935);transform-origin:right center;">[0.52; 2.04]</div>
<div class="s" style="top:426.72px;font-size:6.40px;line-height:6.40px;left:249.90px;width:400px;text-align:right;transform:scaleX(0.935);transform-origin:right center;">1.5%</div>
<div class="s" style="top:426.72px;font-size:6.40px;line-height:6.40px;left:277.70px;width:400px;text-align:right;transform:scaleX(0.935);transform-origin:right center;">2.4%</div>
<div class="s" style="top:434.44px;font-size:6.40px;line-height:6.40px;left:392.70px;transform:scaleX(0.935);transform-origin:left center;">Nakamura S 2020</div>
<div class="s" style="top:434.44px;font-size:6.40px;line-height:6.40px;left:71.10px;width:400px;text-align:right;transform:scaleX(0.935);transform-origin:right center;">0.20</div>
<div class="s" style="top:434.44px;font-size:6.40px;line-height:6.40px;left:93.20px;width:400px;text-align:right;transform:scaleX(0.935);transform-origin:right center;">0.2959</div>
<div class="s" style="top:434.44px;font-size:6.40px;line-height:6.40px;left:194.00px;width:400px;text-align:right;transform:scaleX(0.935);transform-origin:right center;">1.23</div>
<div class="s" style="top:434.44px;font-size:6.40px;line-height:6.40px;left:227.50px;width:400px;text-align:right;transform:scaleX(0.935);transform-origin:right center;">[0.69; 2.19]</div>
<div class="s" style="top:434.44px;font-size:6.40px;line-height:6.40px;left:249.90px;width:400px;text-align:right;transform:scaleX(0.935);transform-origin:right center;">2.1%</div>
<div class="s" style="top:434.44px;font-size:6.40px;line-height:6.40px;left:277.70px;width:400px;text-align:right;transform:scaleX(0.935);transform-origin:right center;">3.3%</div>
<div class="s" style="top:442.16px;font-size:6.40px;line-height:6.40px;left:392.70px;transform:scaleX(0.935);transform-origin:left center;">Rogiers A 2021</div>
<div class="s" style="top:442.16px;font-size:6.40px;line-height:6.40px;left:71.10px;width:400px;text-align:right;transform:scaleX(0.935);transform-origin:right center;">0.12</div>
<div class="s" style="top:442.16px;font-size:6.40px;line-height:6.40px;left:93.20px;width:400px;text-align:right;transform:scaleX(0.935);transform-origin:right center;">0.2755</div>
<div class="s" style="top:442.16px;font-size:6.40px;line-height:6.40px;left:194.00px;width:400px;text-align:right;transform:scaleX(0.935);transform-origin:right center;">1.12</div>
<div class="s" style="top:442.16px;font-size:6.40px;line-height:6.40px;left:227.50px;width:400px;text-align:right;transform:scaleX(0.935);transform-origin:right center;">[0.66; 1.93]</div>
<div class="s" style="top:442.16px;font-size:6.40px;line-height:6.40px;left:249.90px;width:400px;text-align:right;transform:scaleX(0.935);transform-origin:right center;">2.4%</div>
<div class="s" style="top:442.16px;font-size:6.40px;line-height:6.40px;left:277.70px;width:400px;text-align:right;transform:scaleX(0.935);transform-origin:right center;">3.8%</div>
<div class="s" style="top:449.88px;font-size:6.40px;line-height:6.40px;left:392.70px;transform:scaleX(0.935);transform-origin:left center;">Lunski MJ 2020</div>
<div class="s" style="top:449.88px;font-size:6.40px;line-height:6.40px;left:71.10px;width:400px;text-align:right;transform:scaleX(0.935);transform-origin:right center;">0.13</div>
<div class="s" style="top:449.88px;font-size:6.40px;line-height:6.40px;left:93.20px;width:400px;text-align:right;transform:scaleX(0.935);transform-origin:right center;">0.1368</div>
<div class="s" style="top:449.88px;font-size:6.40px;line-height:6.40px;left:194.00px;width:400px;text-align:right;transform:scaleX(0.935);transform-origin:right center;">1.14</div>
<div class="s" style="top:449.88px;font-size:6.40px;line-height:6.40px;left:227.50px;width:400px;text-align:right;transform:scaleX(0.935);transform-origin:right center;">[0.87; 1.49]</div>
<div class="s" style="top:449.88px;font-size:6.40px;line-height:6.40px;left:249.90px;width:400px;text-align:right;transform:scaleX(0.935);transform-origin:right center;">9.6%</div>
<div class="s" style="top:449.88px;font-size:6.40px;line-height:6.40px;left:277.70px;width:400px;text-align:right;transform:scaleX(0.935);transform-origin:right center;">12.1%</div>
<div class="sb" style="top:465.78px;font-size:6.40px;line-height:6.40px;font-weight:bold;left:392.70px;transform:scaleX(0.910);transform-origin:left center;">Fixed effect model</div>
<div class="sb" style="top:473.28px;font-size:6.40px;line-height:6.40px;font-weight:bold;left:392.70px;transform:scaleX(0.910);transform-origin:left center;">Random effects model</div>
<div class="sb" style="top:465.78px;font-size:6.40px;line-height:6.40px;font-weight:bold;left:194.00px;width:400px;text-align:right;transform:scaleX(0.910);transform-origin:right center;">1.31</div>
<div class="sb" style="top:465.78px;font-size:6.40px;line-height:6.40px;font-weight:bold;left:227.50px;width:400px;text-align:right;transform:scaleX(0.910);transform-origin:right center;">[1.20; 1.42]</div>
<div class="sb" style="top:465.78px;font-size:6.40px;line-height:6.40px;font-weight:bold;left:249.90px;width:400px;text-align:right;transform:scaleX(0.910);transform-origin:right center;">100.0%</div>
<div class="sb" style="top:465.78px;font-size:6.40px;line-height:6.40px;font-weight:bold;left:277.70px;width:400px;text-align:right;transform:scaleX(0.910);transform-origin:right center;">--</div>
<div class="sb" style="top:473.28px;font-size:6.40px;line-height:6.40px;font-weight:bold;left:194.00px;width:400px;text-align:right;transform:scaleX(0.910);transform-origin:right center;">1.25</div>
<div class="sb" style="top:473.28px;font-size:6.40px;line-height:6.40px;font-weight:bold;left:227.50px;width:400px;text-align:right;transform:scaleX(0.910);transform-origin:right center;">[1.12; 1.40]</div>
<div class="sb" style="top:473.28px;font-size:6.40px;line-height:6.40px;font-weight:bold;left:249.90px;width:400px;text-align:right;transform:scaleX(0.910);transform-origin:right center;">--</div>
<div class="sb" style="top:473.28px;font-size:6.40px;line-height:6.40px;font-weight:bold;left:277.70px;width:400px;text-align:right;transform:scaleX(0.910);transform-origin:right center;">100.0%</div>
<div class="s" style="top:481.49px;font-size:6.00px;line-height:6.00px;left:392.70px;transform:scaleX(0.888);transform-origin:left center;">Heterogeneity: <i>I</i><sup>2</sup> = 24%, <i>&tau;</i><sup>2</sup> = 0.0074, <i>p</i> = 0.21</div>
<div class="s" style="top:489.28px;font-size:6.40px;line-height:6.40px;left:304.18px;width:400px;text-align:center;transform:scaleX(0.935);transform-origin:center center;">0.5</div>
<div class="s" style="top:489.28px;font-size:6.40px;line-height:6.40px;left:338.05px;width:400px;text-align:center;transform:scaleX(0.935);transform-origin:center center;">1</div>
<div class="s" style="top:489.28px;font-size:6.40px;line-height:6.40px;left:371.92px;width:400px;text-align:center;transform:scaleX(0.935);transform-origin:center center;">2</div>
<div style="top:486.67px;font-size:11.50px;line-height:11.50px;font-style:italic;left:581.60px;transform:scaleX(0.940);transform-origin:left center;">P&lt;0.0001</div>
<div class="L" style="top:501.40px;font-size:15.80px;line-height:15.80px;left:502.70px;transform:scaleX(1.195);transform-origin:left center;">No</div>
<div class="L" style="top:501.40px;font-size:15.80px;line-height:15.80px;left:554.80px;transform:scaleX(0.952);transform-origin:left center;">Yes</div>
<div class="L" style="top:570.80px;font-size:29.00px;line-height:29.00px;left:1.94px;transform:scaleX(0.638);transform-origin:left center;">E</div>
<div class="L" style="top:575.24px;font-size:18.50px;line-height:18.50px;left:31.65px;transform:scaleX(0.930);transform-origin:left center;">COPD</div>
<div class="sb" style="top:611.08px;font-size:6.40px;line-height:6.40px;font-weight:bold;left:31.00px;transform:scaleX(0.910);transform-origin:left center;">Study</div>
<div class="sb" style="top:611.08px;font-size:6.40px;line-height:6.40px;font-weight:bold;left:-291.00px;width:400px;text-align:right;transform:scaleX(0.910);transform-origin:right center;">TE</div>
<div class="sb" style="top:611.08px;font-size:6.40px;line-height:6.40px;font-weight:bold;left:-269.40px;width:400px;text-align:right;transform:scaleX(0.910);transform-origin:right center;">seTE</div>
<div class="sb" style="top:611.08px;font-size:6.40px;line-height:6.40px;font-weight:bold;left:-23.80px;width:400px;text-align:center;transform:scaleX(0.910);transform-origin:center center;">Odds Ratio</div>
<div class="sb" style="top:611.08px;font-size:6.40px;line-height:6.40px;font-weight:bold;left:-167.60px;width:400px;text-align:right;transform:scaleX(0.910);transform-origin:right center;">OR</div>
<div class="sb" style="top:611.08px;font-size:6.40px;line-height:6.40px;font-weight:bold;left:-134.20px;width:400px;text-align:right;transform:scaleX(0.910);transform-origin:right center;">95%-CI</div>
<div class="sb" style="top:602.68px;font-size:6.40px;line-height:6.40px;font-weight:bold;left:-112.20px;width:400px;text-align:right;transform:scaleX(0.910);transform-origin:right center;">Weight</div>
<div class="sb" style="top:611.08px;font-size:6.40px;line-height:6.40px;font-weight:bold;left:-112.20px;width:400px;text-align:right;transform:scaleX(0.910);transform-origin:right center;">(fixed)</div>
<div class="sb" style="top:602.68px;font-size:6.40px;line-height:6.40px;font-weight:bold;left:-83.90px;width:400px;text-align:right;transform:scaleX(0.910);transform-origin:right center;">Weight</div>
<div class="sb" style="top:611.08px;font-size:6.40px;line-height:6.40px;font-weight:bold;left:-83.90px;width:400px;text-align:right;transform:scaleX(0.910);transform-origin:right center;">(random)</div>
<div class="s" style="top:628.68px;font-size:6.40px;line-height:6.40px;left:31.00px;transform:scaleX(0.935);transform-origin:left center;">Lee LYW 2020</div>
<div class="s" style="top:628.68px;font-size:6.40px;line-height:6.40px;left:-291.00px;width:400px;text-align:right;transform:scaleX(0.935);transform-origin:right center;">0.26</div>
<div class="s" style="top:628.68px;font-size:6.40px;line-height:6.40px;left:-269.40px;width:400px;text-align:right;transform:scaleX(0.935);transform-origin:right center;">0.1313</div>
<div class="s" style="top:628.68px;font-size:6.40px;line-height:6.40px;left:-167.60px;width:400px;text-align:right;transform:scaleX(0.935);transform-origin:right center;">1.29</div>
<div class="s" style="top:628.68px;font-size:6.40px;line-height:6.40px;left:-134.20px;width:400px;text-align:right;transform:scaleX(0.935);transform-origin:right center;">[1.00; 1.67]</div>
<div class="s" style="top:628.68px;font-size:6.40px;line-height:6.40px;left:-112.20px;width:400px;text-align:right;transform:scaleX(0.935);transform-origin:right center;">26.5%</div>
<div class="s" style="top:628.68px;font-size:6.40px;line-height:6.40px;left:-83.90px;width:400px;text-align:right;transform:scaleX(0.935);transform-origin:right center;">21.1%</div>
<div class="s" style="top:637.10px;font-size:6.40px;line-height:6.40px;left:31.00px;transform:scaleX(0.935);transform-origin:left center;">Yarza R 2020</div>
<div class="s" style="top:637.10px;font-size:6.40px;line-height:6.40px;left:-291.00px;width:400px;text-align:right;transform:scaleX(0.935);transform-origin:right center;">-0.46</div>
<div class="s" style="top:637.10px;font-size:6.40px;line-height:6.40px;left:-269.40px;width:400px;text-align:right;transform:scaleX(0.935);transform-origin:right center;">0.4207</div>
<div class="s" style="top:637.10px;font-size:6.40px;line-height:6.40px;left:-167.60px;width:400px;text-align:right;transform:scaleX(0.935);transform-origin:right center;">0.63</div>
<div class="s" style="top:637.10px;font-size:6.40px;line-height:6.40px;left:-134.20px;width:400px;text-align:right;transform:scaleX(0.935);transform-origin:right center;">[0.28; 1.45]</div>
<div class="s" style="top:637.10px;font-size:6.40px;line-height:6.40px;left:-112.20px;width:400px;text-align:right;transform:scaleX(0.935);transform-origin:right center;">2.6%</div>
<div class="s" style="top:637.10px;font-size:6.40px;line-height:6.40px;left:-83.90px;width:400px;text-align:right;transform:scaleX(0.935);transform-origin:right center;">4.2%</div>
<div class="s" style="top:645.52px;font-size:6.40px;line-height:6.40px;left:31.00px;transform:scaleX(0.935);transform-origin:left center;">Garassino MC 2020</div>
<div class="s" style="top:645.52px;font-size:6.40px;line-height:6.40px;left:-291.00px;width:400px;text-align:right;transform:scaleX(0.935);transform-origin:right center;">0.07</div>
<div class="s" style="top:645.52px;font-size:6.40px;line-height:6.40px;left:-269.40px;width:400px;text-align:right;transform:scaleX(0.935);transform-origin:right center;">0.1541</div>
<div class="s" style="top:645.52px;font-size:6.40px;line-height:6.40px;left:-167.60px;width:400px;text-align:right;transform:scaleX(0.935);transform-origin:right center;">1.07</div>
<div class="s" style="top:645.52px;font-size:6.40px;line-height:6.40px;left:-134.20px;width:400px;text-align:right;transform:scaleX(0.935);transform-origin:right center;">[0.79; 1.45]</div>
<div class="s" style="top:645.52px;font-size:6.40px;line-height:6.40px;left:-112.20px;width:400px;text-align:right;transform:scaleX(0.935);transform-origin:right center;">19.3%</div>
<div class="s" style="top:645.52px;font-size:6.40px;line-height:6.40px;left:-83.90px;width:400px;text-align:right;transform:scaleX(0.935);transform-origin:right center;">18.1%</div>
<div class="s" style="top:653.94px;font-size:6.40px;line-height:6.40px;left:31.00px;transform:scaleX(0.935);transform-origin:left center;">Liu C 2020</div>
<div class="s" style="top:653.94px;font-size:6.40px;line-height:6.40px;left:-291.00px;width:400px;text-align:right;transform:scaleX(0.935);transform-origin:right center;">0.55</div>
<div class="s" style="top:653.94px;font-size:6.40px;line-height:6.40px;left:-269.40px;width:400px;text-align:right;transform:scaleX(0.935);transform-origin:right center;">0.2139</div>
<div class="s" style="top:653.94px;font-size:6.40px;line-height:6.40px;left:-167.60px;width:400px;text-align:right;transform:scaleX(0.935);transform-origin:right center;">1.73</div>
<div class="s" style="top:653.94px;font-size:6.40px;line-height:6.40px;left:-134.20px;width:400px;text-align:right;transform:scaleX(0.935);transform-origin:right center;">[1.14; 2.63]</div>
<div class="s" style="top:653.94px;font-size:6.40px;line-height:6.40px;left:-112.20px;width:400px;text-align:right;transform:scaleX(0.935);transform-origin:right center;">10.0%</div>
<div class="s" style="top:653.94px;font-size:6.40px;line-height:6.40px;left:-83.90px;width:400px;text-align:right;transform:scaleX(0.935);transform-origin:right center;">12.2%</div>
<div class="s" style="top:662.36px;font-size:6.40px;line-height:6.40px;left:31.00px;transform:scaleX(0.935);transform-origin:left center;">Luo J 2020</div>
<div class="s" style="top:662.36px;font-size:6.40px;line-height:6.40px;left:-291.00px;width:400px;text-align:right;transform:scaleX(0.935);transform-origin:right center;">0.59</div>
<div class="s" style="top:662.36px;font-size:6.40px;line-height:6.40px;left:-269.40px;width:400px;text-align:right;transform:scaleX(0.935);transform-origin:right center;">0.2183</div>
<div class="s" style="top:662.36px;font-size:6.40px;line-height:6.40px;left:-167.60px;width:400px;text-align:right;transform:scaleX(0.935);transform-origin:right center;">1.80</div>
<div class="s" style="top:662.36px;font-size:6.40px;line-height:6.40px;left:-134.20px;width:400px;text-align:right;transform:scaleX(0.935);transform-origin:right center;">[1.17; 2.76]</div>
<div class="s" style="top:662.36px;font-size:6.40px;line-height:6.40px;left:-112.20px;width:400px;text-align:right;transform:scaleX(0.935);transform-origin:right center;">9.6%</div>
<div class="s" style="top:662.36px;font-size:6.40px;line-height:6.40px;left:-83.90px;width:400px;text-align:right;transform:scaleX(0.935);transform-origin:right center;">11.9%</div>
<div class="s" style="top:670.78px;font-size:6.40px;line-height:6.40px;left:31.00px;transform:scaleX(0.935);transform-origin:left center;">Mato AR 2020</div>
<div class="s" style="top:670.78px;font-size:6.40px;line-height:6.40px;left:-291.00px;width:400px;text-align:right;transform:scaleX(0.935);transform-origin:right center;">0.15</div>
<div class="s" style="top:670.78px;font-size:6.40px;line-height:6.40px;left:-269.40px;width:400px;text-align:right;transform:scaleX(0.935);transform-origin:right center;">0.1544</div>
<div class="s" style="top:670.78px;font-size:6.40px;line-height:6.40px;left:-167.60px;width:400px;text-align:right;transform:scaleX(0.935);transform-origin:right center;">1.16</div>
<div class="s" style="top:670.78px;font-size:6.40px;line-height:6.40px;left:-134.20px;width:400px;text-align:right;transform:scaleX(0.935);transform-origin:right center;">[0.86; 1.57]</div>
<div class="s" style="top:670.78px;font-size:6.40px;line-height:6.40px;left:-112.20px;width:400px;text-align:right;transform:scaleX(0.935);transform-origin:right center;">19.2%</div>
<div class="s" style="top:670.78px;font-size:6.40px;line-height:6.40px;left:-83.90px;width:400px;text-align:right;transform:scaleX(0.935);transform-origin:right center;">18.1%</div>
<div class="s" style="top:679.20px;font-size:6.40px;line-height:6.40px;left:31.00px;transform:scaleX(0.935);transform-origin:left center;">Lunski MJ 2020</div>
<div class="s" style="top:679.20px;font-size:6.40px;line-height:6.40px;left:-291.00px;width:400px;text-align:right;transform:scaleX(0.935);transform-origin:right center;">0.03</div>
<div class="s" style="top:679.20px;font-size:6.40px;line-height:6.40px;left:-269.40px;width:400px;text-align:right;transform:scaleX(0.935);transform-origin:right center;">0.1884</div>
<div class="s" style="top:679.20px;font-size:6.40px;line-height:6.40px;left:-167.60px;width:400px;text-align:right;transform:scaleX(0.935);transform-origin:right center;">1.03</div>
<div class="s" style="top:679.20px;font-size:6.40px;line-height:6.40px;left:-134.20px;width:400px;text-align:right;transform:scaleX(0.935);transform-origin:right center;">[0.71; 1.50]</div>
<div class="s" style="top:679.20px;font-size:6.40px;line-height:6.40px;left:-112.20px;width:400px;text-align:right;transform:scaleX(0.935);transform-origin:right center;">12.9%</div>
<div class="s" style="top:679.20px;font-size:6.40px;line-height:6.40px;left:-83.90px;width:400px;text-align:right;transform:scaleX(0.935);transform-origin:right center;">14.4%</div>
<div class="sb" style="top:696.48px;font-size:6.40px;line-height:6.40px;font-weight:bold;left:31.00px;transform:scaleX(0.910);transform-origin:left center;">Fixed effect model</div>
<div class="sb" style="top:704.78px;font-size:6.40px;line-height:6.40px;font-weight:bold;left:31.00px;transform:scaleX(0.910);transform-origin:left center;">Random effects model</div>
<div class="sb" style="top:696.48px;font-size:6.40px;line-height:6.40px;font-weight:bold;left:-167.60px;width:400px;text-align:right;transform:scaleX(0.910);transform-origin:right center;">1.24</div>
<div class="sb" style="top:696.48px;font-size:6.40px;line-height:6.40px;font-weight:bold;left:-134.20px;width:400px;text-align:right;transform:scaleX(0.910);transform-origin:right center;">[1.08; 1.41]</div>
<div class="sb" style="top:696.48px;font-size:6.40px;line-height:6.40px;font-weight:bold;left:-112.20px;width:400px;text-align:right;transform:scaleX(0.910);transform-origin:right center;">100.0%</div>
<div class="sb" style="top:696.48px;font-size:6.40px;line-height:6.40px;font-weight:bold;left:-83.90px;width:400px;text-align:right;transform:scaleX(0.910);transform-origin:right center;">--</div>
<div class="sb" style="top:704.78px;font-size:6.40px;line-height:6.40px;font-weight:bold;left:-167.60px;width:400px;text-align:right;transform:scaleX(0.910);transform-origin:right center;">1.24</div>
<div class="sb" style="top:704.78px;font-size:6.40px;line-height:6.40px;font-weight:bold;left:-134.20px;width:400px;text-align:right;transform:scaleX(0.910);transform-origin:right center;">[1.04; 1.48]</div>
<div class="sb" style="top:704.78px;font-size:6.40px;line-height:6.40px;font-weight:bold;left:-112.20px;width:400px;text-align:right;transform:scaleX(0.910);transform-origin:right center;">--</div>
<div class="sb" style="top:704.78px;font-size:6.40px;line-height:6.40px;font-weight:bold;left:-83.90px;width:400px;text-align:right;transform:scaleX(0.910);transform-origin:right center;">100.0%</div>
<div class="s" style="top:713.99px;font-size:6.00px;line-height:6.00px;left:31.00px;transform:scaleX(0.888);transform-origin:left center;">Heterogeneity: <i>I</i><sup>2</sup> = 40%, <i>&tau;</i><sup>2</sup> = 0.0220, <i>p</i> = 0.13</div>
<div class="s" style="top:721.78px;font-size:6.40px;line-height:6.40px;left:-46.50px;width:400px;text-align:center;transform:scaleX(0.935);transform-origin:center center;">0.5</div>
<div class="s" style="top:721.78px;font-size:6.40px;line-height:6.40px;left:-23.80px;width:400px;text-align:center;transform:scaleX(0.935);transform-origin:center center;">1</div>
<div class="s" style="top:721.78px;font-size:6.40px;line-height:6.40px;left:-1.10px;width:400px;text-align:center;transform:scaleX(0.935);transform-origin:center center;">2</div>
<div style="top:720.02px;font-size:11.50px;line-height:11.50px;font-style:italic;left:218.20px;transform:scaleX(0.940);transform-origin:left center;">P=0.0016</div>
<div class="L" style="top:734.90px;font-size:15.80px;line-height:15.80px;left:140.10px;transform:scaleX(1.205);transform-origin:left center;">No</div>
<div class="L" style="top:734.90px;font-size:15.80px;line-height:15.80px;left:192.40px;transform:scaleX(0.956);transform-origin:left center;">Yes</div>
<div class="L" style="top:567.10px;font-size:29.00px;line-height:29.00px;left:365.33px;transform:scaleX(0.669);transform-origin:left center;">F</div>
<div class="L" style="top:575.84px;font-size:18.50px;line-height:18.50px;left:392.10px;transform:scaleX(0.975);transform-origin:left center;">Cardiovascular disease</div>
<div class="sb" style="top:608.08px;font-size:6.40px;line-height:6.40px;font-weight:bold;left:393.90px;transform:scaleX(0.910);transform-origin:left center;">Study</div>
<div class="sb" style="top:608.08px;font-size:6.40px;line-height:6.40px;font-weight:bold;left:70.30px;width:400px;text-align:right;transform:scaleX(0.910);transform-origin:right center;">TE</div>
<div class="sb" style="top:608.08px;font-size:6.40px;line-height:6.40px;font-weight:bold;left:91.90px;width:400px;text-align:right;transform:scaleX(0.910);transform-origin:right center;">seTE</div>
<div class="sb" style="top:608.08px;font-size:6.40px;line-height:6.40px;font-weight:bold;left:337.20px;width:400px;text-align:center;transform:scaleX(0.910);transform-origin:center center;">Odds Ratio</div>
<div class="sb" style="top:608.08px;font-size:6.40px;line-height:6.40px;font-weight:bold;left:193.20px;width:400px;text-align:right;transform:scaleX(0.910);transform-origin:right center;">OR</div>
<div class="sb" style="top:608.08px;font-size:6.40px;line-height:6.40px;font-weight:bold;left:226.40px;width:400px;text-align:right;transform:scaleX(0.910);transform-origin:right center;">95%-CI</div>
<div class="sb" style="top:599.88px;font-size:6.40px;line-height:6.40px;font-weight:bold;left:249.30px;width:400px;text-align:right;transform:scaleX(0.910);transform-origin:right center;">Weight</div>
<div class="sb" style="top:608.08px;font-size:6.40px;line-height:6.40px;font-weight:bold;left:249.30px;width:400px;text-align:right;transform:scaleX(0.910);transform-origin:right center;">(fixed)</div>
<div class="sb" style="top:599.88px;font-size:6.40px;line-height:6.40px;font-weight:bold;left:276.90px;width:400px;text-align:right;transform:scaleX(0.910);transform-origin:right center;">Weight</div>
<div class="sb" style="top:608.08px;font-size:6.40px;line-height:6.40px;font-weight:bold;left:276.90px;width:400px;text-align:right;transform:scaleX(0.910);transform-origin:right center;">(random)</div>
<div class="s" style="top:622.48px;font-size:6.40px;line-height:6.40px;left:393.90px;transform:scaleX(0.935);transform-origin:left center;">Lee LYW 2020</div>
<div class="s" style="top:622.48px;font-size:6.40px;line-height:6.40px;left:70.30px;width:400px;text-align:right;transform:scaleX(0.935);transform-origin:right center;">0.37</div>
<div class="s" style="top:622.48px;font-size:6.40px;line-height:6.40px;left:91.90px;width:400px;text-align:right;transform:scaleX(0.935);transform-origin:right center;">0.1005</div>
<div class="s" style="top:622.48px;font-size:6.40px;line-height:6.40px;left:193.20px;width:400px;text-align:right;transform:scaleX(0.935);transform-origin:right center;">1.44</div>
<div class="s" style="top:622.48px;font-size:6.40px;line-height:6.40px;left:226.40px;width:400px;text-align:right;transform:scaleX(0.935);transform-origin:right center;">[1.18; 1.75]</div>
<div class="s" style="top:622.48px;font-size:6.40px;line-height:6.40px;left:249.30px;width:400px;text-align:right;transform:scaleX(0.935);transform-origin:right center;">56.1%</div>
<div class="s" style="top:622.48px;font-size:6.40px;line-height:6.40px;left:276.90px;width:400px;text-align:right;transform:scaleX(0.935);transform-origin:right center;">56.1%</div>
<div class="s" style="top:630.03px;font-size:6.40px;line-height:6.40px;left:393.90px;transform:scaleX(0.935);transform-origin:left center;">Liu C 2020</div>
<div class="s" style="top:630.03px;font-size:6.40px;line-height:6.40px;left:70.30px;width:400px;text-align:right;transform:scaleX(0.935);transform-origin:right center;">0.27</div>
<div class="s" style="top:630.03px;font-size:6.40px;line-height:6.40px;left:91.90px;width:400px;text-align:right;transform:scaleX(0.935);transform-origin:right center;">0.2095</div>
<div class="s" style="top:630.03px;font-size:6.40px;line-height:6.40px;left:193.20px;width:400px;text-align:right;transform:scaleX(0.935);transform-origin:right center;">1.31</div>
<div class="s" style="top:630.03px;font-size:6.40px;line-height:6.40px;left:226.40px;width:400px;text-align:right;transform:scaleX(0.935);transform-origin:right center;">[0.87; 1.97]</div>
<div class="s" style="top:630.03px;font-size:6.40px;line-height:6.40px;left:249.30px;width:400px;text-align:right;transform:scaleX(0.935);transform-origin:right center;">12.9%</div>
<div class="s" style="top:630.03px;font-size:6.40px;line-height:6.40px;left:276.90px;width:400px;text-align:right;transform:scaleX(0.935);transform-origin:right center;">12.9%</div>
<div class="s" style="top:637.58px;font-size:6.40px;line-height:6.40px;left:393.90px;transform:scaleX(0.935);transform-origin:left center;">Mato AR 2020</div>
<div class="s" style="top:637.58px;font-size:6.40px;line-height:6.40px;left:70.30px;width:400px;text-align:right;transform:scaleX(0.935);transform-origin:right center;">0.11</div>
<div class="s" style="top:637.58px;font-size:6.40px;line-height:6.40px;left:91.90px;width:400px;text-align:right;transform:scaleX(0.935);transform-origin:right center;">0.1595</div>
<div class="s" style="top:637.58px;font-size:6.40px;line-height:6.40px;left:193.20px;width:400px;text-align:right;transform:scaleX(0.935);transform-origin:right center;">1.12</div>
<div class="s" style="top:637.58px;font-size:6.40px;line-height:6.40px;left:226.40px;width:400px;text-align:right;transform:scaleX(0.935);transform-origin:right center;">[0.82; 1.53]</div>
<div class="s" style="top:637.58px;font-size:6.40px;line-height:6.40px;left:249.30px;width:400px;text-align:right;transform:scaleX(0.935);transform-origin:right center;">22.2%</div>
<div class="s" style="top:637.58px;font-size:6.40px;line-height:6.40px;left:276.90px;width:400px;text-align:right;transform:scaleX(0.935);transform-origin:right center;">22.2%</div>
<div class="s" style="top:645.13px;font-size:6.40px;line-height:6.40px;left:393.90px;transform:scaleX(0.935);transform-origin:left center;">Wang BO 2020</div>
<div class="s" style="top:645.13px;font-size:6.40px;line-height:6.40px;left:70.30px;width:400px;text-align:right;transform:scaleX(0.935);transform-origin:right center;">0.40</div>
<div class="s" style="top:645.13px;font-size:6.40px;line-height:6.40px;left:91.90px;width:400px;text-align:right;transform:scaleX(0.935);transform-origin:right center;">0.3783</div>
<div class="s" style="top:645.13px;font-size:6.40px;line-height:6.40px;left:193.20px;width:400px;text-align:right;transform:scaleX(0.935);transform-origin:right center;">1.49</div>
<div class="s" style="top:645.13px;font-size:6.40px;line-height:6.40px;left:226.40px;width:400px;text-align:right;transform:scaleX(0.935);transform-origin:right center;">[0.71; 3.12]</div>
<div class="s" style="top:645.13px;font-size:6.40px;line-height:6.40px;left:249.30px;width:400px;text-align:right;transform:scaleX(0.935);transform-origin:right center;">4.0%</div>
<div class="s" style="top:645.13px;font-size:6.40px;line-height:6.40px;left:276.90px;width:400px;text-align:right;transform:scaleX(0.935);transform-origin:right center;">4.0%</div>
<div class="s" style="top:652.68px;font-size:6.40px;line-height:6.40px;left:393.90px;transform:scaleX(0.935);transform-origin:left center;">Nakamura S 2020</div>
<div class="s" style="top:652.68px;font-size:6.40px;line-height:6.40px;left:70.30px;width:400px;text-align:right;transform:scaleX(0.935);transform-origin:right center;">0.15</div>
<div class="s" style="top:652.68px;font-size:6.40px;line-height:6.40px;left:91.90px;width:400px;text-align:right;transform:scaleX(0.935);transform-origin:right center;">0.3414</div>
<div class="s" style="top:652.68px;font-size:6.40px;line-height:6.40px;left:193.20px;width:400px;text-align:right;transform:scaleX(0.935);transform-origin:right center;">1.16</div>
<div class="s" style="top:652.68px;font-size:6.40px;line-height:6.40px;left:226.40px;width:400px;text-align:right;transform:scaleX(0.935);transform-origin:right center;">[0.59; 2.27]</div>
<div class="s" style="top:652.68px;font-size:6.40px;line-height:6.40px;left:249.30px;width:400px;text-align:right;transform:scaleX(0.935);transform-origin:right center;">4.9%</div>
<div class="s" style="top:652.68px;font-size:6.40px;line-height:6.40px;left:276.90px;width:400px;text-align:right;transform:scaleX(0.935);transform-origin:right center;">4.9%</div>
<div class="sb" style="top:667.58px;font-size:6.40px;line-height:6.40px;font-weight:bold;left:393.90px;transform:scaleX(0.910);transform-origin:left center;">Fixed effect model</div>
<div class="sb" style="top:675.18px;font-size:6.40px;line-height:6.40px;font-weight:bold;left:393.90px;transform:scaleX(0.910);transform-origin:left center;">Random effects model</div>
<div class="sb" style="top:667.58px;font-size:6.40px;line-height:6.40px;font-weight:bold;left:193.20px;width:400px;text-align:right;transform:scaleX(0.910);transform-origin:right center;">1.33</div>
<div class="sb" style="top:667.58px;font-size:6.40px;line-height:6.40px;font-weight:bold;left:226.40px;width:400px;text-align:right;transform:scaleX(0.910);transform-origin:right center;">[1.15; 1.55]</div>
<div class="sb" style="top:667.58px;font-size:6.40px;line-height:6.40px;font-weight:bold;left:249.30px;width:400px;text-align:right;transform:scaleX(0.910);transform-origin:right center;">100.0%</div>
<div class="sb" style="top:667.58px;font-size:6.40px;line-height:6.40px;font-weight:bold;left:276.90px;width:400px;text-align:right;transform:scaleX(0.910);transform-origin:right center;">--</div>
<div class="sb" style="top:675.18px;font-size:6.40px;line-height:6.40px;font-weight:bold;left:193.20px;width:400px;text-align:right;transform:scaleX(0.910);transform-origin:right center;">1.33</div>
<div class="sb" style="top:675.18px;font-size:6.40px;line-height:6.40px;font-weight:bold;left:226.40px;width:400px;text-align:right;transform:scaleX(0.910);transform-origin:right center;">[1.15; 1.55]</div>
<div class="sb" style="top:675.18px;font-size:6.40px;line-height:6.40px;font-weight:bold;left:249.30px;width:400px;text-align:right;transform:scaleX(0.910);transform-origin:right center;">--</div>
<div class="sb" style="top:675.18px;font-size:6.40px;line-height:6.40px;font-weight:bold;left:276.90px;width:400px;text-align:right;transform:scaleX(0.910);transform-origin:right center;">100.0%</div>
<div class="s" style="top:683.08px;font-size:6.00px;line-height:6.00px;left:393.90px;transform:scaleX(0.888);transform-origin:left center;">Heterogeneity: <i>I</i><sup>2</sup> = 0%, <i>&tau;</i><sup>2</sup> = 0, <i>p</i> = 0.73</div>
<div class="s" style="top:690.48px;font-size:6.40px;line-height:6.40px;left:311.85px;width:400px;text-align:center;transform:scaleX(0.935);transform-origin:center center;">0.5</div>
<div class="s" style="top:690.48px;font-size:6.40px;line-height:6.40px;left:337.20px;width:400px;text-align:center;transform:scaleX(0.935);transform-origin:center center;">1</div>
<div class="s" style="top:690.48px;font-size:6.40px;line-height:6.40px;left:362.55px;width:400px;text-align:center;transform:scaleX(0.935);transform-origin:center center;">2</div>
<div style="top:687.97px;font-size:11.50px;line-height:11.50px;font-style:italic;left:581.60px;transform:scaleX(0.940);transform-origin:left center;">P=0.0001</div>
<div class="L" style="top:703.60px;font-size:15.80px;line-height:15.80px;left:504.10px;transform:scaleX(1.195);transform-origin:left center;">No</div>
<div class="L" style="top:703.60px;font-size:15.80px;line-height:15.80px;left:554.80px;transform:scaleX(1.038);transform-origin:left center;">Yes</div>
<div class="L" style="top:774.60px;font-size:29.00px;line-height:29.00px;left:0.65px;transform:scaleX(0.870);transform-origin:left center;">G</div>
<div class="L" style="top:781.04px;font-size:18.50px;line-height:18.50px;left:34.40px;transform:scaleX(1.020);transform-origin:left center;">Smoking</div>
<div class="sb" style="top:815.08px;font-size:6.40px;line-height:6.40px;font-weight:bold;left:31.00px;transform:scaleX(0.910);transform-origin:left center;">Study</div>
<div class="sb" style="top:815.08px;font-size:6.40px;line-height:6.40px;font-weight:bold;left:-291.00px;width:400px;text-align:right;transform:scaleX(0.910);transform-origin:right center;">TE</div>
<div class="sb" style="top:815.08px;font-size:6.40px;line-height:6.40px;font-weight:bold;left:-269.40px;width:400px;text-align:right;transform:scaleX(0.910);transform-origin:right center;">seTE</div>
<div class="sb" style="top:815.08px;font-size:6.40px;line-height:6.40px;font-weight:bold;left:-24.00px;width:400px;text-align:center;transform:scaleX(0.910);transform-origin:center center;">Odds Ratio</div>
<div class="sb" style="top:815.08px;font-size:6.40px;line-height:6.40px;font-weight:bold;left:-167.80px;width:400px;text-align:right;transform:scaleX(0.910);transform-origin:right center;">OR</div>
<div class="sb" style="top:815.08px;font-size:6.40px;line-height:6.40px;font-weight:bold;left:-134.20px;width:400px;text-align:right;transform:scaleX(0.910);transform-origin:right center;">95%-CI</div>
<div class="sb" style="top:806.48px;font-size:6.40px;line-height:6.40px;font-weight:bold;left:-112.30px;width:400px;text-align:right;transform:scaleX(0.910);transform-origin:right center;">Weight</div>
<div class="sb" style="top:815.08px;font-size:6.40px;line-height:6.40px;font-weight:bold;left:-112.30px;width:400px;text-align:right;transform:scaleX(0.910);transform-origin:right center;">(fixed)</div>
<div class="sb" style="top:806.48px;font-size:6.40px;line-height:6.40px;font-weight:bold;left:-84.00px;width:400px;text-align:right;transform:scaleX(0.910);transform-origin:right center;">Weight</div>
<div class="sb" style="top:815.08px;font-size:6.40px;line-height:6.40px;font-weight:bold;left:-84.00px;width:400px;text-align:right;transform:scaleX(0.910);transform-origin:right center;">(random)</div>
<div class="s" style="top:831.98px;font-size:6.40px;line-height:6.40px;left:31.00px;transform:scaleX(0.935);transform-origin:left center;">Kuderer NM 2020</div>
<div class="s" style="top:831.98px;font-size:6.40px;line-height:6.40px;left:-291.00px;width:400px;text-align:right;transform:scaleX(0.935);transform-origin:right center;">0.20</div>
<div class="s" style="top:831.98px;font-size:6.40px;line-height:6.40px;left:-269.40px;width:400px;text-align:right;transform:scaleX(0.935);transform-origin:right center;">0.0969</div>
<div class="s" style="top:831.98px;font-size:6.40px;line-height:6.40px;left:-167.80px;width:400px;text-align:right;transform:scaleX(0.935);transform-origin:right center;">1.23</div>
<div class="s" style="top:831.98px;font-size:6.40px;line-height:6.40px;left:-134.20px;width:400px;text-align:right;transform:scaleX(0.935);transform-origin:right center;">[1.01; 1.48]</div>
<div class="s" style="top:831.98px;font-size:6.40px;line-height:6.40px;left:-112.30px;width:400px;text-align:right;transform:scaleX(0.935);transform-origin:right center;">0.5%</div>
<div class="s" style="top:831.98px;font-size:6.40px;line-height:6.40px;left:-84.00px;width:400px;text-align:right;transform:scaleX(0.935);transform-origin:right center;">9.4%</div>
<div class="s" style="top:840.20px;font-size:6.40px;line-height:6.40px;left:31.00px;transform:scaleX(0.935);transform-origin:left center;">Li Q 2020</div>
<div class="s" style="top:840.20px;font-size:6.40px;line-height:6.40px;left:-291.00px;width:400px;text-align:right;transform:scaleX(0.935);transform-origin:right center;">0.37</div>
<div class="s" style="top:840.20px;font-size:6.40px;line-height:6.40px;left:-269.40px;width:400px;text-align:right;transform:scaleX(0.935);transform-origin:right center;">0.0947</div>
<div class="s" style="top:840.20px;font-size:6.40px;line-height:6.40px;left:-167.80px;width:400px;text-align:right;transform:scaleX(0.935);transform-origin:right center;">1.45</div>
<div class="s" style="top:840.20px;font-size:6.40px;line-height:6.40px;left:-134.20px;width:400px;text-align:right;transform:scaleX(0.935);transform-origin:right center;">[1.21; 1.75]</div>
<div class="s" style="top:840.20px;font-size:6.40px;line-height:6.40px;left:-112.30px;width:400px;text-align:right;transform:scaleX(0.935);transform-origin:right center;">0.5%</div>
<div class="s" style="top:840.20px;font-size:6.40px;line-height:6.40px;left:-84.00px;width:400px;text-align:right;transform:scaleX(0.935);transform-origin:right center;">9.5%</div>
<div class="s" style="top:848.41px;font-size:6.40px;line-height:6.40px;left:31.00px;transform:scaleX(0.935);transform-origin:left center;">Garassino MC 2020</div>
<div class="s" style="top:848.41px;font-size:6.40px;line-height:6.40px;left:-291.00px;width:400px;text-align:right;transform:scaleX(0.935);transform-origin:right center;">0.50</div>
<div class="s" style="top:848.41px;font-size:6.40px;line-height:6.40px;left:-269.40px;width:400px;text-align:right;transform:scaleX(0.935);transform-origin:right center;">0.2326</div>
<div class="s" style="top:848.41px;font-size:6.40px;line-height:6.40px;left:-167.80px;width:400px;text-align:right;transform:scaleX(0.935);transform-origin:right center;">1.65</div>
<div class="s" style="top:848.41px;font-size:6.40px;line-height:6.40px;left:-134.20px;width:400px;text-align:right;transform:scaleX(0.935);transform-origin:right center;">[1.05; 2.61]</div>
<div class="s" style="top:848.41px;font-size:6.40px;line-height:6.40px;left:-112.30px;width:400px;text-align:right;transform:scaleX(0.935);transform-origin:right center;">0.1%</div>
<div class="s" style="top:848.41px;font-size:6.40px;line-height:6.40px;left:-84.00px;width:400px;text-align:right;transform:scaleX(0.935);transform-origin:right center;">4.7%</div>
<div class="s" style="top:856.63px;font-size:6.40px;line-height:6.40px;left:31.00px;transform:scaleX(0.935);transform-origin:left center;">Lara OD 2020</div>
<div class="s" style="top:856.63px;font-size:6.40px;line-height:6.40px;left:-291.00px;width:400px;text-align:right;transform:scaleX(0.935);transform-origin:right center;">0.25</div>
<div class="s" style="top:856.63px;font-size:6.40px;line-height:6.40px;left:-269.40px;width:400px;text-align:right;transform:scaleX(0.935);transform-origin:right center;">0.1983</div>
<div class="s" style="top:856.63px;font-size:6.40px;line-height:6.40px;left:-167.80px;width:400px;text-align:right;transform:scaleX(0.935);transform-origin:right center;">1.29</div>
<div class="s" style="top:856.63px;font-size:6.40px;line-height:6.40px;left:-134.20px;width:400px;text-align:right;transform:scaleX(0.935);transform-origin:right center;">[0.87; 1.90]</div>
<div class="s" style="top:856.63px;font-size:6.40px;line-height:6.40px;left:-112.30px;width:400px;text-align:right;transform:scaleX(0.935);transform-origin:right center;">0.1%</div>
<div class="s" style="top:856.63px;font-size:6.40px;line-height:6.40px;left:-84.00px;width:400px;text-align:right;transform:scaleX(0.935);transform-origin:right center;">5.6%</div>
<div class="s" style="top:864.84px;font-size:6.40px;line-height:6.40px;left:31.00px;transform:scaleX(0.935);transform-origin:left center;">Liu C 2020</div>
<div class="s" style="top:864.84px;font-size:6.40px;line-height:6.40px;left:-291.00px;width:400px;text-align:right;transform:scaleX(0.935);transform-origin:right center;">0.27</div>
<div class="s" style="top:864.84px;font-size:6.40px;line-height:6.40px;left:-269.40px;width:400px;text-align:right;transform:scaleX(0.935);transform-origin:right center;">0.1648</div>
<div class="s" style="top:864.84px;font-size:6.40px;line-height:6.40px;left:-167.80px;width:400px;text-align:right;transform:scaleX(0.935);transform-origin:right center;">1.31</div>
<div class="s" style="top:864.84px;font-size:6.40px;line-height:6.40px;left:-134.20px;width:400px;text-align:right;transform:scaleX(0.935);transform-origin:right center;">[0.95; 1.81]</div>
<div class="s" style="top:864.84px;font-size:6.40px;line-height:6.40px;left:-112.30px;width:400px;text-align:right;transform:scaleX(0.935);transform-origin:right center;">0.2%</div>
<div class="s" style="top:864.84px;font-size:6.40px;line-height:6.40px;left:-84.00px;width:400px;text-align:right;transform:scaleX(0.935);transform-origin:right center;">6.7%</div>
<div class="s" style="top:873.06px;font-size:6.40px;line-height:6.40px;left:31.00px;transform:scaleX(0.935);transform-origin:left center;">Luo J 2020</div>
<div class="s" style="top:873.06px;font-size:6.40px;line-height:6.40px;left:-291.00px;width:400px;text-align:right;transform:scaleX(0.935);transform-origin:right center;">0.46</div>
<div class="s" style="top:873.06px;font-size:6.40px;line-height:6.40px;left:-269.40px;width:400px;text-align:right;transform:scaleX(0.935);transform-origin:right center;">0.2412</div>
<div class="s" style="top:873.06px;font-size:6.40px;line-height:6.40px;left:-167.80px;width:400px;text-align:right;transform:scaleX(0.935);transform-origin:right center;">1.59</div>
<div class="s" style="top:873.06px;font-size:6.40px;line-height:6.40px;left:-134.20px;width:400px;text-align:right;transform:scaleX(0.935);transform-origin:right center;">[0.99; 2.55]</div>
<div class="s" style="top:873.06px;font-size:6.40px;line-height:6.40px;left:-112.30px;width:400px;text-align:right;transform:scaleX(0.935);transform-origin:right center;">0.1%</div>
<div class="s" style="top:873.06px;font-size:6.40px;line-height:6.40px;left:-84.00px;width:400px;text-align:right;transform:scaleX(0.935);transform-origin:right center;">4.4%</div>
<div class="s" style="top:881.27px;font-size:6.40px;line-height:6.40px;left:31.00px;transform:scaleX(0.935);transform-origin:left center;">Mato AR 2020</div>
<div class="s" style="top:881.27px;font-size:6.40px;line-height:6.40px;left:-291.00px;width:400px;text-align:right;transform:scaleX(0.935);transform-origin:right center;">0.36</div>
<div class="s" style="top:881.27px;font-size:6.40px;line-height:6.40px;left:-269.40px;width:400px;text-align:right;transform:scaleX(0.935);transform-origin:right center;">0.1677</div>
<div class="s" style="top:881.27px;font-size:6.40px;line-height:6.40px;left:-167.80px;width:400px;text-align:right;transform:scaleX(0.935);transform-origin:right center;">1.44</div>
<div class="s" style="top:881.27px;font-size:6.40px;line-height:6.40px;left:-134.20px;width:400px;text-align:right;transform:scaleX(0.935);transform-origin:right center;">[1.03; 1.99]</div>
<div class="s" style="top:881.27px;font-size:6.40px;line-height:6.40px;left:-112.30px;width:400px;text-align:right;transform:scaleX(0.935);transform-origin:right center;">0.2%</div>
<div class="s" style="top:881.27px;font-size:6.40px;line-height:6.40px;left:-84.00px;width:400px;text-align:right;transform:scaleX(0.935);transform-origin:right center;">6.6%</div>
<div class="s" style="top:889.49px;font-size:6.40px;line-height:6.40px;left:31.00px;transform:scaleX(0.935);transform-origin:left center;">Russell B 2020</div>
<div class="s" style="top:889.49px;font-size:6.40px;line-height:6.40px;left:-291.00px;width:400px;text-align:right;transform:scaleX(0.935);transform-origin:right center;">0.00</div>
<div class="s" style="top:889.49px;font-size:6.40px;line-height:6.40px;left:-269.40px;width:400px;text-align:right;transform:scaleX(0.935);transform-origin:right center;">0.0066</div>
<div class="s" style="top:889.49px;font-size:6.40px;line-height:6.40px;left:-167.80px;width:400px;text-align:right;transform:scaleX(0.935);transform-origin:right center;">1.00</div>
<div class="s" style="top:889.49px;font-size:6.40px;line-height:6.40px;left:-134.20px;width:400px;text-align:right;transform:scaleX(0.935);transform-origin:right center;">[0.99; 1.01]</div>
<div class="s" style="top:889.49px;font-size:6.40px;line-height:6.40px;left:-112.30px;width:400px;text-align:right;transform:scaleX(0.935);transform-origin:right center;">96.5%</div>
<div class="s" style="top:889.49px;font-size:6.40px;line-height:6.40px;left:-84.00px;width:400px;text-align:right;transform:scaleX(0.935);transform-origin:right center;">12.0%</div>
<div class="s" style="top:897.70px;font-size:6.40px;line-height:6.40px;left:31.00px;transform:scaleX(0.935);transform-origin:left center;">Wang BO 2020</div>
<div class="s" style="top:897.70px;font-size:6.40px;line-height:6.40px;left:-291.00px;width:400px;text-align:right;transform:scaleX(0.935);transform-origin:right center;">0.31</div>
<div class="s" style="top:897.70px;font-size:6.40px;line-height:6.40px;left:-269.40px;width:400px;text-align:right;transform:scaleX(0.935);transform-origin:right center;">0.3126</div>
<div class="s" style="top:897.70px;font-size:6.40px;line-height:6.40px;left:-167.80px;width:400px;text-align:right;transform:scaleX(0.935);transform-origin:right center;">1.36</div>
<div class="s" style="top:897.70px;font-size:6.40px;line-height:6.40px;left:-134.20px;width:400px;text-align:right;transform:scaleX(0.935);transform-origin:right center;">[0.74; 2.52]</div>
<div class="s" style="top:897.70px;font-size:6.40px;line-height:6.40px;left:-112.30px;width:400px;text-align:right;transform:scaleX(0.935);transform-origin:right center;">0.0%</div>
<div class="s" style="top:897.70px;font-size:6.40px;line-height:6.40px;left:-84.00px;width:400px;text-align:right;transform:scaleX(0.935);transform-origin:right center;">3.1%</div>
<div class="s" style="top:905.92px;font-size:6.40px;line-height:6.40px;left:31.00px;transform:scaleX(0.935);transform-origin:left center;">Albiges L 2020</div>
<div class="s" style="top:905.92px;font-size:6.40px;line-height:6.40px;left:-291.00px;width:400px;text-align:right;transform:scaleX(0.935);transform-origin:right center;">0.44</div>
<div class="s" style="top:905.92px;font-size:6.40px;line-height:6.40px;left:-269.40px;width:400px;text-align:right;transform:scaleX(0.935);transform-origin:right center;">0.1735</div>
<div class="s" style="top:905.92px;font-size:6.40px;line-height:6.40px;left:-167.80px;width:400px;text-align:right;transform:scaleX(0.935);transform-origin:right center;">1.56</div>
<div class="s" style="top:905.92px;font-size:6.40px;line-height:6.40px;left:-134.20px;width:400px;text-align:right;transform:scaleX(0.935);transform-origin:right center;">[1.11; 2.19]</div>
<div class="s" style="top:905.92px;font-size:6.40px;line-height:6.40px;left:-112.30px;width:400px;text-align:right;transform:scaleX(0.935);transform-origin:right center;">0.1%</div>
<div class="s" style="top:905.92px;font-size:6.40px;line-height:6.40px;left:-84.00px;width:400px;text-align:right;transform:scaleX(0.935);transform-origin:right center;">6.4%</div>
<div class="s" style="top:914.13px;font-size:6.40px;line-height:6.40px;left:31.00px;transform:scaleX(0.935);transform-origin:left center;">Nakamura S 2020</div>
<div class="s" style="top:914.13px;font-size:6.40px;line-height:6.40px;left:-291.00px;width:400px;text-align:right;transform:scaleX(0.935);transform-origin:right center;">-0.26</div>
<div class="s" style="top:914.13px;font-size:6.40px;line-height:6.40px;left:-269.40px;width:400px;text-align:right;transform:scaleX(0.935);transform-origin:right center;">0.2847</div>
<div class="s" style="top:914.13px;font-size:6.40px;line-height:6.40px;left:-167.80px;width:400px;text-align:right;transform:scaleX(0.935);transform-origin:right center;">0.77</div>
<div class="s" style="top:914.13px;font-size:6.40px;line-height:6.40px;left:-134.20px;width:400px;text-align:right;transform:scaleX(0.935);transform-origin:right center;">[0.44; 1.35]</div>
<div class="s" style="top:914.13px;font-size:6.40px;line-height:6.40px;left:-112.30px;width:400px;text-align:right;transform:scaleX(0.935);transform-origin:right center;">0.1%</div>
<div class="s" style="top:914.13px;font-size:6.40px;line-height:6.40px;left:-84.00px;width:400px;text-align:right;transform:scaleX(0.935);transform-origin:right center;">3.6%</div>
<div class="s" style="top:922.35px;font-size:6.40px;line-height:6.40px;left:31.00px;transform:scaleX(0.935);transform-origin:left center;">Lunski MJ 2020</div>
<div class="s" style="top:922.35px;font-size:6.40px;line-height:6.40px;left:-291.00px;width:400px;text-align:right;transform:scaleX(0.935);transform-origin:right center;">0.57</div>
<div class="s" style="top:922.35px;font-size:6.40px;line-height:6.40px;left:-269.40px;width:400px;text-align:right;transform:scaleX(0.935);transform-origin:right center;">0.1456</div>
<div class="s" style="top:922.35px;font-size:6.40px;line-height:6.40px;left:-167.80px;width:400px;text-align:right;transform:scaleX(0.935);transform-origin:right center;">1.78</div>
<div class="s" style="top:922.35px;font-size:6.40px;line-height:6.40px;left:-134.20px;width:400px;text-align:right;transform:scaleX(0.935);transform-origin:right center;">[1.33; 2.36]</div>
<div class="s" style="top:922.35px;font-size:6.40px;line-height:6.40px;left:-112.30px;width:400px;text-align:right;transform:scaleX(0.935);transform-origin:right center;">0.2%</div>
<div class="s" style="top:922.35px;font-size:6.40px;line-height:6.40px;left:-84.00px;width:400px;text-align:right;transform:scaleX(0.935);transform-origin:right center;">7.4%</div>
<div class="s" style="top:930.56px;font-size:6.40px;line-height:6.40px;left:31.00px;transform:scaleX(0.935);transform-origin:left center;">Hanna GJ 2020</div>
<div class="s" style="top:930.56px;font-size:6.40px;line-height:6.40px;left:-291.00px;width:400px;text-align:right;transform:scaleX(0.935);transform-origin:right center;">0.15</div>
<div class="s" style="top:930.56px;font-size:6.40px;line-height:6.40px;left:-269.40px;width:400px;text-align:right;transform:scaleX(0.935);transform-origin:right center;">0.0660</div>
<div class="s" style="top:930.56px;font-size:6.40px;line-height:6.40px;left:-167.80px;width:400px;text-align:right;transform:scaleX(0.935);transform-origin:right center;">1.16</div>
<div class="s" style="top:930.56px;font-size:6.40px;line-height:6.40px;left:-134.20px;width:400px;text-align:right;transform:scaleX(0.935);transform-origin:right center;">[1.02; 1.32]</div>
<div class="s" style="top:930.56px;font-size:6.40px;line-height:6.40px;left:-112.30px;width:400px;text-align:right;transform:scaleX(0.935);transform-origin:right center;">1.0%</div>
<div class="s" style="top:930.56px;font-size:6.40px;line-height:6.40px;left:-84.00px;width:400px;text-align:right;transform:scaleX(0.935);transform-origin:right center;">10.7%</div>
<div class="s" style="top:938.78px;font-size:6.40px;line-height:6.40px;left:31.00px;transform:scaleX(0.935);transform-origin:left center;">Lieˋvre A 2020</div>
<div class="s" style="top:938.78px;font-size:6.40px;line-height:6.40px;left:-291.00px;width:400px;text-align:right;transform:scaleX(0.935);transform-origin:right center;">0.15</div>
<div class="s" style="top:938.78px;font-size:6.40px;line-height:6.40px;left:-269.40px;width:400px;text-align:right;transform:scaleX(0.935);transform-origin:right center;">0.0868</div>
<div class="s" style="top:938.78px;font-size:6.40px;line-height:6.40px;left:-167.80px;width:400px;text-align:right;transform:scaleX(0.935);transform-origin:right center;">1.16</div>
<div class="s" style="top:938.78px;font-size:6.40px;line-height:6.40px;left:-134.20px;width:400px;text-align:right;transform:scaleX(0.935);transform-origin:right center;">[0.98; 1.38]</div>
<div class="s" style="top:938.78px;font-size:6.40px;line-height:6.40px;left:-112.30px;width:400px;text-align:right;transform:scaleX(0.935);transform-origin:right center;">0.6%</div>
<div class="s" style="top:938.78px;font-size:6.40px;line-height:6.40px;left:-84.00px;width:400px;text-align:right;transform:scaleX(0.935);transform-origin:right center;">9.9%</div>
<div class="sb" style="top:955.28px;font-size:6.40px;line-height:6.40px;font-weight:bold;left:31.00px;transform:scaleX(0.910);transform-origin:left center;">Fixed effect model</div>
<div class="sb" style="top:963.48px;font-size:6.40px;line-height:6.40px;font-weight:bold;left:31.00px;transform:scaleX(0.910);transform-origin:left center;">Random effects model</div>
<div class="sb" style="top:955.28px;font-size:6.40px;line-height:6.40px;font-weight:bold;left:-167.80px;width:400px;text-align:right;transform:scaleX(0.910);transform-origin:right center;">1.01</div>
<div class="sb" style="top:955.28px;font-size:6.40px;line-height:6.40px;font-weight:bold;left:-134.20px;width:400px;text-align:right;transform:scaleX(0.910);transform-origin:right center;">[1.00; 1.02]</div>
<div class="sb" style="top:955.28px;font-size:6.40px;line-height:6.40px;font-weight:bold;left:-112.30px;width:400px;text-align:right;transform:scaleX(0.910);transform-origin:right center;">100.0%</div>
<div class="sb" style="top:955.28px;font-size:6.40px;line-height:6.40px;font-weight:bold;left:-84.00px;width:400px;text-align:right;transform:scaleX(0.910);transform-origin:right center;">--</div>
<div class="sb" style="top:963.48px;font-size:6.40px;line-height:6.40px;font-weight:bold;left:-167.80px;width:400px;text-align:right;transform:scaleX(0.910);transform-origin:right center;">1.29</div>
<div class="sb" style="top:963.48px;font-size:6.40px;line-height:6.40px;font-weight:bold;left:-134.20px;width:400px;text-align:right;transform:scaleX(0.910);transform-origin:right center;">[1.14; 1.47]</div>
<div class="sb" style="top:963.48px;font-size:6.40px;line-height:6.40px;font-weight:bold;left:-112.30px;width:400px;text-align:right;transform:scaleX(0.910);transform-origin:right center;">--</div>
<div class="sb" style="top:963.48px;font-size:6.40px;line-height:6.40px;font-weight:bold;left:-84.00px;width:400px;text-align:right;transform:scaleX(0.910);transform-origin:right center;">100.0%</div>
<div class="s" style="top:971.78px;font-size:6.00px;line-height:6.00px;left:31.00px;transform:scaleX(0.888);transform-origin:left center;">Heterogeneity: <i>I</i><sup>2</sup> = 81%, <i>&tau;</i><sup>2</sup> = 0.0340, <i>p</i> &lt; 0.01</div>
<div class="s" style="top:980.28px;font-size:6.40px;line-height:6.40px;left:-54.25px;width:400px;text-align:center;transform:scaleX(0.935);transform-origin:center center;">0.5</div>
<div class="s" style="top:980.28px;font-size:6.40px;line-height:6.40px;left:-24.00px;width:400px;text-align:center;transform:scaleX(0.935);transform-origin:center center;">1</div>
<div class="s" style="top:980.28px;font-size:6.40px;line-height:6.40px;left:6.25px;width:400px;text-align:center;transform:scaleX(0.935);transform-origin:center center;">2</div>
<div style="top:978.62px;font-size:11.50px;line-height:11.50px;font-style:italic;left:217.60px;transform:scaleX(0.940);transform-origin:left center;">P&lt;0.0001</div>
<div class="L" style="top:990.70px;font-size:15.80px;line-height:15.80px;left:142.10px;transform:scaleX(1.165);transform-origin:left center;">No</div>
<div class="L" style="top:990.70px;font-size:15.80px;line-height:15.80px;left:193.40px;transform:scaleX(0.972);transform-origin:left center;">Yes</div>
<div class="L" style="top:770.90px;font-size:29.00px;line-height:29.00px;left:365.31px;transform:scaleX(0.909);transform-origin:left center;">H</div>
<div class="L" style="top:780.24px;font-size:18.50px;line-height:18.50px;left:395.40px;transform:scaleX(0.876);transform-origin:left center;">ECOG PS</div>
<div class="sb" style="top:813.18px;font-size:6.40px;line-height:6.40px;font-weight:bold;left:392.70px;transform:scaleX(0.910);transform-origin:left center;">Study</div>
<div class="sb" style="top:813.18px;font-size:6.40px;line-height:6.40px;font-weight:bold;left:71.10px;width:400px;text-align:right;transform:scaleX(0.910);transform-origin:right center;">TE</div>
<div class="sb" style="top:813.18px;font-size:6.40px;line-height:6.40px;font-weight:bold;left:93.20px;width:400px;text-align:right;transform:scaleX(0.910);transform-origin:right center;">seTE</div>
<div class="sb" style="top:813.18px;font-size:6.40px;line-height:6.40px;font-weight:bold;left:338.00px;width:400px;text-align:center;transform:scaleX(0.910);transform-origin:center center;">Odds Ratio</div>
<div class="sb" style="top:813.18px;font-size:6.40px;line-height:6.40px;font-weight:bold;left:194.00px;width:400px;text-align:right;transform:scaleX(0.910);transform-origin:right center;">OR</div>
<div class="sb" style="top:813.18px;font-size:6.40px;line-height:6.40px;font-weight:bold;left:227.50px;width:400px;text-align:right;transform:scaleX(0.910);transform-origin:right center;">95%-CI</div>
<div class="sb" style="top:805.78px;font-size:6.40px;line-height:6.40px;font-weight:bold;left:249.30px;width:400px;text-align:right;transform:scaleX(0.910);transform-origin:right center;">Weight</div>
<div class="sb" style="top:813.18px;font-size:6.40px;line-height:6.40px;font-weight:bold;left:249.30px;width:400px;text-align:right;transform:scaleX(0.910);transform-origin:right center;">(fixed)</div>
<div class="sb" style="top:805.78px;font-size:6.40px;line-height:6.40px;font-weight:bold;left:277.70px;width:400px;text-align:right;transform:scaleX(0.910);transform-origin:right center;">Weight</div>
<div class="sb" style="top:813.18px;font-size:6.40px;line-height:6.40px;font-weight:bold;left:277.70px;width:400px;text-align:right;transform:scaleX(0.910);transform-origin:right center;">(random)</div>
<div class="s" style="top:828.38px;font-size:6.40px;line-height:6.40px;left:392.70px;transform:scaleX(0.935);transform-origin:left center;">Kuderer NM 2020</div>
<div class="s" style="top:828.38px;font-size:6.40px;line-height:6.40px;left:71.10px;width:400px;text-align:right;transform:scaleX(0.935);transform-origin:right center;">0.75</div>
<div class="s" style="top:828.38px;font-size:6.40px;line-height:6.40px;left:93.20px;width:400px;text-align:right;transform:scaleX(0.935);transform-origin:right center;">0.1566</div>
<div class="s" style="top:828.38px;font-size:6.40px;line-height:6.40px;left:194.00px;width:400px;text-align:right;transform:scaleX(0.935);transform-origin:right center;">2.12</div>
<div class="s" style="top:828.38px;font-size:6.40px;line-height:6.40px;left:227.50px;width:400px;text-align:right;transform:scaleX(0.935);transform-origin:right center;">[1.56; 2.89]</div>
<div class="s" style="top:828.38px;font-size:6.40px;line-height:6.40px;left:249.30px;width:400px;text-align:right;transform:scaleX(0.935);transform-origin:right center;">5.3%</div>
<div class="s" style="top:828.38px;font-size:6.40px;line-height:6.40px;left:277.70px;width:400px;text-align:right;transform:scaleX(0.935);transform-origin:right center;">13.3%</div>
<div class="s" style="top:835.68px;font-size:6.40px;line-height:6.40px;left:392.70px;transform:scaleX(0.935);transform-origin:left center;">Yang K 2020</div>
<div class="s" style="top:835.68px;font-size:6.40px;line-height:6.40px;left:71.10px;width:400px;text-align:right;transform:scaleX(0.935);transform-origin:right center;">0.60</div>
<div class="s" style="top:835.68px;font-size:6.40px;line-height:6.40px;left:93.20px;width:400px;text-align:right;transform:scaleX(0.935);transform-origin:right center;">0.3526</div>
<div class="s" style="top:835.68px;font-size:6.40px;line-height:6.40px;left:194.00px;width:400px;text-align:right;transform:scaleX(0.935);transform-origin:right center;">1.82</div>
<div class="s" style="top:835.68px;font-size:6.40px;line-height:6.40px;left:227.50px;width:400px;text-align:right;transform:scaleX(0.935);transform-origin:right center;">[0.91; 3.64]</div>
<div class="s" style="top:835.68px;font-size:6.40px;line-height:6.40px;left:249.30px;width:400px;text-align:right;transform:scaleX(0.935);transform-origin:right center;">1.0%</div>
<div class="s" style="top:835.68px;font-size:6.40px;line-height:6.40px;left:277.70px;width:400px;text-align:right;transform:scaleX(0.935);transform-origin:right center;">4.4%</div>
<div class="s" style="top:842.98px;font-size:6.40px;line-height:6.40px;left:392.70px;transform:scaleX(0.935);transform-origin:left center;">Assaad S 2020</div>
<div class="s" style="top:842.98px;font-size:6.40px;line-height:6.40px;left:71.10px;width:400px;text-align:right;transform:scaleX(0.935);transform-origin:right center;">0.69</div>
<div class="s" style="top:842.98px;font-size:6.40px;line-height:6.40px;left:93.20px;width:400px;text-align:right;transform:scaleX(0.935);transform-origin:right center;">0.0462</div>
<div class="s" style="top:842.98px;font-size:6.40px;line-height:6.40px;left:194.00px;width:400px;text-align:right;transform:scaleX(0.935);transform-origin:right center;">1.99</div>
<div class="s" style="top:842.98px;font-size:6.40px;line-height:6.40px;left:227.50px;width:400px;text-align:right;transform:scaleX(0.935);transform-origin:right center;">[1.82; 2.18]</div>
<div class="s" style="top:842.98px;font-size:6.40px;line-height:6.40px;left:249.30px;width:400px;text-align:right;transform:scaleX(0.935);transform-origin:right center;">61.2%</div>
<div class="s" style="top:842.98px;font-size:6.40px;line-height:6.40px;left:277.70px;width:400px;text-align:right;transform:scaleX(0.935);transform-origin:right center;">24.0%</div>
<div class="s" style="top:850.28px;font-size:6.40px;line-height:6.40px;left:392.70px;transform:scaleX(0.935);transform-origin:left center;">Lara OD 2020</div>
<div class="s" style="top:850.28px;font-size:6.40px;line-height:6.40px;left:71.10px;width:400px;text-align:right;transform:scaleX(0.935);transform-origin:right center;">0.40</div>
<div class="s" style="top:850.28px;font-size:6.40px;line-height:6.40px;left:93.20px;width:400px;text-align:right;transform:scaleX(0.935);transform-origin:right center;">0.2255</div>
<div class="s" style="top:850.28px;font-size:6.40px;line-height:6.40px;left:194.00px;width:400px;text-align:right;transform:scaleX(0.935);transform-origin:right center;">1.50</div>
<div class="s" style="top:850.28px;font-size:6.40px;line-height:6.40px;left:227.50px;width:400px;text-align:right;transform:scaleX(0.935);transform-origin:right center;">[0.96; 2.33]</div>
<div class="s" style="top:850.28px;font-size:6.40px;line-height:6.40px;left:249.30px;width:400px;text-align:right;transform:scaleX(0.935);transform-origin:right center;">2.6%</div>
<div class="s" style="top:850.28px;font-size:6.40px;line-height:6.40px;left:277.70px;width:400px;text-align:right;transform:scaleX(0.935);transform-origin:right center;">8.7%</div>
<div class="s" style="top:857.58px;font-size:6.40px;line-height:6.40px;left:392.70px;transform:scaleX(0.935);transform-origin:left center;">Russell B 2020</div>
<div class="s" style="top:857.58px;font-size:6.40px;line-height:6.40px;left:71.10px;width:400px;text-align:right;transform:scaleX(0.935);transform-origin:right center;">-0.25</div>
<div class="s" style="top:857.58px;font-size:6.40px;line-height:6.40px;left:93.20px;width:400px;text-align:right;transform:scaleX(0.935);transform-origin:right center;">0.2881</div>
<div class="s" style="top:857.58px;font-size:6.40px;line-height:6.40px;left:194.00px;width:400px;text-align:right;transform:scaleX(0.935);transform-origin:right center;">0.78</div>
<div class="s" style="top:857.58px;font-size:6.40px;line-height:6.40px;left:227.50px;width:400px;text-align:right;transform:scaleX(0.935);transform-origin:right center;">[0.44; 1.37]</div>
<div class="s" style="top:857.58px;font-size:6.40px;line-height:6.40px;left:249.30px;width:400px;text-align:right;transform:scaleX(0.935);transform-origin:right center;">1.6%</div>
<div class="s" style="top:857.58px;font-size:6.40px;line-height:6.40px;left:277.70px;width:400px;text-align:right;transform:scaleX(0.935);transform-origin:right center;">6.1%</div>
<div class="s" style="top:864.88px;font-size:6.40px;line-height:6.40px;left:392.70px;transform:scaleX(0.935);transform-origin:left center;">Albiges L 2020</div>
<div class="s" style="top:864.88px;font-size:6.40px;line-height:6.40px;left:71.10px;width:400px;text-align:right;transform:scaleX(0.935);transform-origin:right center;">0.77</div>
<div class="s" style="top:864.88px;font-size:6.40px;line-height:6.40px;left:93.20px;width:400px;text-align:right;transform:scaleX(0.935);transform-origin:right center;">0.1792</div>
<div class="s" style="top:864.88px;font-size:6.40px;line-height:6.40px;left:194.00px;width:400px;text-align:right;transform:scaleX(0.935);transform-origin:right center;">2.15</div>
<div class="s" style="top:864.88px;font-size:6.40px;line-height:6.40px;left:227.50px;width:400px;text-align:right;transform:scaleX(0.935);transform-origin:right center;">[1.51; 3.06]</div>
<div class="s" style="top:864.88px;font-size:6.40px;line-height:6.40px;left:249.30px;width:400px;text-align:right;transform:scaleX(0.935);transform-origin:right center;">4.1%</div>
<div class="s" style="top:864.88px;font-size:6.40px;line-height:6.40px;left:277.70px;width:400px;text-align:right;transform:scaleX(0.935);transform-origin:right center;">11.5%</div>
<div class="s" style="top:872.18px;font-size:6.40px;line-height:6.40px;left:392.70px;transform:scaleX(0.935);transform-origin:left center;">Rogiers A 2021</div>
<div class="s" style="top:872.18px;font-size:6.40px;line-height:6.40px;left:71.10px;width:400px;text-align:right;transform:scaleX(0.935);transform-origin:right center;">0.58</div>
<div class="s" style="top:872.18px;font-size:6.40px;line-height:6.40px;left:93.20px;width:400px;text-align:right;transform:scaleX(0.935);transform-origin:right center;">0.2316</div>
<div class="s" style="top:872.18px;font-size:6.40px;line-height:6.40px;left:194.00px;width:400px;text-align:right;transform:scaleX(0.935);transform-origin:right center;">1.79</div>
<div class="s" style="top:872.18px;font-size:6.40px;line-height:6.40px;left:227.50px;width:400px;text-align:right;transform:scaleX(0.935);transform-origin:right center;">[1.14; 2.82]</div>
<div class="s" style="top:872.18px;font-size:6.40px;line-height:6.40px;left:249.30px;width:400px;text-align:right;transform:scaleX(0.935);transform-origin:right center;">2.4%</div>
<div class="s" style="top:872.18px;font-size:6.40px;line-height:6.40px;left:277.70px;width:400px;text-align:right;transform:scaleX(0.935);transform-origin:right center;">8.4%</div>
<div class="s" style="top:879.48px;font-size:6.40px;line-height:6.40px;left:392.70px;transform:scaleX(0.935);transform-origin:left center;">Hanna GJ 2020</div>
<div class="s" style="top:879.48px;font-size:6.40px;line-height:6.40px;left:71.10px;width:400px;text-align:right;transform:scaleX(0.935);transform-origin:right center;">-0.28</div>
<div class="s" style="top:879.48px;font-size:6.40px;line-height:6.40px;left:93.20px;width:400px;text-align:right;transform:scaleX(0.935);transform-origin:right center;">0.4748</div>
<div class="s" style="top:879.48px;font-size:6.40px;line-height:6.40px;left:194.00px;width:400px;text-align:right;transform:scaleX(0.935);transform-origin:right center;">0.75</div>
<div class="s" style="top:879.48px;font-size:6.40px;line-height:6.40px;left:227.50px;width:400px;text-align:right;transform:scaleX(0.935);transform-origin:right center;">[0.30; 1.91]</div>
<div class="s" style="top:879.48px;font-size:6.40px;line-height:6.40px;left:249.30px;width:400px;text-align:right;transform:scaleX(0.935);transform-origin:right center;">0.6%</div>
<div class="s" style="top:879.48px;font-size:6.40px;line-height:6.40px;left:277.70px;width:400px;text-align:right;transform:scaleX(0.935);transform-origin:right center;">2.6%</div>
<div class="s" style="top:886.78px;font-size:6.40px;line-height:6.40px;left:392.70px;transform:scaleX(0.935);transform-origin:left center;">Lieˋvre A 2020</div>
<div class="s" style="top:886.78px;font-size:6.40px;line-height:6.40px;left:71.10px;width:400px;text-align:right;transform:scaleX(0.935);transform-origin:right center;">0.51</div>
<div class="s" style="top:886.78px;font-size:6.40px;line-height:6.40px;left:93.20px;width:400px;text-align:right;transform:scaleX(0.935);transform-origin:right center;">0.0785</div>
<div class="s" style="top:886.78px;font-size:6.40px;line-height:6.40px;left:194.00px;width:400px;text-align:right;transform:scaleX(0.935);transform-origin:right center;">1.66</div>
<div class="s" style="top:886.78px;font-size:6.40px;line-height:6.40px;left:227.50px;width:400px;text-align:right;transform:scaleX(0.935);transform-origin:right center;">[1.43; 1.94]</div>
<div class="s" style="top:886.78px;font-size:6.40px;line-height:6.40px;left:249.30px;width:400px;text-align:right;transform:scaleX(0.935);transform-origin:right center;">21.2%</div>
<div class="s" style="top:886.78px;font-size:6.40px;line-height:6.40px;left:277.70px;width:400px;text-align:right;transform:scaleX(0.935);transform-origin:right center;">21.0%</div>
<div class="sb" style="top:901.53px;font-size:6.40px;line-height:6.40px;font-weight:bold;left:392.70px;transform:scaleX(0.910);transform-origin:left center;">Fixed effect model</div>
<div class="sb" style="top:908.58px;font-size:6.40px;line-height:6.40px;font-weight:bold;left:392.70px;transform:scaleX(0.910);transform-origin:left center;">Random effects model</div>
<div class="sb" style="top:901.53px;font-size:6.40px;line-height:6.40px;font-weight:bold;left:194.00px;width:400px;text-align:right;transform:scaleX(0.910);transform-origin:right center;">1.87</div>
<div class="sb" style="top:901.53px;font-size:6.40px;line-height:6.40px;font-weight:bold;left:227.50px;width:400px;text-align:right;transform:scaleX(0.910);transform-origin:right center;">[1.74; 2.01]</div>
<div class="sb" style="top:901.53px;font-size:6.40px;line-height:6.40px;font-weight:bold;left:249.30px;width:400px;text-align:right;transform:scaleX(0.910);transform-origin:right center;">100.0%</div>
<div class="sb" style="top:901.53px;font-size:6.40px;line-height:6.40px;font-weight:bold;left:277.70px;width:400px;text-align:right;transform:scaleX(0.910);transform-origin:right center;">--</div>
<div class="sb" style="top:908.58px;font-size:6.40px;line-height:6.40px;font-weight:bold;left:194.00px;width:400px;text-align:right;transform:scaleX(0.910);transform-origin:right center;">1.73</div>
<div class="sb" style="top:908.58px;font-size:6.40px;line-height:6.40px;font-weight:bold;left:227.50px;width:400px;text-align:right;transform:scaleX(0.910);transform-origin:right center;">[1.47; 2.03]</div>
<div class="sb" style="top:908.58px;font-size:6.40px;line-height:6.40px;font-weight:bold;left:249.30px;width:400px;text-align:right;transform:scaleX(0.910);transform-origin:right center;">--</div>
<div class="sb" style="top:908.58px;font-size:6.40px;line-height:6.40px;font-weight:bold;left:277.70px;width:400px;text-align:right;transform:scaleX(0.910);transform-origin:right center;">100.0%</div>
<div class="s" style="top:916.28px;font-size:6.00px;line-height:6.00px;left:392.70px;transform:scaleX(0.888);transform-origin:left center;">Heterogeneity: <i>I</i><sup>2</sup> = 58%, <i>&tau;</i><sup>2</sup> = 0.0255, <i>p</i> = 0.01</div>
<div class="s" style="top:923.88px;font-size:6.40px;line-height:6.40px;left:315.60px;width:400px;text-align:center;transform:scaleX(0.935);transform-origin:center center;">0.5</div>
<div class="s" style="top:923.88px;font-size:6.40px;line-height:6.40px;left:338.00px;width:400px;text-align:center;transform:scaleX(0.935);transform-origin:center center;">1</div>
<div class="s" style="top:923.88px;font-size:6.40px;line-height:6.40px;left:360.40px;width:400px;text-align:center;transform:scaleX(0.935);transform-origin:center center;">2</div>
<div style="top:922.07px;font-size:11.50px;line-height:11.50px;font-style:italic;left:581.00px;transform:scaleX(0.940);transform-origin:left center;">P&lt;0.0001</div>
<div class="L" style="top:943.20px;font-size:15.80px;line-height:15.80px;left:504.60px;transform:scaleX(1.043);transform-origin:left center;">Low</div>
<div class="L" style="top:943.20px;font-size:15.80px;line-height:15.80px;left:548.90px;transform:scaleX(1.101);transform-origin:left center;">High</div>
<div class="L" style="top:1034.60px;font-size:29.00px;line-height:29.00px;left:10.35px;">I</div>
<div class="L" style="top:1039.64px;font-size:18.50px;line-height:18.50px;left:37.40px;transform:scaleX(1.034);transform-origin:left center;">Type of solid tumour</div>
<div class="sb" style="top:1072.68px;font-size:6.40px;line-height:6.40px;font-weight:bold;left:31.00px;transform:scaleX(0.910);transform-origin:left center;">Study</div>
<div class="sb" style="top:1072.68px;font-size:6.40px;line-height:6.40px;font-weight:bold;left:-291.00px;width:400px;text-align:right;transform:scaleX(0.910);transform-origin:right center;">TE</div>
<div class="sb" style="top:1072.68px;font-size:6.40px;line-height:6.40px;font-weight:bold;left:-269.40px;width:400px;text-align:right;transform:scaleX(0.910);transform-origin:right center;">seTE</div>
<div class="sb" style="top:1072.68px;font-size:6.40px;line-height:6.40px;font-weight:bold;left:-24.00px;width:400px;text-align:center;transform:scaleX(0.910);transform-origin:center center;">Odds Ratio</div>
<div class="sb" style="top:1072.68px;font-size:6.40px;line-height:6.40px;font-weight:bold;left:-167.60px;width:400px;text-align:right;transform:scaleX(0.910);transform-origin:right center;">OR</div>
<div class="sb" style="top:1072.68px;font-size:6.40px;line-height:6.40px;font-weight:bold;left:-134.20px;width:400px;text-align:right;transform:scaleX(0.910);transform-origin:right center;">95%-CI</div>
<div class="sb" style="top:1064.38px;font-size:6.40px;line-height:6.40px;font-weight:bold;left:-112.20px;width:400px;text-align:right;transform:scaleX(0.910);transform-origin:right center;">Weight</div>
<div class="sb" style="top:1072.68px;font-size:6.40px;line-height:6.40px;font-weight:bold;left:-112.20px;width:400px;text-align:right;transform:scaleX(0.910);transform-origin:right center;">(fixed)</div>
<div class="sb" style="top:1064.38px;font-size:6.40px;line-height:6.40px;font-weight:bold;left:-83.90px;width:400px;text-align:right;transform:scaleX(0.910);transform-origin:right center;">Weight</div>
<div class="sb" style="top:1072.68px;font-size:6.40px;line-height:6.40px;font-weight:bold;left:-83.90px;width:400px;text-align:right;transform:scaleX(0.910);transform-origin:right center;">(random)</div>
<div class="s" style="top:1089.58px;font-size:6.40px;line-height:6.40px;left:31.00px;transform:scaleX(0.935);transform-origin:left center;">Zhang H 2020</div>
<div class="s" style="top:1089.58px;font-size:6.40px;line-height:6.40px;left:-291.00px;width:400px;text-align:right;transform:scaleX(0.935);transform-origin:right center;">-0.25</div>
<div class="s" style="top:1089.58px;font-size:6.40px;line-height:6.40px;left:-269.40px;width:400px;text-align:right;transform:scaleX(0.935);transform-origin:right center;">0.3077</div>
<div class="s" style="top:1089.58px;font-size:6.40px;line-height:6.40px;left:-167.60px;width:400px;text-align:right;transform:scaleX(0.935);transform-origin:right center;">0.78</div>
<div class="s" style="top:1089.58px;font-size:6.40px;line-height:6.40px;left:-134.20px;width:400px;text-align:right;transform:scaleX(0.935);transform-origin:right center;">[0.43; 1.42]</div>
<div class="s" style="top:1089.58px;font-size:6.40px;line-height:6.40px;left:-112.20px;width:400px;text-align:right;transform:scaleX(0.935);transform-origin:right center;">3.2%</div>
<div class="s" style="top:1089.58px;font-size:6.40px;line-height:6.40px;left:-83.90px;width:400px;text-align:right;transform:scaleX(0.935);transform-origin:right center;">11.8%</div>
<div class="s" style="top:1098.14px;font-size:6.40px;line-height:6.40px;left:31.00px;transform:scaleX(0.935);transform-origin:left center;">Yarza R 2020</div>
<div class="s" style="top:1098.14px;font-size:6.40px;line-height:6.40px;left:-291.00px;width:400px;text-align:right;transform:scaleX(0.935);transform-origin:right center;">0.37</div>
<div class="s" style="top:1098.14px;font-size:6.40px;line-height:6.40px;left:-269.40px;width:400px;text-align:right;transform:scaleX(0.935);transform-origin:right center;">0.3099</div>
<div class="s" style="top:1098.14px;font-size:6.40px;line-height:6.40px;left:-167.60px;width:400px;text-align:right;transform:scaleX(0.935);transform-origin:right center;">1.45</div>
<div class="s" style="top:1098.14px;font-size:6.40px;line-height:6.40px;left:-134.20px;width:400px;text-align:right;transform:scaleX(0.935);transform-origin:right center;">[0.79; 2.66]</div>
<div class="s" style="top:1098.14px;font-size:6.40px;line-height:6.40px;left:-112.20px;width:400px;text-align:right;transform:scaleX(0.935);transform-origin:right center;">3.2%</div>
<div class="s" style="top:1098.14px;font-size:6.40px;line-height:6.40px;left:-83.90px;width:400px;text-align:right;transform:scaleX(0.935);transform-origin:right center;">11.7%</div>
<div class="s" style="top:1106.70px;font-size:6.40px;line-height:6.40px;left:31.00px;transform:scaleX(0.935);transform-origin:left center;">Assaad S 2020</div>
<div class="s" style="top:1106.70px;font-size:6.40px;line-height:6.40px;left:-291.00px;width:400px;text-align:right;transform:scaleX(0.935);transform-origin:right center;">0.38</div>
<div class="s" style="top:1106.70px;font-size:6.40px;line-height:6.40px;left:-269.40px;width:400px;text-align:right;transform:scaleX(0.935);transform-origin:right center;">0.0775</div>
<div class="s" style="top:1106.70px;font-size:6.40px;line-height:6.40px;left:-167.60px;width:400px;text-align:right;transform:scaleX(0.935);transform-origin:right center;">1.46</div>
<div class="s" style="top:1106.70px;font-size:6.40px;line-height:6.40px;left:-134.20px;width:400px;text-align:right;transform:scaleX(0.935);transform-origin:right center;">[1.25; 1.70]</div>
<div class="s" style="top:1106.70px;font-size:6.40px;line-height:6.40px;left:-112.20px;width:400px;text-align:right;transform:scaleX(0.935);transform-origin:right center;">51.1%</div>
<div class="s" style="top:1106.70px;font-size:6.40px;line-height:6.40px;left:-83.90px;width:400px;text-align:right;transform:scaleX(0.935);transform-origin:right center;">26.2%</div>
<div class="s" style="top:1115.26px;font-size:6.40px;line-height:6.40px;left:31.00px;transform:scaleX(0.935);transform-origin:left center;">Liu C 2020</div>
<div class="s" style="top:1115.26px;font-size:6.40px;line-height:6.40px;left:-291.00px;width:400px;text-align:right;transform:scaleX(0.935);transform-origin:right center;">0.99</div>
<div class="s" style="top:1115.26px;font-size:6.40px;line-height:6.40px;left:-269.40px;width:400px;text-align:right;transform:scaleX(0.935);transform-origin:right center;">0.2903</div>
<div class="s" style="top:1115.26px;font-size:6.40px;line-height:6.40px;left:-167.60px;width:400px;text-align:right;transform:scaleX(0.935);transform-origin:right center;">2.70</div>
<div class="s" style="top:1115.26px;font-size:6.40px;line-height:6.40px;left:-134.20px;width:400px;text-align:right;transform:scaleX(0.935);transform-origin:right center;">[1.53; 4.77]</div>
<div class="s" style="top:1115.26px;font-size:6.40px;line-height:6.40px;left:-112.20px;width:400px;text-align:right;transform:scaleX(0.935);transform-origin:right center;">3.6%</div>
<div class="s" style="top:1115.26px;font-size:6.40px;line-height:6.40px;left:-83.90px;width:400px;text-align:right;transform:scaleX(0.935);transform-origin:right center;">12.6%</div>
<div class="s" style="top:1123.82px;font-size:6.40px;line-height:6.40px;left:31.00px;transform:scaleX(0.935);transform-origin:left center;">Rogiers A 2021</div>
<div class="s" style="top:1123.82px;font-size:6.40px;line-height:6.40px;left:-291.00px;width:400px;text-align:right;transform:scaleX(0.935);transform-origin:right center;">0.58</div>
<div class="s" style="top:1123.82px;font-size:6.40px;line-height:6.40px;left:-269.40px;width:400px;text-align:right;transform:scaleX(0.935);transform-origin:right center;">0.2923</div>
<div class="s" style="top:1123.82px;font-size:6.40px;line-height:6.40px;left:-167.60px;width:400px;text-align:right;transform:scaleX(0.935);transform-origin:right center;">1.79</div>
<div class="s" style="top:1123.82px;font-size:6.40px;line-height:6.40px;left:-134.20px;width:400px;text-align:right;transform:scaleX(0.935);transform-origin:right center;">[1.01; 3.17]</div>
<div class="s" style="top:1123.82px;font-size:6.40px;line-height:6.40px;left:-112.20px;width:400px;text-align:right;transform:scaleX(0.935);transform-origin:right center;">3.6%</div>
<div class="s" style="top:1123.82px;font-size:6.40px;line-height:6.40px;left:-83.90px;width:400px;text-align:right;transform:scaleX(0.935);transform-origin:right center;">12.5%</div>
<div class="s" style="top:1132.38px;font-size:6.40px;line-height:6.40px;left:31.00px;transform:scaleX(0.935);transform-origin:left center;">Lieˋvre A 2020</div>
<div class="s" style="top:1132.38px;font-size:6.40px;line-height:6.40px;left:-291.00px;width:400px;text-align:right;transform:scaleX(0.935);transform-origin:right center;">0.04</div>
<div class="s" style="top:1132.38px;font-size:6.40px;line-height:6.40px;left:-269.40px;width:400px;text-align:right;transform:scaleX(0.935);transform-origin:right center;">0.0932</div>
<div class="s" style="top:1132.38px;font-size:6.40px;line-height:6.40px;left:-167.60px;width:400px;text-align:right;transform:scaleX(0.935);transform-origin:right center;">1.04</div>
<div class="s" style="top:1132.38px;font-size:6.40px;line-height:6.40px;left:-134.20px;width:400px;text-align:right;transform:scaleX(0.935);transform-origin:right center;">[0.87; 1.25]</div>
<div class="s" style="top:1132.38px;font-size:6.40px;line-height:6.40px;left:-112.20px;width:400px;text-align:right;transform:scaleX(0.935);transform-origin:right center;">35.3%</div>
<div class="s" style="top:1132.38px;font-size:6.40px;line-height:6.40px;left:-83.90px;width:400px;text-align:right;transform:scaleX(0.935);transform-origin:right center;">25.2%</div>
<div class="sb" style="top:1149.48px;font-size:6.40px;line-height:6.40px;font-weight:bold;left:31.00px;transform:scaleX(0.910);transform-origin:left center;">Fixed effect model</div>
<div class="sb" style="top:1157.98px;font-size:6.40px;line-height:6.40px;font-weight:bold;left:31.00px;transform:scaleX(0.910);transform-origin:left center;">Random effects model</div>
<div class="sb" style="top:1149.48px;font-size:6.40px;line-height:6.40px;font-weight:bold;left:-167.60px;width:400px;text-align:right;transform:scaleX(0.910);transform-origin:right center;">1.31</div>
<div class="sb" style="top:1149.48px;font-size:6.40px;line-height:6.40px;font-weight:bold;left:-134.20px;width:400px;text-align:right;transform:scaleX(0.910);transform-origin:right center;">[1.17; 1.46]</div>
<div class="sb" style="top:1149.48px;font-size:6.40px;line-height:6.40px;font-weight:bold;left:-112.20px;width:400px;text-align:right;transform:scaleX(0.910);transform-origin:right center;">100.0%</div>
<div class="sb" style="top:1149.48px;font-size:6.40px;line-height:6.40px;font-weight:bold;left:-83.90px;width:400px;text-align:right;transform:scaleX(0.910);transform-origin:right center;">--</div>
<div class="sb" style="top:1157.98px;font-size:6.40px;line-height:6.40px;font-weight:bold;left:-167.60px;width:400px;text-align:right;transform:scaleX(0.910);transform-origin:right center;">1.38</div>
<div class="sb" style="top:1157.98px;font-size:6.40px;line-height:6.40px;font-weight:bold;left:-134.20px;width:400px;text-align:right;transform:scaleX(0.910);transform-origin:right center;">[1.05; 1.81]</div>
<div class="sb" style="top:1157.98px;font-size:6.40px;line-height:6.40px;font-weight:bold;left:-112.20px;width:400px;text-align:right;transform:scaleX(0.910);transform-origin:right center;">--</div>
<div class="sb" style="top:1157.98px;font-size:6.40px;line-height:6.40px;font-weight:bold;left:-83.90px;width:400px;text-align:right;transform:scaleX(0.910);transform-origin:right center;">100.0%</div>
<div class="s" style="top:1166.68px;font-size:6.00px;line-height:6.00px;left:31.00px;transform:scaleX(0.888);transform-origin:left center;">Heterogeneity: <i>I</i><sup>2</sup> = 73%, <i>&tau;</i><sup>2</sup> = 0.0666, <i>p</i> &lt; 0.01</div>
<div class="s" style="top:1175.48px;font-size:6.40px;line-height:6.40px;left:-42.45px;width:400px;text-align:center;transform:scaleX(0.935);transform-origin:center center;">0.5</div>
<div class="s" style="top:1175.48px;font-size:6.40px;line-height:6.40px;left:-24.00px;width:400px;text-align:center;transform:scaleX(0.935);transform-origin:center center;">1</div>
<div class="s" style="top:1175.48px;font-size:6.40px;line-height:6.40px;left:-5.55px;width:400px;text-align:center;transform:scaleX(0.935);transform-origin:center center;">2</div>
<div style="top:1172.37px;font-size:11.50px;line-height:11.50px;font-style:italic;left:218.40px;transform:scaleX(0.940);transform-origin:left center;">P=0.0200</div>
<div class="L" style="top:1192.80px;font-size:15.80px;line-height:15.80px;left:48.96px;transform:scaleX(1.092);transform-origin:left center;">Other solid tumour</div>
<div class="L" style="top:1192.80px;font-size:15.80px;line-height:15.80px;left:200.74px;transform:scaleX(1.050);transform-origin:left center;">Lung cancer</div>
<div class="L" style="top:1034.60px;font-size:29.00px;line-height:29.00px;left:370.28px;transform:scaleX(0.651);transform-origin:left center;">J</div>
<div class="L" style="top:1043.64px;font-size:18.50px;line-height:18.50px;left:396.90px;transform:scaleX(1.035);transform-origin:left center;">White blood cell count</div>
<div class="sb" style="top:1074.58px;font-size:6.40px;line-height:6.40px;font-weight:bold;left:393.90px;transform:scaleX(0.910);transform-origin:left center;">Study</div>
<div class="sb" style="top:1074.58px;font-size:6.40px;line-height:6.40px;font-weight:bold;left:70.30px;width:400px;text-align:right;transform:scaleX(0.910);transform-origin:right center;">TE</div>
<div class="sb" style="top:1074.58px;font-size:6.40px;line-height:6.40px;font-weight:bold;left:91.90px;width:400px;text-align:right;transform:scaleX(0.910);transform-origin:right center;">seTE</div>
<div class="sb" style="top:1074.58px;font-size:6.40px;line-height:6.40px;font-weight:bold;left:337.00px;width:400px;text-align:center;transform:scaleX(0.910);transform-origin:center center;">Odds Ratio</div>
<div class="sb" style="top:1074.58px;font-size:6.40px;line-height:6.40px;font-weight:bold;left:193.20px;width:400px;text-align:right;transform:scaleX(0.910);transform-origin:right center;">OR</div>
<div class="sb" style="top:1074.58px;font-size:6.40px;line-height:6.40px;font-weight:bold;left:226.40px;width:400px;text-align:right;transform:scaleX(0.910);transform-origin:right center;">95%-CI</div>
<div class="sb" style="top:1065.78px;font-size:6.40px;line-height:6.40px;font-weight:bold;left:248.50px;width:400px;text-align:right;transform:scaleX(0.910);transform-origin:right center;">Weight</div>
<div class="sb" style="top:1074.58px;font-size:6.40px;line-height:6.40px;font-weight:bold;left:248.50px;width:400px;text-align:right;transform:scaleX(0.910);transform-origin:right center;">(fixed)</div>
<div class="sb" style="top:1065.78px;font-size:6.40px;line-height:6.40px;font-weight:bold;left:276.90px;width:400px;text-align:right;transform:scaleX(0.910);transform-origin:right center;">Weight</div>
<div class="sb" style="top:1074.58px;font-size:6.40px;line-height:6.40px;font-weight:bold;left:276.90px;width:400px;text-align:right;transform:scaleX(0.910);transform-origin:right center;">(random)</div>
<div class="s" style="top:1092.28px;font-size:6.40px;line-height:6.40px;left:393.90px;transform:scaleX(0.935);transform-origin:left center;">Yang K 2020</div>
<div class="s" style="top:1092.28px;font-size:6.40px;line-height:6.40px;left:70.30px;width:400px;text-align:right;transform:scaleX(0.935);transform-origin:right center;">0.93</div>
<div class="s" style="top:1092.28px;font-size:6.40px;line-height:6.40px;left:91.90px;width:400px;text-align:right;transform:scaleX(0.935);transform-origin:right center;">0.2101</div>
<div class="s" style="top:1092.28px;font-size:6.40px;line-height:6.40px;left:193.20px;width:400px;text-align:right;transform:scaleX(0.935);transform-origin:right center;">2.54</div>
<div class="s" style="top:1092.28px;font-size:6.40px;line-height:6.40px;left:226.40px;width:400px;text-align:right;transform:scaleX(0.935);transform-origin:right center;">[1.69; 3.84]</div>
<div class="s" style="top:1092.28px;font-size:6.40px;line-height:6.40px;left:248.50px;width:400px;text-align:right;transform:scaleX(0.935);transform-origin:right center;">45.3%</div>
<div class="s" style="top:1092.28px;font-size:6.40px;line-height:6.40px;left:276.90px;width:400px;text-align:right;transform:scaleX(0.935);transform-origin:right center;">31.6%</div>
<div class="s" style="top:1100.85px;font-size:6.40px;line-height:6.40px;left:393.90px;transform:scaleX(0.935);transform-origin:left center;">Liu C 2020</div>
<div class="s" style="top:1100.85px;font-size:6.40px;line-height:6.40px;left:70.30px;width:400px;text-align:right;transform:scaleX(0.935);transform-origin:right center;">1.16</div>
<div class="s" style="top:1100.85px;font-size:6.40px;line-height:6.40px;left:91.90px;width:400px;text-align:right;transform:scaleX(0.935);transform-origin:right center;">0.3944</div>
<div class="s" style="top:1100.85px;font-size:6.40px;line-height:6.40px;left:193.20px;width:400px;text-align:right;transform:scaleX(0.935);transform-origin:right center;">3.20</div>
<div class="s" style="top:1100.85px;font-size:6.40px;line-height:6.40px;left:226.40px;width:400px;text-align:right;transform:scaleX(0.935);transform-origin:right center;">[1.48; 6.92]</div>
<div class="s" style="top:1100.85px;font-size:6.40px;line-height:6.40px;left:248.50px;width:400px;text-align:right;transform:scaleX(0.935);transform-origin:right center;">12.9%</div>
<div class="s" style="top:1100.85px;font-size:6.40px;line-height:6.40px;left:276.90px;width:400px;text-align:right;transform:scaleX(0.935);transform-origin:right center;">19.6%</div>
<div class="s" style="top:1109.42px;font-size:6.40px;line-height:6.40px;left:393.90px;transform:scaleX(0.935);transform-origin:left center;">Wang BO 2020</div>
<div class="s" style="top:1109.42px;font-size:6.40px;line-height:6.40px;left:70.30px;width:400px;text-align:right;transform:scaleX(0.935);transform-origin:right center;">0.17</div>
<div class="s" style="top:1109.42px;font-size:6.40px;line-height:6.40px;left:91.90px;width:400px;text-align:right;transform:scaleX(0.935);transform-origin:right center;">0.3423</div>
<div class="s" style="top:1109.42px;font-size:6.40px;line-height:6.40px;left:193.20px;width:400px;text-align:right;transform:scaleX(0.935);transform-origin:right center;">1.18</div>
<div class="s" style="top:1109.42px;font-size:6.40px;line-height:6.40px;left:226.40px;width:400px;text-align:right;transform:scaleX(0.935);transform-origin:right center;">[0.60; 2.31]</div>
<div class="s" style="top:1109.42px;font-size:6.40px;line-height:6.40px;left:248.50px;width:400px;text-align:right;transform:scaleX(0.935);transform-origin:right center;">17.1%</div>
<div class="s" style="top:1109.42px;font-size:6.40px;line-height:6.40px;left:276.90px;width:400px;text-align:right;transform:scaleX(0.935);transform-origin:right center;">22.5%</div>
<div class="s" style="top:1117.99px;font-size:6.40px;line-height:6.40px;left:393.90px;transform:scaleX(0.935);transform-origin:left center;">Rogiers A 2021</div>
<div class="s" style="top:1117.99px;font-size:6.40px;line-height:6.40px;left:70.30px;width:400px;text-align:right;transform:scaleX(0.935);transform-origin:right center;">0.23</div>
<div class="s" style="top:1117.99px;font-size:6.40px;line-height:6.40px;left:91.90px;width:400px;text-align:right;transform:scaleX(0.935);transform-origin:right center;">0.2844</div>
<div class="s" style="top:1117.99px;font-size:6.40px;line-height:6.40px;left:193.20px;width:400px;text-align:right;transform:scaleX(0.935);transform-origin:right center;">1.26</div>
<div class="s" style="top:1117.99px;font-size:6.40px;line-height:6.40px;left:226.40px;width:400px;text-align:right;transform:scaleX(0.935);transform-origin:right center;">[0.72; 2.20]</div>
<div class="s" style="top:1117.99px;font-size:6.40px;line-height:6.40px;left:248.50px;width:400px;text-align:right;transform:scaleX(0.935);transform-origin:right center;">24.7%</div>
<div class="s" style="top:1117.99px;font-size:6.40px;line-height:6.40px;left:276.90px;width:400px;text-align:right;transform:scaleX(0.935);transform-origin:right center;">26.3%</div>
<div class="sb" style="top:1135.18px;font-size:6.40px;line-height:6.40px;font-weight:bold;left:393.90px;transform:scaleX(0.910);transform-origin:left center;">Fixed effect model</div>
<div class="sb" style="top:1143.68px;font-size:6.40px;line-height:6.40px;font-weight:bold;left:393.90px;transform:scaleX(0.910);transform-origin:left center;">Random effects model</div>
<div class="sb" style="top:1135.18px;font-size:6.40px;line-height:6.40px;font-weight:bold;left:193.20px;width:400px;text-align:right;transform:scaleX(0.910);transform-origin:right center;">1.93</div>
<div class="sb" style="top:1135.18px;font-size:6.40px;line-height:6.40px;font-weight:bold;left:226.40px;width:400px;text-align:right;transform:scaleX(0.910);transform-origin:right center;">[1.46; 2.55]</div>
<div class="sb" style="top:1135.18px;font-size:6.40px;line-height:6.40px;font-weight:bold;left:248.50px;width:400px;text-align:right;transform:scaleX(0.910);transform-origin:right center;">100.0%</div>
<div class="sb" style="top:1135.18px;font-size:6.40px;line-height:6.40px;font-weight:bold;left:276.90px;width:400px;text-align:right;transform:scaleX(0.910);transform-origin:right center;">--</div>
<div class="sb" style="top:1143.68px;font-size:6.40px;line-height:6.40px;font-weight:bold;left:193.20px;width:400px;text-align:right;transform:scaleX(0.910);transform-origin:right center;">1.86</div>
<div class="sb" style="top:1143.68px;font-size:6.40px;line-height:6.40px;font-weight:bold;left:226.40px;width:400px;text-align:right;transform:scaleX(0.910);transform-origin:right center;">[1.17; 2.97]</div>
<div class="sb" style="top:1143.68px;font-size:6.40px;line-height:6.40px;font-weight:bold;left:248.50px;width:400px;text-align:right;transform:scaleX(0.910);transform-origin:right center;">--</div>
<div class="sb" style="top:1143.68px;font-size:6.40px;line-height:6.40px;font-weight:bold;left:276.90px;width:400px;text-align:right;transform:scaleX(0.910);transform-origin:right center;">100.0%</div>
<div class="s" style="top:1152.88px;font-size:6.00px;line-height:6.00px;left:393.90px;transform:scaleX(0.888);transform-origin:left center;">Heterogeneity: <i>I</i><sup>2</sup> = 61%, <i>&tau;</i><sup>2</sup> = 0.1360, <i>p</i> = 0.05</div>
<div class="s" style="top:1161.78px;font-size:6.40px;line-height:6.40px;left:302.70px;width:400px;text-align:center;transform:scaleX(0.935);transform-origin:center center;">0.2</div>
<div class="s" style="top:1161.78px;font-size:6.40px;line-height:6.40px;left:322.23px;width:400px;text-align:center;transform:scaleX(0.935);transform-origin:center center;">0.5</div>
<div class="s" style="top:1161.78px;font-size:6.40px;line-height:6.40px;left:337.00px;width:400px;text-align:center;transform:scaleX(0.935);transform-origin:center center;">1</div>
<div class="s" style="top:1161.78px;font-size:6.40px;line-height:6.40px;left:351.77px;width:400px;text-align:center;transform:scaleX(0.935);transform-origin:center center;">2</div>
<div class="s" style="top:1161.78px;font-size:6.40px;line-height:6.40px;left:371.30px;width:400px;text-align:center;transform:scaleX(0.935);transform-origin:center center;">5</div>
<div style="top:1159.77px;font-size:11.50px;line-height:11.50px;font-style:italic;left:579.70px;transform:scaleX(0.940);transform-origin:left center;">P=0.0093</div>
<div class="L" style="top:1178.40px;font-size:15.80px;line-height:15.80px;left:480.04px;transform:scaleX(1.128);transform-origin:left center;">Normal</div>
<div class="L" style="top:1178.40px;font-size:15.80px;line-height:15.80px;left:553.60px;transform:scaleX(1.137);transform-origin:left center;">High</div>
<div class="L" style="top:1240.80px;font-size:29.00px;line-height:29.00px;left:3.39px;transform:scaleX(0.883);transform-origin:left center;">K</div>
<div class="L" style="top:1246.74px;font-size:18.50px;line-height:18.50px;left:35.55px;transform:scaleX(0.886);transform-origin:left center;">CRP</div>
<div class="sb" style="top:1276.28px;font-size:6.40px;line-height:6.40px;font-weight:bold;left:31.00px;transform:scaleX(0.910);transform-origin:left center;">Study</div>
<div class="sb" style="top:1276.28px;font-size:6.40px;line-height:6.40px;font-weight:bold;left:-291.00px;width:400px;text-align:right;transform:scaleX(0.910);transform-origin:right center;">TE</div>
<div class="sb" style="top:1276.28px;font-size:6.40px;line-height:6.40px;font-weight:bold;left:-269.40px;width:400px;text-align:right;transform:scaleX(0.910);transform-origin:right center;">seTE</div>
<div class="sb" style="top:1276.28px;font-size:6.40px;line-height:6.40px;font-weight:bold;left:-24.00px;width:400px;text-align:center;transform:scaleX(0.910);transform-origin:center center;">Odds Ratio</div>
<div class="sb" style="top:1276.28px;font-size:6.40px;line-height:6.40px;font-weight:bold;left:-167.80px;width:400px;text-align:right;transform:scaleX(0.910);transform-origin:right center;">OR</div>
<div class="sb" style="top:1276.28px;font-size:6.40px;line-height:6.40px;font-weight:bold;left:-134.20px;width:400px;text-align:right;transform:scaleX(0.910);transform-origin:right center;">95%-CI</div>
<div class="sb" style="top:1268.28px;font-size:6.40px;line-height:6.40px;font-weight:bold;left:-112.30px;width:400px;text-align:right;transform:scaleX(0.910);transform-origin:right center;">Weight</div>
<div class="sb" style="top:1276.28px;font-size:6.40px;line-height:6.40px;font-weight:bold;left:-112.30px;width:400px;text-align:right;transform:scaleX(0.910);transform-origin:right center;">(fixed)</div>
<div class="sb" style="top:1268.28px;font-size:6.40px;line-height:6.40px;font-weight:bold;left:-84.00px;width:400px;text-align:right;transform:scaleX(0.910);transform-origin:right center;">Weight</div>
<div class="sb" style="top:1276.28px;font-size:6.40px;line-height:6.40px;font-weight:bold;left:-84.00px;width:400px;text-align:right;transform:scaleX(0.910);transform-origin:right center;">(random)</div>
<div class="s" style="top:1291.38px;font-size:6.40px;line-height:6.40px;left:31.00px;transform:scaleX(0.935);transform-origin:left center;">Yang K 2020</div>
<div class="s" style="top:1291.38px;font-size:6.40px;line-height:6.40px;left:-291.00px;width:400px;text-align:right;transform:scaleX(0.935);transform-origin:right center;">1.22</div>
<div class="s" style="top:1291.38px;font-size:6.40px;line-height:6.40px;left:-269.40px;width:400px;text-align:right;transform:scaleX(0.935);transform-origin:right center;">0.3234</div>
<div class="s" style="top:1291.38px;font-size:6.40px;line-height:6.40px;left:-167.80px;width:400px;text-align:right;transform:scaleX(0.935);transform-origin:right center;">3.37</div>
<div class="s" style="top:1291.38px;font-size:6.40px;line-height:6.40px;left:-134.20px;width:400px;text-align:right;transform:scaleX(0.935);transform-origin:right center;">[1.79; 6.35]</div>
<div class="s" style="top:1291.38px;font-size:6.40px;line-height:6.40px;left:-112.30px;width:400px;text-align:right;transform:scaleX(0.935);transform-origin:right center;">0.0%</div>
<div class="s" style="top:1291.38px;font-size:6.40px;line-height:6.40px;left:-84.00px;width:400px;text-align:right;transform:scaleX(0.935);transform-origin:right center;">0.1%</div>
<div class="s" style="top:1298.79px;font-size:6.40px;line-height:6.40px;left:31.00px;transform:scaleX(0.935);transform-origin:left center;">Li Q 2020</div>
<div class="s" style="top:1298.79px;font-size:6.40px;line-height:6.40px;left:-291.00px;width:400px;text-align:right;transform:scaleX(0.935);transform-origin:right center;">0.00</div>
<div class="s" style="top:1298.79px;font-size:6.40px;line-height:6.40px;left:-269.40px;width:400px;text-align:right;transform:scaleX(0.935);transform-origin:right center;">0.0011</div>
<div class="s" style="top:1298.79px;font-size:6.40px;line-height:6.40px;left:-167.80px;width:400px;text-align:right;transform:scaleX(0.935);transform-origin:right center;">1.00</div>
<div class="s" style="top:1298.79px;font-size:6.40px;line-height:6.40px;left:-134.20px;width:400px;text-align:right;transform:scaleX(0.935);transform-origin:right center;">[1.00; 1.01]</div>
<div class="s" style="top:1298.79px;font-size:6.40px;line-height:6.40px;left:-112.30px;width:400px;text-align:right;transform:scaleX(0.935);transform-origin:right center;">87.2%</div>
<div class="s" style="top:1298.79px;font-size:6.40px;line-height:6.40px;left:-84.00px;width:400px;text-align:right;transform:scaleX(0.935);transform-origin:right center;">33.0%</div>
<div class="s" style="top:1306.20px;font-size:6.40px;line-height:6.40px;left:31.00px;transform:scaleX(0.935);transform-origin:left center;">Sanchez-Pina JM 2020</div>
<div class="s" style="top:1306.20px;font-size:6.40px;line-height:6.40px;left:-291.00px;width:400px;text-align:right;transform:scaleX(0.935);transform-origin:right center;">1.13</div>
<div class="s" style="top:1306.20px;font-size:6.40px;line-height:6.40px;left:-269.40px;width:400px;text-align:right;transform:scaleX(0.935);transform-origin:right center;">0.5228</div>
<div class="s" style="top:1306.20px;font-size:6.40px;line-height:6.40px;left:-167.80px;width:400px;text-align:right;transform:scaleX(0.935);transform-origin:right center;">3.10</div>
<div class="s" style="top:1306.20px;font-size:6.40px;line-height:6.40px;left:-134.20px;width:400px;text-align:right;transform:scaleX(0.935);transform-origin:right center;">[1.11; 8.65]</div>
<div class="s" style="top:1306.20px;font-size:6.40px;line-height:6.40px;left:-112.30px;width:400px;text-align:right;transform:scaleX(0.935);transform-origin:right center;">0.0%</div>
<div class="s" style="top:1306.20px;font-size:6.40px;line-height:6.40px;left:-84.00px;width:400px;text-align:right;transform:scaleX(0.935);transform-origin:right center;">0.1%</div>
<div class="s" style="top:1313.61px;font-size:6.40px;line-height:6.40px;left:31.00px;transform:scaleX(0.935);transform-origin:left center;">Assaad S 2020</div>
<div class="s" style="top:1313.61px;font-size:6.40px;line-height:6.40px;left:-291.00px;width:400px;text-align:right;transform:scaleX(0.935);transform-origin:right center;">0.50</div>
<div class="s" style="top:1313.61px;font-size:6.40px;line-height:6.40px;left:-269.40px;width:400px;text-align:right;transform:scaleX(0.935);transform-origin:right center;">0.0656</div>
<div class="s" style="top:1313.61px;font-size:6.40px;line-height:6.40px;left:-167.80px;width:400px;text-align:right;transform:scaleX(0.935);transform-origin:right center;">1.64</div>
<div class="s" style="top:1313.61px;font-size:6.40px;line-height:6.40px;left:-134.20px;width:400px;text-align:right;transform:scaleX(0.935);transform-origin:right center;">[1.44; 1.87]</div>
<div class="s" style="top:1313.61px;font-size:6.40px;line-height:6.40px;left:-112.30px;width:400px;text-align:right;transform:scaleX(0.935);transform-origin:right center;">0.0%</div>
<div class="s" style="top:1313.61px;font-size:6.40px;line-height:6.40px;left:-84.00px;width:400px;text-align:right;transform:scaleX(0.935);transform-origin:right center;">3.1%</div>
<div class="s" style="top:1321.02px;font-size:6.40px;line-height:6.40px;left:31.00px;transform:scaleX(0.935);transform-origin:left center;">Russell B 2020</div>
<div class="s" style="top:1321.02px;font-size:6.40px;line-height:6.40px;left:-291.00px;width:400px;text-align:right;transform:scaleX(0.935);transform-origin:right center;">1.01</div>
<div class="s" style="top:1321.02px;font-size:6.40px;line-height:6.40px;left:-269.40px;width:400px;text-align:right;transform:scaleX(0.935);transform-origin:right center;">0.4328</div>
<div class="s" style="top:1321.02px;font-size:6.40px;line-height:6.40px;left:-167.80px;width:400px;text-align:right;transform:scaleX(0.935);transform-origin:right center;">2.76</div>
<div class="s" style="top:1321.02px;font-size:6.40px;line-height:6.40px;left:-134.20px;width:400px;text-align:right;transform:scaleX(0.935);transform-origin:right center;">[1.18; 6.44]</div>
<div class="s" style="top:1321.02px;font-size:6.40px;line-height:6.40px;left:-112.30px;width:400px;text-align:right;transform:scaleX(0.935);transform-origin:right center;">0.0%</div>
<div class="s" style="top:1321.02px;font-size:6.40px;line-height:6.40px;left:-84.00px;width:400px;text-align:right;transform:scaleX(0.935);transform-origin:right center;">0.1%</div>
<div class="s" style="top:1328.43px;font-size:6.40px;line-height:6.40px;left:31.00px;transform:scaleX(0.935);transform-origin:left center;">De Melo AC 2020</div>
<div class="s" style="top:1328.43px;font-size:6.40px;line-height:6.40px;left:-291.00px;width:400px;text-align:right;transform:scaleX(0.935);transform-origin:right center;">0.02</div>
<div class="s" style="top:1328.43px;font-size:6.40px;line-height:6.40px;left:-269.40px;width:400px;text-align:right;transform:scaleX(0.935);transform-origin:right center;">0.0054</div>
<div class="s" style="top:1328.43px;font-size:6.40px;line-height:6.40px;left:-167.80px;width:400px;text-align:right;transform:scaleX(0.935);transform-origin:right center;">1.02</div>
<div class="s" style="top:1328.43px;font-size:6.40px;line-height:6.40px;left:-134.20px;width:400px;text-align:right;transform:scaleX(0.935);transform-origin:right center;">[1.01; 1.03]</div>
<div class="s" style="top:1328.43px;font-size:6.40px;line-height:6.40px;left:-112.30px;width:400px;text-align:right;transform:scaleX(0.935);transform-origin:right center;">3.6%</div>
<div class="s" style="top:1328.43px;font-size:6.40px;line-height:6.40px;left:-84.00px;width:400px;text-align:right;transform:scaleX(0.935);transform-origin:right center;">31.0%</div>
<div class="s" style="top:1335.84px;font-size:6.40px;line-height:6.40px;left:31.00px;transform:scaleX(0.935);transform-origin:left center;">Nakamura S 2020</div>
<div class="s" style="top:1335.84px;font-size:6.40px;line-height:6.40px;left:-291.00px;width:400px;text-align:right;transform:scaleX(0.935);transform-origin:right center;">0.76</div>
<div class="s" style="top:1335.84px;font-size:6.40px;line-height:6.40px;left:-269.40px;width:400px;text-align:right;transform:scaleX(0.935);transform-origin:right center;">0.2958</div>
<div class="s" style="top:1335.84px;font-size:6.40px;line-height:6.40px;left:-167.80px;width:400px;text-align:right;transform:scaleX(0.935);transform-origin:right center;">2.15</div>
<div class="s" style="top:1335.84px;font-size:6.40px;line-height:6.40px;left:-134.20px;width:400px;text-align:right;transform:scaleX(0.935);transform-origin:right center;">[1.20; 3.84]</div>
<div class="s" style="top:1335.84px;font-size:6.40px;line-height:6.40px;left:-112.30px;width:400px;text-align:right;transform:scaleX(0.935);transform-origin:right center;">0.0%</div>
<div class="s" style="top:1335.84px;font-size:6.40px;line-height:6.40px;left:-84.00px;width:400px;text-align:right;transform:scaleX(0.935);transform-origin:right center;">0.2%</div>
<div class="s" style="top:1343.25px;font-size:6.40px;line-height:6.40px;left:31.00px;transform:scaleX(0.935);transform-origin:left center;">Rogiers A 2021</div>
<div class="s" style="top:1343.25px;font-size:6.40px;line-height:6.40px;left:-291.00px;width:400px;text-align:right;transform:scaleX(0.935);transform-origin:right center;">0.57</div>
<div class="s" style="top:1343.25px;font-size:6.40px;line-height:6.40px;left:-269.40px;width:400px;text-align:right;transform:scaleX(0.935);transform-origin:right center;">0.2428</div>
<div class="s" style="top:1343.25px;font-size:6.40px;line-height:6.40px;left:-167.80px;width:400px;text-align:right;transform:scaleX(0.935);transform-origin:right center;">1.77</div>
<div class="s" style="top:1343.25px;font-size:6.40px;line-height:6.40px;left:-134.20px;width:400px;text-align:right;transform:scaleX(0.935);transform-origin:right center;">[1.10; 2.84]</div>
<div class="s" style="top:1343.25px;font-size:6.40px;line-height:6.40px;left:-112.30px;width:400px;text-align:right;transform:scaleX(0.935);transform-origin:right center;">0.0%</div>
<div class="s" style="top:1343.25px;font-size:6.40px;line-height:6.40px;left:-84.00px;width:400px;text-align:right;transform:scaleX(0.935);transform-origin:right center;">0.2%</div>
<div class="s" style="top:1350.66px;font-size:6.40px;line-height:6.40px;left:31.00px;transform:scaleX(0.935);transform-origin:left center;">Hanna GJ 2020</div>
<div class="s" style="top:1350.66px;font-size:6.40px;line-height:6.40px;left:-291.00px;width:400px;text-align:right;transform:scaleX(0.935);transform-origin:right center;">-0.00</div>
<div class="s" style="top:1350.66px;font-size:6.40px;line-height:6.40px;left:-269.40px;width:400px;text-align:right;transform:scaleX(0.935);transform-origin:right center;">0.0034</div>
<div class="s" style="top:1350.66px;font-size:6.40px;line-height:6.40px;left:-167.80px;width:400px;text-align:right;transform:scaleX(0.935);transform-origin:right center;">1.00</div>
<div class="s" style="top:1350.66px;font-size:6.40px;line-height:6.40px;left:-134.20px;width:400px;text-align:right;transform:scaleX(0.935);transform-origin:right center;">[0.99; 1.00]</div>
<div class="s" style="top:1350.66px;font-size:6.40px;line-height:6.40px;left:-112.30px;width:400px;text-align:right;transform:scaleX(0.935);transform-origin:right center;">9.1%</div>
<div class="s" style="top:1350.66px;font-size:6.40px;line-height:6.40px;left:-84.00px;width:400px;text-align:right;transform:scaleX(0.935);transform-origin:right center;">32.2%</div>
<div class="sb" style="top:1366.18px;font-size:6.40px;line-height:6.40px;font-weight:bold;left:31.00px;transform:scaleX(0.910);transform-origin:left center;">Fixed effect model</div>
<div class="sb" style="top:1373.18px;font-size:6.40px;line-height:6.40px;font-weight:bold;left:31.00px;transform:scaleX(0.910);transform-origin:left center;">Random effects model</div>
<div class="sb" style="top:1366.18px;font-size:6.40px;line-height:6.40px;font-weight:bold;left:-167.80px;width:400px;text-align:right;transform:scaleX(0.910);transform-origin:right center;">1.00</div>
<div class="sb" style="top:1366.18px;font-size:6.40px;line-height:6.40px;font-weight:bold;left:-134.20px;width:400px;text-align:right;transform:scaleX(0.910);transform-origin:right center;">[1.00; 1.01]</div>
<div class="sb" style="top:1366.18px;font-size:6.40px;line-height:6.40px;font-weight:bold;left:-112.30px;width:400px;text-align:right;transform:scaleX(0.910);transform-origin:right center;">100.0%</div>
<div class="sb" style="top:1366.18px;font-size:6.40px;line-height:6.40px;font-weight:bold;left:-84.00px;width:400px;text-align:right;transform:scaleX(0.910);transform-origin:right center;">--</div>
<div class="sb" style="top:1373.18px;font-size:6.40px;line-height:6.40px;font-weight:bold;left:-167.80px;width:400px;text-align:right;transform:scaleX(0.910);transform-origin:right center;">1.03</div>
<div class="sb" style="top:1373.18px;font-size:6.40px;line-height:6.40px;font-weight:bold;left:-134.20px;width:400px;text-align:right;transform:scaleX(0.910);transform-origin:right center;">[1.00; 1.05]</div>
<div class="sb" style="top:1373.18px;font-size:6.40px;line-height:6.40px;font-weight:bold;left:-112.30px;width:400px;text-align:right;transform:scaleX(0.910);transform-origin:right center;">--</div>
<div class="sb" style="top:1373.18px;font-size:6.40px;line-height:6.40px;font-weight:bold;left:-84.00px;width:400px;text-align:right;transform:scaleX(0.910);transform-origin:right center;">100.0%</div>
<div class="s" style="top:1380.38px;font-size:6.00px;line-height:6.00px;left:31.00px;transform:scaleX(0.888);transform-origin:left center;">Heterogeneity: <i>I</i><sup>2</sup> = 92%, <i>&tau;</i><sup>2</sup> = 0.0004, <i>p</i> &lt; 0.01</div>
<div class="s" style="top:1388.38px;font-size:6.40px;line-height:6.40px;left:-55.31px;width:400px;text-align:center;transform:scaleX(0.935);transform-origin:center center;">0.2</div>
<div class="s" style="top:1388.38px;font-size:6.40px;line-height:6.40px;left:-37.49px;width:400px;text-align:center;transform:scaleX(0.935);transform-origin:center center;">0.5</div>
<div class="s" style="top:1388.38px;font-size:6.40px;line-height:6.40px;left:-24.00px;width:400px;text-align:center;transform:scaleX(0.935);transform-origin:center center;">1</div>
<div class="s" style="top:1388.38px;font-size:6.40px;line-height:6.40px;left:-10.51px;width:400px;text-align:center;transform:scaleX(0.935);transform-origin:center center;">2</div>
<div class="s" style="top:1388.38px;font-size:6.40px;line-height:6.40px;left:7.31px;width:400px;text-align:center;transform:scaleX(0.935);transform-origin:center center;">5</div>
<div style="top:1386.67px;font-size:11.50px;line-height:11.50px;font-style:italic;left:219.90px;transform:scaleX(0.940);transform-origin:left center;">P=0.0298</div>
<div class="L" style="top:1403.40px;font-size:15.80px;line-height:15.80px;left:118.27px;transform:scaleX(1.116);transform-origin:left center;">Normal</div>
<div class="L" style="top:1403.40px;font-size:15.80px;line-height:15.80px;left:192.00px;transform:scaleX(1.154);transform-origin:left center;">High</div>
</div>
</body></html>
